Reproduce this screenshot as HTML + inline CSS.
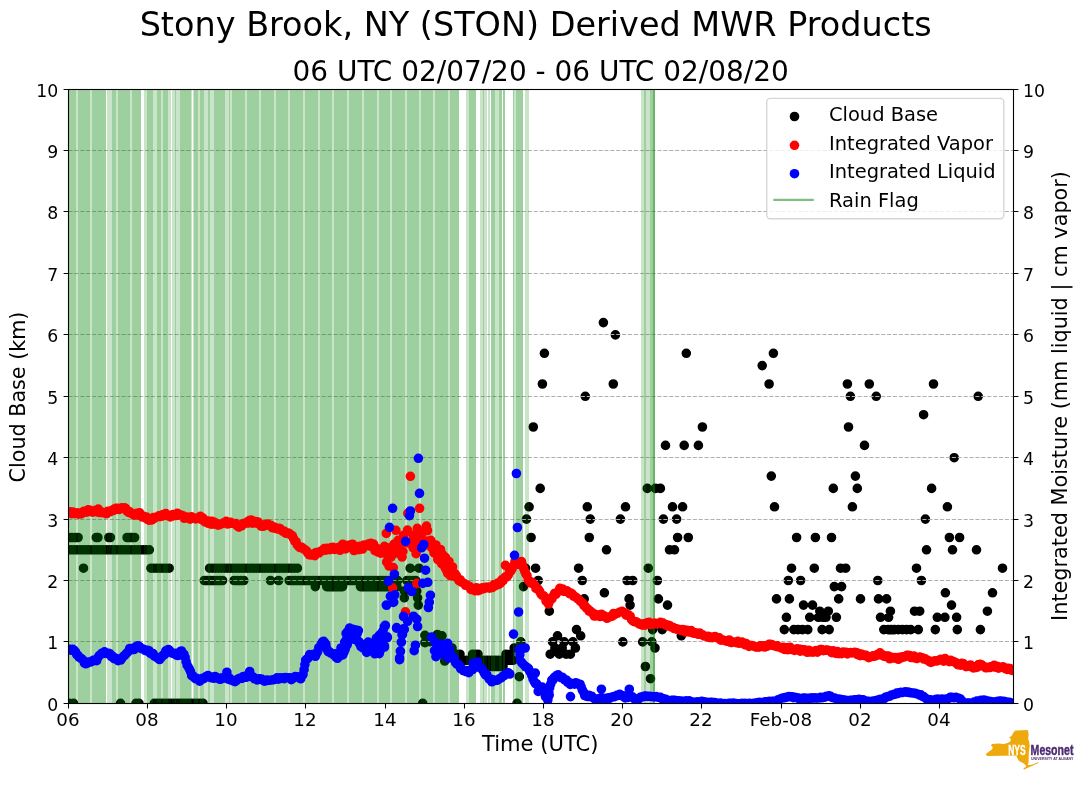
<!DOCTYPE html>
<html><head><meta charset="utf-8"><title>Stony Brook, NY (STON) Derived MWR Products</title>
<style>html,body{margin:0;padding:0;background:#fff}svg{display:block}</style></head>
<body><svg width="1089" height="804" viewBox="0 0 1089 804">
<defs><clipPath id="ax"><rect x="68.5" y="89.5" width="945.0" height="614.0"/></clipPath></defs>
<rect width="1089" height="804" fill="#fff"/>
<g clip-path="url(#ax)">
<path d="M64 537.5a4.8 4.8 0 1 0 9.6 0a4.8 4.8 0 1 0 -9.6 0M67.1 537.5a4.8 4.8 0 1 0 9.6 0a4.8 4.8 0 1 0 -9.6 0M70.2 537.5a4.8 4.8 0 1 0 9.6 0a4.8 4.8 0 1 0 -9.6 0M73.3 537.5a4.8 4.8 0 1 0 9.6 0a4.8 4.8 0 1 0 -9.6 0M91.5 537.5a4.8 4.8 0 1 0 9.6 0a4.8 4.8 0 1 0 -9.6 0M93.1 537.5a4.8 4.8 0 1 0 9.6 0a4.8 4.8 0 1 0 -9.6 0M104 537.5a4.8 4.8 0 1 0 9.6 0a4.8 4.8 0 1 0 -9.6 0M105.6 537.5a4.8 4.8 0 1 0 9.6 0a4.8 4.8 0 1 0 -9.6 0M122.3 537.5a4.8 4.8 0 1 0 9.6 0a4.8 4.8 0 1 0 -9.6 0M124.8 537.5a4.8 4.8 0 1 0 9.6 0a4.8 4.8 0 1 0 -9.6 0M127.3 537.5a4.8 4.8 0 1 0 9.6 0a4.8 4.8 0 1 0 -9.6 0M129.8 537.5a4.8 4.8 0 1 0 9.6 0a4.8 4.8 0 1 0 -9.6 0M64 549.8a4.8 4.8 0 1 0 9.6 0a4.8 4.8 0 1 0 -9.6 0M66.9 549.8a4.8 4.8 0 1 0 9.6 0a4.8 4.8 0 1 0 -9.6 0M69.8 549.8a4.8 4.8 0 1 0 9.6 0a4.8 4.8 0 1 0 -9.6 0M72.6 549.8a4.8 4.8 0 1 0 9.6 0a4.8 4.8 0 1 0 -9.6 0M75.5 549.8a4.8 4.8 0 1 0 9.6 0a4.8 4.8 0 1 0 -9.6 0M78.4 549.8a4.8 4.8 0 1 0 9.6 0a4.8 4.8 0 1 0 -9.6 0M81.2 549.8a4.8 4.8 0 1 0 9.6 0a4.8 4.8 0 1 0 -9.6 0M84.1 549.8a4.8 4.8 0 1 0 9.6 0a4.8 4.8 0 1 0 -9.6 0M87 549.8a4.8 4.8 0 1 0 9.6 0a4.8 4.8 0 1 0 -9.6 0M89.9 549.8a4.8 4.8 0 1 0 9.6 0a4.8 4.8 0 1 0 -9.6 0M92.8 549.8a4.8 4.8 0 1 0 9.6 0a4.8 4.8 0 1 0 -9.6 0M95.6 549.8a4.8 4.8 0 1 0 9.6 0a4.8 4.8 0 1 0 -9.6 0M98.5 549.8a4.8 4.8 0 1 0 9.6 0a4.8 4.8 0 1 0 -9.6 0M101.4 549.8a4.8 4.8 0 1 0 9.6 0a4.8 4.8 0 1 0 -9.6 0M104.3 549.8a4.8 4.8 0 1 0 9.6 0a4.8 4.8 0 1 0 -9.6 0M107.1 549.8a4.8 4.8 0 1 0 9.6 0a4.8 4.8 0 1 0 -9.6 0M110 549.8a4.8 4.8 0 1 0 9.6 0a4.8 4.8 0 1 0 -9.6 0M112.9 549.8a4.8 4.8 0 1 0 9.6 0a4.8 4.8 0 1 0 -9.6 0M115.8 549.8a4.8 4.8 0 1 0 9.6 0a4.8 4.8 0 1 0 -9.6 0M118.6 549.8a4.8 4.8 0 1 0 9.6 0a4.8 4.8 0 1 0 -9.6 0M121.5 549.8a4.8 4.8 0 1 0 9.6 0a4.8 4.8 0 1 0 -9.6 0M124.4 549.8a4.8 4.8 0 1 0 9.6 0a4.8 4.8 0 1 0 -9.6 0M127.3 549.8a4.8 4.8 0 1 0 9.6 0a4.8 4.8 0 1 0 -9.6 0M130.1 549.8a4.8 4.8 0 1 0 9.6 0a4.8 4.8 0 1 0 -9.6 0M133 549.8a4.8 4.8 0 1 0 9.6 0a4.8 4.8 0 1 0 -9.6 0M135.9 549.8a4.8 4.8 0 1 0 9.6 0a4.8 4.8 0 1 0 -9.6 0M138.8 549.8a4.8 4.8 0 1 0 9.6 0a4.8 4.8 0 1 0 -9.6 0M141.6 549.8a4.8 4.8 0 1 0 9.6 0a4.8 4.8 0 1 0 -9.6 0M144.5 549.8a4.8 4.8 0 1 0 9.6 0a4.8 4.8 0 1 0 -9.6 0M78.7 568.2a4.8 4.8 0 1 0 9.6 0a4.8 4.8 0 1 0 -9.6 0M146.2 568.2a4.8 4.8 0 1 0 9.6 0a4.8 4.8 0 1 0 -9.6 0M149.2 568.2a4.8 4.8 0 1 0 9.6 0a4.8 4.8 0 1 0 -9.6 0M152.3 568.2a4.8 4.8 0 1 0 9.6 0a4.8 4.8 0 1 0 -9.6 0M155.3 568.2a4.8 4.8 0 1 0 9.6 0a4.8 4.8 0 1 0 -9.6 0M158.3 568.2a4.8 4.8 0 1 0 9.6 0a4.8 4.8 0 1 0 -9.6 0M161.4 568.2a4.8 4.8 0 1 0 9.6 0a4.8 4.8 0 1 0 -9.6 0M164.4 568.2a4.8 4.8 0 1 0 9.6 0a4.8 4.8 0 1 0 -9.6 0M204.8 568.2a4.8 4.8 0 1 0 9.6 0a4.8 4.8 0 1 0 -9.6 0M207.7 568.2a4.8 4.8 0 1 0 9.6 0a4.8 4.8 0 1 0 -9.6 0M210.7 568.2a4.8 4.8 0 1 0 9.6 0a4.8 4.8 0 1 0 -9.6 0M213.6 568.2a4.8 4.8 0 1 0 9.6 0a4.8 4.8 0 1 0 -9.6 0M216.5 568.2a4.8 4.8 0 1 0 9.6 0a4.8 4.8 0 1 0 -9.6 0M219.4 568.2a4.8 4.8 0 1 0 9.6 0a4.8 4.8 0 1 0 -9.6 0M222.4 568.2a4.8 4.8 0 1 0 9.6 0a4.8 4.8 0 1 0 -9.6 0M225.3 568.2a4.8 4.8 0 1 0 9.6 0a4.8 4.8 0 1 0 -9.6 0M228.2 568.2a4.8 4.8 0 1 0 9.6 0a4.8 4.8 0 1 0 -9.6 0M231.1 568.2a4.8 4.8 0 1 0 9.6 0a4.8 4.8 0 1 0 -9.6 0M234.1 568.2a4.8 4.8 0 1 0 9.6 0a4.8 4.8 0 1 0 -9.6 0M237 568.2a4.8 4.8 0 1 0 9.6 0a4.8 4.8 0 1 0 -9.6 0M239.9 568.2a4.8 4.8 0 1 0 9.6 0a4.8 4.8 0 1 0 -9.6 0M242.8 568.2a4.8 4.8 0 1 0 9.6 0a4.8 4.8 0 1 0 -9.6 0M245.8 568.2a4.8 4.8 0 1 0 9.6 0a4.8 4.8 0 1 0 -9.6 0M248.7 568.2a4.8 4.8 0 1 0 9.6 0a4.8 4.8 0 1 0 -9.6 0M251.6 568.2a4.8 4.8 0 1 0 9.6 0a4.8 4.8 0 1 0 -9.6 0M254.6 568.2a4.8 4.8 0 1 0 9.6 0a4.8 4.8 0 1 0 -9.6 0M257.5 568.2a4.8 4.8 0 1 0 9.6 0a4.8 4.8 0 1 0 -9.6 0M260.4 568.2a4.8 4.8 0 1 0 9.6 0a4.8 4.8 0 1 0 -9.6 0M263.3 568.2a4.8 4.8 0 1 0 9.6 0a4.8 4.8 0 1 0 -9.6 0M266.3 568.2a4.8 4.8 0 1 0 9.6 0a4.8 4.8 0 1 0 -9.6 0M269.2 568.2a4.8 4.8 0 1 0 9.6 0a4.8 4.8 0 1 0 -9.6 0M272.1 568.2a4.8 4.8 0 1 0 9.6 0a4.8 4.8 0 1 0 -9.6 0M275 568.2a4.8 4.8 0 1 0 9.6 0a4.8 4.8 0 1 0 -9.6 0M278 568.2a4.8 4.8 0 1 0 9.6 0a4.8 4.8 0 1 0 -9.6 0M280.9 568.2a4.8 4.8 0 1 0 9.6 0a4.8 4.8 0 1 0 -9.6 0M283.8 568.2a4.8 4.8 0 1 0 9.6 0a4.8 4.8 0 1 0 -9.6 0M286.7 568.2a4.8 4.8 0 1 0 9.6 0a4.8 4.8 0 1 0 -9.6 0M289.7 568.2a4.8 4.8 0 1 0 9.6 0a4.8 4.8 0 1 0 -9.6 0M292.6 568.2a4.8 4.8 0 1 0 9.6 0a4.8 4.8 0 1 0 -9.6 0M199.5 580.5a4.8 4.8 0 1 0 9.6 0a4.8 4.8 0 1 0 -9.6 0M202.5 580.5a4.8 4.8 0 1 0 9.6 0a4.8 4.8 0 1 0 -9.6 0M205.6 580.5a4.8 4.8 0 1 0 9.6 0a4.8 4.8 0 1 0 -9.6 0M208.6 580.5a4.8 4.8 0 1 0 9.6 0a4.8 4.8 0 1 0 -9.6 0M211.6 580.5a4.8 4.8 0 1 0 9.6 0a4.8 4.8 0 1 0 -9.6 0M214.7 580.5a4.8 4.8 0 1 0 9.6 0a4.8 4.8 0 1 0 -9.6 0M217.7 580.5a4.8 4.8 0 1 0 9.6 0a4.8 4.8 0 1 0 -9.6 0M229.3 580.5a4.8 4.8 0 1 0 9.6 0a4.8 4.8 0 1 0 -9.6 0M232.5 580.5a4.8 4.8 0 1 0 9.6 0a4.8 4.8 0 1 0 -9.6 0M235.8 580.5a4.8 4.8 0 1 0 9.6 0a4.8 4.8 0 1 0 -9.6 0M239 580.5a4.8 4.8 0 1 0 9.6 0a4.8 4.8 0 1 0 -9.6 0M265.7 580.5a4.8 4.8 0 1 0 9.6 0a4.8 4.8 0 1 0 -9.6 0M273.8 580.5a4.8 4.8 0 1 0 9.6 0a4.8 4.8 0 1 0 -9.6 0M284.4 580.5a4.8 4.8 0 1 0 9.6 0a4.8 4.8 0 1 0 -9.6 0M287.3 580.5a4.8 4.8 0 1 0 9.6 0a4.8 4.8 0 1 0 -9.6 0M290.3 580.5a4.8 4.8 0 1 0 9.6 0a4.8 4.8 0 1 0 -9.6 0M293.2 580.5a4.8 4.8 0 1 0 9.6 0a4.8 4.8 0 1 0 -9.6 0M296.1 580.5a4.8 4.8 0 1 0 9.6 0a4.8 4.8 0 1 0 -9.6 0M299.1 580.5a4.8 4.8 0 1 0 9.6 0a4.8 4.8 0 1 0 -9.6 0M302 580.5a4.8 4.8 0 1 0 9.6 0a4.8 4.8 0 1 0 -9.6 0M304.9 580.5a4.8 4.8 0 1 0 9.6 0a4.8 4.8 0 1 0 -9.6 0M307.9 580.5a4.8 4.8 0 1 0 9.6 0a4.8 4.8 0 1 0 -9.6 0M310.8 580.5a4.8 4.8 0 1 0 9.6 0a4.8 4.8 0 1 0 -9.6 0M313.7 580.5a4.8 4.8 0 1 0 9.6 0a4.8 4.8 0 1 0 -9.6 0M316.7 580.5a4.8 4.8 0 1 0 9.6 0a4.8 4.8 0 1 0 -9.6 0M319.6 580.5a4.8 4.8 0 1 0 9.6 0a4.8 4.8 0 1 0 -9.6 0M322.5 580.5a4.8 4.8 0 1 0 9.6 0a4.8 4.8 0 1 0 -9.6 0M325.5 580.5a4.8 4.8 0 1 0 9.6 0a4.8 4.8 0 1 0 -9.6 0M328.4 580.5a4.8 4.8 0 1 0 9.6 0a4.8 4.8 0 1 0 -9.6 0M331.3 580.5a4.8 4.8 0 1 0 9.6 0a4.8 4.8 0 1 0 -9.6 0M334.3 580.5a4.8 4.8 0 1 0 9.6 0a4.8 4.8 0 1 0 -9.6 0M337.2 580.5a4.8 4.8 0 1 0 9.6 0a4.8 4.8 0 1 0 -9.6 0M340.1 580.5a4.8 4.8 0 1 0 9.6 0a4.8 4.8 0 1 0 -9.6 0M343 580.5a4.8 4.8 0 1 0 9.6 0a4.8 4.8 0 1 0 -9.6 0M346 580.5a4.8 4.8 0 1 0 9.6 0a4.8 4.8 0 1 0 -9.6 0M348.9 580.5a4.8 4.8 0 1 0 9.6 0a4.8 4.8 0 1 0 -9.6 0M351.8 580.5a4.8 4.8 0 1 0 9.6 0a4.8 4.8 0 1 0 -9.6 0M354.8 580.5a4.8 4.8 0 1 0 9.6 0a4.8 4.8 0 1 0 -9.6 0M357.7 580.5a4.8 4.8 0 1 0 9.6 0a4.8 4.8 0 1 0 -9.6 0M360.6 580.5a4.8 4.8 0 1 0 9.6 0a4.8 4.8 0 1 0 -9.6 0M363.6 580.5a4.8 4.8 0 1 0 9.6 0a4.8 4.8 0 1 0 -9.6 0M366.5 580.5a4.8 4.8 0 1 0 9.6 0a4.8 4.8 0 1 0 -9.6 0M369.4 580.5a4.8 4.8 0 1 0 9.6 0a4.8 4.8 0 1 0 -9.6 0M372.4 580.5a4.8 4.8 0 1 0 9.6 0a4.8 4.8 0 1 0 -9.6 0M375.3 580.5a4.8 4.8 0 1 0 9.6 0a4.8 4.8 0 1 0 -9.6 0M378.2 580.5a4.8 4.8 0 1 0 9.6 0a4.8 4.8 0 1 0 -9.6 0M381.2 580.5a4.8 4.8 0 1 0 9.6 0a4.8 4.8 0 1 0 -9.6 0M384.1 580.5a4.8 4.8 0 1 0 9.6 0a4.8 4.8 0 1 0 -9.6 0M387 580.5a4.8 4.8 0 1 0 9.6 0a4.8 4.8 0 1 0 -9.6 0M390 580.5a4.8 4.8 0 1 0 9.6 0a4.8 4.8 0 1 0 -9.6 0M392.9 580.5a4.8 4.8 0 1 0 9.6 0a4.8 4.8 0 1 0 -9.6 0M310.5 586.6a4.8 4.8 0 1 0 9.6 0a4.8 4.8 0 1 0 -9.6 0M321.9 586.6a4.8 4.8 0 1 0 9.6 0a4.8 4.8 0 1 0 -9.6 0M325.1 586.6a4.8 4.8 0 1 0 9.6 0a4.8 4.8 0 1 0 -9.6 0M328.3 586.6a4.8 4.8 0 1 0 9.6 0a4.8 4.8 0 1 0 -9.6 0M331.4 586.6a4.8 4.8 0 1 0 9.6 0a4.8 4.8 0 1 0 -9.6 0M334.6 586.6a4.8 4.8 0 1 0 9.6 0a4.8 4.8 0 1 0 -9.6 0M337.8 586.6a4.8 4.8 0 1 0 9.6 0a4.8 4.8 0 1 0 -9.6 0M355.7 586.6a4.8 4.8 0 1 0 9.6 0a4.8 4.8 0 1 0 -9.6 0M358.5 586.6a4.8 4.8 0 1 0 9.6 0a4.8 4.8 0 1 0 -9.6 0M361.3 586.6a4.8 4.8 0 1 0 9.6 0a4.8 4.8 0 1 0 -9.6 0M364.1 586.6a4.8 4.8 0 1 0 9.6 0a4.8 4.8 0 1 0 -9.6 0M366.9 586.6a4.8 4.8 0 1 0 9.6 0a4.8 4.8 0 1 0 -9.6 0M369.7 586.6a4.8 4.8 0 1 0 9.6 0a4.8 4.8 0 1 0 -9.6 0M372.5 586.6a4.8 4.8 0 1 0 9.6 0a4.8 4.8 0 1 0 -9.6 0M375.4 586.6a4.8 4.8 0 1 0 9.6 0a4.8 4.8 0 1 0 -9.6 0M378.2 586.6a4.8 4.8 0 1 0 9.6 0a4.8 4.8 0 1 0 -9.6 0M381 586.6a4.8 4.8 0 1 0 9.6 0a4.8 4.8 0 1 0 -9.6 0M383.8 586.6a4.8 4.8 0 1 0 9.6 0a4.8 4.8 0 1 0 -9.6 0M386.6 586.6a4.8 4.8 0 1 0 9.6 0a4.8 4.8 0 1 0 -9.6 0M389.4 586.6a4.8 4.8 0 1 0 9.6 0a4.8 4.8 0 1 0 -9.6 0M392.2 586.6a4.8 4.8 0 1 0 9.6 0a4.8 4.8 0 1 0 -9.6 0M402.1 580.5a4.8 4.8 0 1 0 9.6 0a4.8 4.8 0 1 0 -9.6 0M405 580.5a4.8 4.8 0 1 0 9.6 0a4.8 4.8 0 1 0 -9.6 0M408 580.5a4.8 4.8 0 1 0 9.6 0a4.8 4.8 0 1 0 -9.6 0M410.9 580.5a4.8 4.8 0 1 0 9.6 0a4.8 4.8 0 1 0 -9.6 0M405.4 568.2a4.8 4.8 0 1 0 9.6 0a4.8 4.8 0 1 0 -9.6 0M414.2 568.2a4.8 4.8 0 1 0 9.6 0a4.8 4.8 0 1 0 -9.6 0M64.2 703.3a4.8 4.8 0 1 0 9.6 0a4.8 4.8 0 1 0 -9.6 0M68.7 703.3a4.8 4.8 0 1 0 9.6 0a4.8 4.8 0 1 0 -9.6 0M115.7 703.3a4.8 4.8 0 1 0 9.6 0a4.8 4.8 0 1 0 -9.6 0M131.2 703.3a4.8 4.8 0 1 0 9.6 0a4.8 4.8 0 1 0 -9.6 0M134.2 703.3a4.8 4.8 0 1 0 9.6 0a4.8 4.8 0 1 0 -9.6 0M149.5 703.3a4.8 4.8 0 1 0 9.6 0a4.8 4.8 0 1 0 -9.6 0M152.4 703.3a4.8 4.8 0 1 0 9.6 0a4.8 4.8 0 1 0 -9.6 0M155.2 703.3a4.8 4.8 0 1 0 9.6 0a4.8 4.8 0 1 0 -9.6 0M158.1 703.3a4.8 4.8 0 1 0 9.6 0a4.8 4.8 0 1 0 -9.6 0M161 703.3a4.8 4.8 0 1 0 9.6 0a4.8 4.8 0 1 0 -9.6 0M163.8 703.3a4.8 4.8 0 1 0 9.6 0a4.8 4.8 0 1 0 -9.6 0M166.7 703.3a4.8 4.8 0 1 0 9.6 0a4.8 4.8 0 1 0 -9.6 0M169.6 703.3a4.8 4.8 0 1 0 9.6 0a4.8 4.8 0 1 0 -9.6 0M172.4 703.3a4.8 4.8 0 1 0 9.6 0a4.8 4.8 0 1 0 -9.6 0M175.3 703.3a4.8 4.8 0 1 0 9.6 0a4.8 4.8 0 1 0 -9.6 0M178.1 703.3a4.8 4.8 0 1 0 9.6 0a4.8 4.8 0 1 0 -9.6 0M181 703.3a4.8 4.8 0 1 0 9.6 0a4.8 4.8 0 1 0 -9.6 0M183.9 703.3a4.8 4.8 0 1 0 9.6 0a4.8 4.8 0 1 0 -9.6 0M186.7 703.3a4.8 4.8 0 1 0 9.6 0a4.8 4.8 0 1 0 -9.6 0M189.6 703.3a4.8 4.8 0 1 0 9.6 0a4.8 4.8 0 1 0 -9.6 0M192.5 703.3a4.8 4.8 0 1 0 9.6 0a4.8 4.8 0 1 0 -9.6 0M195.3 703.3a4.8 4.8 0 1 0 9.6 0a4.8 4.8 0 1 0 -9.6 0M198.2 703.3a4.8 4.8 0 1 0 9.6 0a4.8 4.8 0 1 0 -9.6 0M417.9 703.3a4.8 4.8 0 1 0 9.6 0a4.8 4.8 0 1 0 -9.6 0M512.3 703.3a4.8 4.8 0 1 0 9.6 0a4.8 4.8 0 1 0 -9.6 0M399.5 591.1a4.8 4.8 0 1 0 9.6 0a4.8 4.8 0 1 0 -9.6 0M399.5 597.8a4.8 4.8 0 1 0 9.6 0a4.8 4.8 0 1 0 -9.6 0M412 591.1a4.8 4.8 0 1 0 9.6 0a4.8 4.8 0 1 0 -9.6 0M412.8 597.8a4.8 4.8 0 1 0 9.6 0a4.8 4.8 0 1 0 -9.6 0M413.5 605.1a4.8 4.8 0 1 0 9.6 0a4.8 4.8 0 1 0 -9.6 0M420.1 635.3a4.8 4.8 0 1 0 9.6 0a4.8 4.8 0 1 0 -9.6 0M432.6 634.5a4.8 4.8 0 1 0 9.6 0a4.8 4.8 0 1 0 -9.6 0M420.1 642.6a4.8 4.8 0 1 0 9.6 0a4.8 4.8 0 1 0 -9.6 0M425.2 641.6a4.8 4.8 0 1 0 9.6 0a4.8 4.8 0 1 0 -9.6 0M434.7 639a4.8 4.8 0 1 0 9.6 0a4.8 4.8 0 1 0 -9.6 0M439.9 661a4.8 4.8 0 1 0 9.6 0a4.8 4.8 0 1 0 -9.6 0M433.2 635.8a4.8 4.8 0 1 0 9.6 0a4.8 4.8 0 1 0 -9.6 0M437.2 635.8a4.8 4.8 0 1 0 9.6 0a4.8 4.8 0 1 0 -9.6 0M439.2 648a4.8 4.8 0 1 0 9.6 0a4.8 4.8 0 1 0 -9.6 0M441.9 648a4.8 4.8 0 1 0 9.6 0a4.8 4.8 0 1 0 -9.6 0M444.5 648a4.8 4.8 0 1 0 9.6 0a4.8 4.8 0 1 0 -9.6 0M447.2 648a4.8 4.8 0 1 0 9.6 0a4.8 4.8 0 1 0 -9.6 0M449.2 654.2a4.8 4.8 0 1 0 9.6 0a4.8 4.8 0 1 0 -9.6 0M452.2 654.2a4.8 4.8 0 1 0 9.6 0a4.8 4.8 0 1 0 -9.6 0M455.2 654.2a4.8 4.8 0 1 0 9.6 0a4.8 4.8 0 1 0 -9.6 0M467.8 654.2a4.8 4.8 0 1 0 9.6 0a4.8 4.8 0 1 0 -9.6 0M470.5 654.2a4.8 4.8 0 1 0 9.6 0a4.8 4.8 0 1 0 -9.6 0M473.2 654.2a4.8 4.8 0 1 0 9.6 0a4.8 4.8 0 1 0 -9.6 0M501.2 654.2a4.8 4.8 0 1 0 9.6 0a4.8 4.8 0 1 0 -9.6 0M505.2 654.2a4.8 4.8 0 1 0 9.6 0a4.8 4.8 0 1 0 -9.6 0M453.2 660.3a4.8 4.8 0 1 0 9.6 0a4.8 4.8 0 1 0 -9.6 0M456.1 660.3a4.8 4.8 0 1 0 9.6 0a4.8 4.8 0 1 0 -9.6 0M459 660.3a4.8 4.8 0 1 0 9.6 0a4.8 4.8 0 1 0 -9.6 0M461.9 660.3a4.8 4.8 0 1 0 9.6 0a4.8 4.8 0 1 0 -9.6 0M464.8 660.3a4.8 4.8 0 1 0 9.6 0a4.8 4.8 0 1 0 -9.6 0M467.7 660.3a4.8 4.8 0 1 0 9.6 0a4.8 4.8 0 1 0 -9.6 0M470.6 660.3a4.8 4.8 0 1 0 9.6 0a4.8 4.8 0 1 0 -9.6 0M473.5 660.3a4.8 4.8 0 1 0 9.6 0a4.8 4.8 0 1 0 -9.6 0M476.4 660.3a4.8 4.8 0 1 0 9.6 0a4.8 4.8 0 1 0 -9.6 0M479.3 660.3a4.8 4.8 0 1 0 9.6 0a4.8 4.8 0 1 0 -9.6 0M482.1 660.3a4.8 4.8 0 1 0 9.6 0a4.8 4.8 0 1 0 -9.6 0M485 660.3a4.8 4.8 0 1 0 9.6 0a4.8 4.8 0 1 0 -9.6 0M487.9 660.3a4.8 4.8 0 1 0 9.6 0a4.8 4.8 0 1 0 -9.6 0M490.8 660.3a4.8 4.8 0 1 0 9.6 0a4.8 4.8 0 1 0 -9.6 0M493.7 660.3a4.8 4.8 0 1 0 9.6 0a4.8 4.8 0 1 0 -9.6 0M496.6 660.3a4.8 4.8 0 1 0 9.6 0a4.8 4.8 0 1 0 -9.6 0M499.5 660.3a4.8 4.8 0 1 0 9.6 0a4.8 4.8 0 1 0 -9.6 0M502.4 660.3a4.8 4.8 0 1 0 9.6 0a4.8 4.8 0 1 0 -9.6 0M505.3 660.3a4.8 4.8 0 1 0 9.6 0a4.8 4.8 0 1 0 -9.6 0M508.2 660.3a4.8 4.8 0 1 0 9.6 0a4.8 4.8 0 1 0 -9.6 0M481.2 666.5a4.8 4.8 0 1 0 9.6 0a4.8 4.8 0 1 0 -9.6 0M484 666.5a4.8 4.8 0 1 0 9.6 0a4.8 4.8 0 1 0 -9.6 0M486.9 666.5a4.8 4.8 0 1 0 9.6 0a4.8 4.8 0 1 0 -9.6 0M489.7 666.5a4.8 4.8 0 1 0 9.6 0a4.8 4.8 0 1 0 -9.6 0M492.5 666.5a4.8 4.8 0 1 0 9.6 0a4.8 4.8 0 1 0 -9.6 0M495.4 666.5a4.8 4.8 0 1 0 9.6 0a4.8 4.8 0 1 0 -9.6 0M498.2 666.5a4.8 4.8 0 1 0 9.6 0a4.8 4.8 0 1 0 -9.6 0M516 641.9a4.8 4.8 0 1 0 9.6 0a4.8 4.8 0 1 0 -9.6 0M509.4 648a4.8 4.8 0 1 0 9.6 0a4.8 4.8 0 1 0 -9.6 0M514.5 676.7a4.8 4.8 0 1 0 9.6 0a4.8 4.8 0 1 0 -9.6 0M518.7 586.6a4.8 4.8 0 1 0 9.6 0a4.8 4.8 0 1 0 -9.6 0M598.6 322.6a4.8 4.8 0 1 0 9.6 0a4.8 4.8 0 1 0 -9.6 0M610.6 334.9a4.8 4.8 0 1 0 9.6 0a4.8 4.8 0 1 0 -9.6 0M539.6 353.3a4.8 4.8 0 1 0 9.6 0a4.8 4.8 0 1 0 -9.6 0M681.5 353.3a4.8 4.8 0 1 0 9.6 0a4.8 4.8 0 1 0 -9.6 0M537.6 384a4.8 4.8 0 1 0 9.6 0a4.8 4.8 0 1 0 -9.6 0M608.5 384a4.8 4.8 0 1 0 9.6 0a4.8 4.8 0 1 0 -9.6 0M580.5 396.3a4.8 4.8 0 1 0 9.6 0a4.8 4.8 0 1 0 -9.6 0M528.5 427a4.8 4.8 0 1 0 9.6 0a4.8 4.8 0 1 0 -9.6 0M697.6 427a4.8 4.8 0 1 0 9.6 0a4.8 4.8 0 1 0 -9.6 0M660.7 445.4a4.8 4.8 0 1 0 9.6 0a4.8 4.8 0 1 0 -9.6 0M679.4 445.4a4.8 4.8 0 1 0 9.6 0a4.8 4.8 0 1 0 -9.6 0M693.6 445.4a4.8 4.8 0 1 0 9.6 0a4.8 4.8 0 1 0 -9.6 0M535.4 488.4a4.8 4.8 0 1 0 9.6 0a4.8 4.8 0 1 0 -9.6 0M642.5 488.4a4.8 4.8 0 1 0 9.6 0a4.8 4.8 0 1 0 -9.6 0M650.6 488.4a4.8 4.8 0 1 0 9.6 0a4.8 4.8 0 1 0 -9.6 0M655.6 488.4a4.8 4.8 0 1 0 9.6 0a4.8 4.8 0 1 0 -9.6 0M524.3 506.8a4.8 4.8 0 1 0 9.6 0a4.8 4.8 0 1 0 -9.6 0M582.5 506.8a4.8 4.8 0 1 0 9.6 0a4.8 4.8 0 1 0 -9.6 0M620.7 506.8a4.8 4.8 0 1 0 9.6 0a4.8 4.8 0 1 0 -9.6 0M667.7 506.8a4.8 4.8 0 1 0 9.6 0a4.8 4.8 0 1 0 -9.6 0M677.8 506.8a4.8 4.8 0 1 0 9.6 0a4.8 4.8 0 1 0 -9.6 0M521.7 519.1a4.8 4.8 0 1 0 9.6 0a4.8 4.8 0 1 0 -9.6 0M585.5 519.1a4.8 4.8 0 1 0 9.6 0a4.8 4.8 0 1 0 -9.6 0M615.6 519.1a4.8 4.8 0 1 0 9.6 0a4.8 4.8 0 1 0 -9.6 0M658.6 519.1a4.8 4.8 0 1 0 9.6 0a4.8 4.8 0 1 0 -9.6 0M671.8 519.1a4.8 4.8 0 1 0 9.6 0a4.8 4.8 0 1 0 -9.6 0M526.3 537.5a4.8 4.8 0 1 0 9.6 0a4.8 4.8 0 1 0 -9.6 0M584.5 537.5a4.8 4.8 0 1 0 9.6 0a4.8 4.8 0 1 0 -9.6 0M672.8 537.5a4.8 4.8 0 1 0 9.6 0a4.8 4.8 0 1 0 -9.6 0M683.5 537.5a4.8 4.8 0 1 0 9.6 0a4.8 4.8 0 1 0 -9.6 0M601.7 549.8a4.8 4.8 0 1 0 9.6 0a4.8 4.8 0 1 0 -9.6 0M664.7 549.8a4.8 4.8 0 1 0 9.6 0a4.8 4.8 0 1 0 -9.6 0M669.7 549.8a4.8 4.8 0 1 0 9.6 0a4.8 4.8 0 1 0 -9.6 0M530.8 568.2a4.8 4.8 0 1 0 9.6 0a4.8 4.8 0 1 0 -9.6 0M520.7 568.2a4.8 4.8 0 1 0 9.6 0a4.8 4.8 0 1 0 -9.6 0M573.8 568.2a4.8 4.8 0 1 0 9.6 0a4.8 4.8 0 1 0 -9.6 0M643.5 568.2a4.8 4.8 0 1 0 9.6 0a4.8 4.8 0 1 0 -9.6 0M533.4 580.5a4.8 4.8 0 1 0 9.6 0a4.8 4.8 0 1 0 -9.6 0M577.4 580.5a4.8 4.8 0 1 0 9.6 0a4.8 4.8 0 1 0 -9.6 0M622.3 580.5a4.8 4.8 0 1 0 9.6 0a4.8 4.8 0 1 0 -9.6 0M627.9 580.5a4.8 4.8 0 1 0 9.6 0a4.8 4.8 0 1 0 -9.6 0M652.6 580.5a4.8 4.8 0 1 0 9.6 0a4.8 4.8 0 1 0 -9.6 0M599.6 592.8a4.8 4.8 0 1 0 9.6 0a4.8 4.8 0 1 0 -9.6 0M579.4 598.9a4.8 4.8 0 1 0 9.6 0a4.8 4.8 0 1 0 -9.6 0M624.3 598.9a4.8 4.8 0 1 0 9.6 0a4.8 4.8 0 1 0 -9.6 0M653.6 598.9a4.8 4.8 0 1 0 9.6 0a4.8 4.8 0 1 0 -9.6 0M625.3 605.1a4.8 4.8 0 1 0 9.6 0a4.8 4.8 0 1 0 -9.6 0M662.7 605.1a4.8 4.8 0 1 0 9.6 0a4.8 4.8 0 1 0 -9.6 0M544.5 611.2a4.8 4.8 0 1 0 9.6 0a4.8 4.8 0 1 0 -9.6 0M571.7 629.6a4.8 4.8 0 1 0 9.6 0a4.8 4.8 0 1 0 -9.6 0M575.9 635.8a4.8 4.8 0 1 0 9.6 0a4.8 4.8 0 1 0 -9.6 0M552.7 635.8a4.8 4.8 0 1 0 9.6 0a4.8 4.8 0 1 0 -9.6 0M547.8 641.9a4.8 4.8 0 1 0 9.6 0a4.8 4.8 0 1 0 -9.6 0M559.4 641.9a4.8 4.8 0 1 0 9.6 0a4.8 4.8 0 1 0 -9.6 0M568.1 641.9a4.8 4.8 0 1 0 9.6 0a4.8 4.8 0 1 0 -9.6 0M550.1 648a4.8 4.8 0 1 0 9.6 0a4.8 4.8 0 1 0 -9.6 0M557.4 648a4.8 4.8 0 1 0 9.6 0a4.8 4.8 0 1 0 -9.6 0M570.6 648a4.8 4.8 0 1 0 9.6 0a4.8 4.8 0 1 0 -9.6 0M545.4 654.2a4.8 4.8 0 1 0 9.6 0a4.8 4.8 0 1 0 -9.6 0M554.5 654.2a4.8 4.8 0 1 0 9.6 0a4.8 4.8 0 1 0 -9.6 0M561.3 654.2a4.8 4.8 0 1 0 9.6 0a4.8 4.8 0 1 0 -9.6 0M565.6 654.2a4.8 4.8 0 1 0 9.6 0a4.8 4.8 0 1 0 -9.6 0M618 641.9a4.8 4.8 0 1 0 9.6 0a4.8 4.8 0 1 0 -9.6 0M637.9 641.9a4.8 4.8 0 1 0 9.6 0a4.8 4.8 0 1 0 -9.6 0M647 641.9a4.8 4.8 0 1 0 9.6 0a4.8 4.8 0 1 0 -9.6 0M650.2 648a4.8 4.8 0 1 0 9.6 0a4.8 4.8 0 1 0 -9.6 0M647.8 629.6a4.8 4.8 0 1 0 9.6 0a4.8 4.8 0 1 0 -9.6 0M657.4 629.6a4.8 4.8 0 1 0 9.6 0a4.8 4.8 0 1 0 -9.6 0M676.5 635.8a4.8 4.8 0 1 0 9.6 0a4.8 4.8 0 1 0 -9.6 0M640.6 666.5a4.8 4.8 0 1 0 9.6 0a4.8 4.8 0 1 0 -9.6 0M645.7 678.7a4.8 4.8 0 1 0 9.6 0a4.8 4.8 0 1 0 -9.6 0M768.6 353.3a4.8 4.8 0 1 0 9.6 0a4.8 4.8 0 1 0 -9.6 0M757.4 365.6a4.8 4.8 0 1 0 9.6 0a4.8 4.8 0 1 0 -9.6 0M764.3 384a4.8 4.8 0 1 0 9.6 0a4.8 4.8 0 1 0 -9.6 0M842.6 384a4.8 4.8 0 1 0 9.6 0a4.8 4.8 0 1 0 -9.6 0M864.5 384a4.8 4.8 0 1 0 9.6 0a4.8 4.8 0 1 0 -9.6 0M928.7 384a4.8 4.8 0 1 0 9.6 0a4.8 4.8 0 1 0 -9.6 0M845.6 396.3a4.8 4.8 0 1 0 9.6 0a4.8 4.8 0 1 0 -9.6 0M871.4 396.3a4.8 4.8 0 1 0 9.6 0a4.8 4.8 0 1 0 -9.6 0M973.4 396.3a4.8 4.8 0 1 0 9.6 0a4.8 4.8 0 1 0 -9.6 0M918.8 414.7a4.8 4.8 0 1 0 9.6 0a4.8 4.8 0 1 0 -9.6 0M843.7 427a4.8 4.8 0 1 0 9.6 0a4.8 4.8 0 1 0 -9.6 0M859.7 445.4a4.8 4.8 0 1 0 9.6 0a4.8 4.8 0 1 0 -9.6 0M949.4 457.7a4.8 4.8 0 1 0 9.6 0a4.8 4.8 0 1 0 -9.6 0M766.5 476.1a4.8 4.8 0 1 0 9.6 0a4.8 4.8 0 1 0 -9.6 0M850.6 476.1a4.8 4.8 0 1 0 9.6 0a4.8 4.8 0 1 0 -9.6 0M828.5 488.4a4.8 4.8 0 1 0 9.6 0a4.8 4.8 0 1 0 -9.6 0M852.5 488.4a4.8 4.8 0 1 0 9.6 0a4.8 4.8 0 1 0 -9.6 0M926.8 488.4a4.8 4.8 0 1 0 9.6 0a4.8 4.8 0 1 0 -9.6 0M769.7 506.8a4.8 4.8 0 1 0 9.6 0a4.8 4.8 0 1 0 -9.6 0M847.6 506.8a4.8 4.8 0 1 0 9.6 0a4.8 4.8 0 1 0 -9.6 0M942.6 506.8a4.8 4.8 0 1 0 9.6 0a4.8 4.8 0 1 0 -9.6 0M791.8 537.5a4.8 4.8 0 1 0 9.6 0a4.8 4.8 0 1 0 -9.6 0M810.6 537.5a4.8 4.8 0 1 0 9.6 0a4.8 4.8 0 1 0 -9.6 0M826.7 537.5a4.8 4.8 0 1 0 9.6 0a4.8 4.8 0 1 0 -9.6 0M786.7 568.2a4.8 4.8 0 1 0 9.6 0a4.8 4.8 0 1 0 -9.6 0M809.5 568.2a4.8 4.8 0 1 0 9.6 0a4.8 4.8 0 1 0 -9.6 0M835.7 568.2a4.8 4.8 0 1 0 9.6 0a4.8 4.8 0 1 0 -9.6 0M840.9 568.2a4.8 4.8 0 1 0 9.6 0a4.8 4.8 0 1 0 -9.6 0M783.5 580.5a4.8 4.8 0 1 0 9.6 0a4.8 4.8 0 1 0 -9.6 0M795.8 580.5a4.8 4.8 0 1 0 9.6 0a4.8 4.8 0 1 0 -9.6 0M873 580.5a4.8 4.8 0 1 0 9.6 0a4.8 4.8 0 1 0 -9.6 0M829.5 586.6a4.8 4.8 0 1 0 9.6 0a4.8 4.8 0 1 0 -9.6 0M836.8 586.6a4.8 4.8 0 1 0 9.6 0a4.8 4.8 0 1 0 -9.6 0M771.7 598.9a4.8 4.8 0 1 0 9.6 0a4.8 4.8 0 1 0 -9.6 0M784.6 598.9a4.8 4.8 0 1 0 9.6 0a4.8 4.8 0 1 0 -9.6 0M833.9 598.9a4.8 4.8 0 1 0 9.6 0a4.8 4.8 0 1 0 -9.6 0M855.7 598.9a4.8 4.8 0 1 0 9.6 0a4.8 4.8 0 1 0 -9.6 0M873.7 598.9a4.8 4.8 0 1 0 9.6 0a4.8 4.8 0 1 0 -9.6 0M798.7 605.1a4.8 4.8 0 1 0 9.6 0a4.8 4.8 0 1 0 -9.6 0M807.7 605.1a4.8 4.8 0 1 0 9.6 0a4.8 4.8 0 1 0 -9.6 0M815 611.2a4.8 4.8 0 1 0 9.6 0a4.8 4.8 0 1 0 -9.6 0M823.5 611.2a4.8 4.8 0 1 0 9.6 0a4.8 4.8 0 1 0 -9.6 0M781.6 617.3a4.8 4.8 0 1 0 9.6 0a4.8 4.8 0 1 0 -9.6 0M804.9 617.3a4.8 4.8 0 1 0 9.6 0a4.8 4.8 0 1 0 -9.6 0M813.6 617.3a4.8 4.8 0 1 0 9.6 0a4.8 4.8 0 1 0 -9.6 0M817.7 617.3a4.8 4.8 0 1 0 9.6 0a4.8 4.8 0 1 0 -9.6 0M821.2 617.3a4.8 4.8 0 1 0 9.6 0a4.8 4.8 0 1 0 -9.6 0M831.6 617.3a4.8 4.8 0 1 0 9.6 0a4.8 4.8 0 1 0 -9.6 0M875.7 617.3a4.8 4.8 0 1 0 9.6 0a4.8 4.8 0 1 0 -9.6 0M779.5 629.6a4.8 4.8 0 1 0 9.6 0a4.8 4.8 0 1 0 -9.6 0M789 629.6a4.8 4.8 0 1 0 9.6 0a4.8 4.8 0 1 0 -9.6 0M793.2 629.6a4.8 4.8 0 1 0 9.6 0a4.8 4.8 0 1 0 -9.6 0M797.7 629.6a4.8 4.8 0 1 0 9.6 0a4.8 4.8 0 1 0 -9.6 0M803 629.6a4.8 4.8 0 1 0 9.6 0a4.8 4.8 0 1 0 -9.6 0M817.3 629.6a4.8 4.8 0 1 0 9.6 0a4.8 4.8 0 1 0 -9.6 0M824.4 629.6a4.8 4.8 0 1 0 9.6 0a4.8 4.8 0 1 0 -9.6 0M920.6 519.1a4.8 4.8 0 1 0 9.6 0a4.8 4.8 0 1 0 -9.6 0M944.6 537.5a4.8 4.8 0 1 0 9.6 0a4.8 4.8 0 1 0 -9.6 0M954.8 537.5a4.8 4.8 0 1 0 9.6 0a4.8 4.8 0 1 0 -9.6 0M921.7 549.8a4.8 4.8 0 1 0 9.6 0a4.8 4.8 0 1 0 -9.6 0M947.7 549.8a4.8 4.8 0 1 0 9.6 0a4.8 4.8 0 1 0 -9.6 0M971.7 549.8a4.8 4.8 0 1 0 9.6 0a4.8 4.8 0 1 0 -9.6 0M911.7 568.2a4.8 4.8 0 1 0 9.6 0a4.8 4.8 0 1 0 -9.6 0M997.7 568.2a4.8 4.8 0 1 0 9.6 0a4.8 4.8 0 1 0 -9.6 0M916.6 580.5a4.8 4.8 0 1 0 9.6 0a4.8 4.8 0 1 0 -9.6 0M940.6 592.8a4.8 4.8 0 1 0 9.6 0a4.8 4.8 0 1 0 -9.6 0M987.7 592.8a4.8 4.8 0 1 0 9.6 0a4.8 4.8 0 1 0 -9.6 0M881.8 598.9a4.8 4.8 0 1 0 9.6 0a4.8 4.8 0 1 0 -9.6 0M946.7 605.1a4.8 4.8 0 1 0 9.6 0a4.8 4.8 0 1 0 -9.6 0M885.6 611.2a4.8 4.8 0 1 0 9.6 0a4.8 4.8 0 1 0 -9.6 0M909.7 611.2a4.8 4.8 0 1 0 9.6 0a4.8 4.8 0 1 0 -9.6 0M914.9 611.2a4.8 4.8 0 1 0 9.6 0a4.8 4.8 0 1 0 -9.6 0M982.6 611.2a4.8 4.8 0 1 0 9.6 0a4.8 4.8 0 1 0 -9.6 0M883.8 617.3a4.8 4.8 0 1 0 9.6 0a4.8 4.8 0 1 0 -9.6 0M932.5 617.3a4.8 4.8 0 1 0 9.6 0a4.8 4.8 0 1 0 -9.6 0M940.1 617.3a4.8 4.8 0 1 0 9.6 0a4.8 4.8 0 1 0 -9.6 0M951.8 617.3a4.8 4.8 0 1 0 9.6 0a4.8 4.8 0 1 0 -9.6 0M879 629.6a4.8 4.8 0 1 0 9.6 0a4.8 4.8 0 1 0 -9.6 0M883.4 629.6a4.8 4.8 0 1 0 9.6 0a4.8 4.8 0 1 0 -9.6 0M886.6 629.6a4.8 4.8 0 1 0 9.6 0a4.8 4.8 0 1 0 -9.6 0M889.8 629.6a4.8 4.8 0 1 0 9.6 0a4.8 4.8 0 1 0 -9.6 0M893.5 629.6a4.8 4.8 0 1 0 9.6 0a4.8 4.8 0 1 0 -9.6 0M897.7 629.6a4.8 4.8 0 1 0 9.6 0a4.8 4.8 0 1 0 -9.6 0M901.8 629.6a4.8 4.8 0 1 0 9.6 0a4.8 4.8 0 1 0 -9.6 0M905.9 629.6a4.8 4.8 0 1 0 9.6 0a4.8 4.8 0 1 0 -9.6 0M913.5 629.6a4.8 4.8 0 1 0 9.6 0a4.8 4.8 0 1 0 -9.6 0M930.5 629.6a4.8 4.8 0 1 0 9.6 0a4.8 4.8 0 1 0 -9.6 0M952.5 629.6a4.8 4.8 0 1 0 9.6 0a4.8 4.8 0 1 0 -9.6 0M975.6 629.6a4.8 4.8 0 1 0 9.6 0a4.8 4.8 0 1 0 -9.6 0" fill="#000"/>
<line x1="68.5" x2="1013.5" y1="641.5" y2="641.5" stroke="#b0b0b0" stroke-width="1.1" stroke-dasharray="4.111 1.778"/>
<line x1="68.5" x2="1013.5" y1="580.5" y2="580.5" stroke="#b0b0b0" stroke-width="1.1" stroke-dasharray="4.111 1.778"/>
<line x1="68.5" x2="1013.5" y1="519.5" y2="519.5" stroke="#b0b0b0" stroke-width="1.1" stroke-dasharray="4.111 1.778"/>
<line x1="68.5" x2="1013.5" y1="457.5" y2="457.5" stroke="#b0b0b0" stroke-width="1.1" stroke-dasharray="4.111 1.778"/>
<line x1="68.5" x2="1013.5" y1="396.5" y2="396.5" stroke="#b0b0b0" stroke-width="1.1" stroke-dasharray="4.111 1.778"/>
<line x1="68.5" x2="1013.5" y1="334.5" y2="334.5" stroke="#b0b0b0" stroke-width="1.1" stroke-dasharray="4.111 1.778"/>
<line x1="68.5" x2="1013.5" y1="273.5" y2="273.5" stroke="#b0b0b0" stroke-width="1.1" stroke-dasharray="4.111 1.778"/>
<line x1="68.5" x2="1013.5" y1="211.5" y2="211.5" stroke="#b0b0b0" stroke-width="1.1" stroke-dasharray="4.111 1.778"/>
<line x1="68.5" x2="1013.5" y1="150.5" y2="150.5" stroke="#b0b0b0" stroke-width="1.1" stroke-dasharray="4.111 1.778"/>
<path d="M76.2 89.5H77.8V703.5H76.2ZM90.1 89.5H91.9V703.5H90.1ZM107.2 89.5H112V703.5H107.2ZM116.1 89.5H117.8V703.5H116.1ZM130.2 89.5H131.9V703.5H130.2ZM144 89.5H146.9V703.5H144ZM153 89.5H157V703.5H153ZM161 89.5H163V703.5H161ZM168 89.5H170.8V703.5H168ZM172.1 89.5H174.8V703.5H172.1ZM176.2 89.5H179.9V703.5H176.2ZM191 89.5H191.6V703.5H191ZM193.2 89.5H193.9V703.5H193.2ZM198 89.5H199.8V703.5H198ZM204 89.5H207.9V703.5H204ZM210 89.5H213.9V703.5H210ZM224.8 89.5H228.9V703.5H224.8ZM230.2 89.5H231.9V703.5H230.2ZM245 89.5H247V703.5H245ZM258.9 89.5H260.9V703.5H258.9ZM273.8 89.5H275.8V703.5H273.8ZM288 89.5H290V703.5H288ZM302.9 89.5H304.9V703.5H302.9ZM317.8 89.5H319.8V703.5H317.8ZM331.9 89.5H333.9V703.5H331.9ZM346.9 89.5H348.9V703.5H346.9ZM361.9 89.5H363.9V703.5H361.9ZM376.9 89.5H378.9V703.5H376.9ZM390 89.5H392V703.5H390ZM404.9 89.5H406.9V703.5H404.9ZM419 89.5H421V703.5H419ZM432.9 89.5H434.9V703.5H432.9ZM447.9 89.5H449.9V703.5H447.9ZM466.1 89.5H469.1V703.5H466.1ZM480.1 89.5H482.9V703.5H480.1ZM484.1 89.5H487V703.5H484.1ZM488 89.5H490V703.5H488ZM495 89.5H499.1V703.5H495ZM514.2 89.5H515.8V703.5H514.2ZM525 89.5H528.9V703.5H525ZM641 89.5H644.1V703.5H641ZM646.2 89.5H650V703.5H646.2Z" fill="rgba(0,128,0,0.21)" shape-rendering="crispEdges"/>
<path d="M68 89.5H76.2V703.5H68ZM77.8 89.5H90.1V703.5H77.8ZM91.9 89.5H105.5V703.5H91.9ZM112 89.5H116.1V703.5H112ZM117.8 89.5H130.2V703.5H117.8ZM131.9 89.5H141.4V703.5H131.9ZM146.9 89.5H153V703.5H146.9ZM157 89.5H161V703.5H157ZM163 89.5H168V703.5H163ZM174.8 89.5H176.2V703.5H174.8ZM179.9 89.5H191V703.5H179.9ZM193.9 89.5H198V703.5H193.9ZM199.8 89.5H204V703.5H199.8ZM207.9 89.5H210V703.5H207.9ZM213.9 89.5H224.8V703.5H213.9ZM228.9 89.5H230.2V703.5H228.9ZM231.9 89.5H245V703.5H231.9ZM247 89.5H258.9V703.5H247ZM260.9 89.5H273.8V703.5H260.9ZM275.8 89.5H288V703.5H275.8ZM290 89.5H302.9V703.5H290ZM304.9 89.5H317.8V703.5H304.9ZM319.8 89.5H331.9V703.5H319.8ZM333.9 89.5H346.9V703.5H333.9ZM348.9 89.5H361.9V703.5H348.9ZM363.9 89.5H376.9V703.5H363.9ZM378.9 89.5H390V703.5H378.9ZM392 89.5H404.9V703.5H392ZM406.9 89.5H419V703.5H406.9ZM421 89.5H432.9V703.5H421ZM434.9 89.5H447.9V703.5H434.9ZM449.9 89.5H458.5V703.5H449.9ZM469.1 89.5H475.6V703.5H469.1ZM482.9 89.5H484.1V703.5H482.9ZM491.2 89.5H495V703.5H491.2ZM499.1 89.5H501.6V703.5H499.1ZM503.1 89.5H505.2V703.5H503.1ZM512.5 89.5H514.2V703.5H512.5ZM515.8 89.5H522.6V703.5H515.8ZM644.1 89.5H646.2V703.5H644.1ZM650 89.5H652.9V703.5H650Z" fill="rgba(0,128,0,0.38)" shape-rendering="crispEdges"/>
<path d="M652.9 89.5H655.1V703.5H652.9Z" fill="rgba(0,128,0,0.59)" shape-rendering="crispEdges"/>
<path d="M63.7 512.2a4.8 4.8 0 1 0 9.6 0a4.8 4.8 0 1 0 -9.6 0M65.1 511.9a4.8 4.8 0 1 0 9.6 0a4.8 4.8 0 1 0 -9.6 0M66.6 513.6a4.8 4.8 0 1 0 9.6 0a4.8 4.8 0 1 0 -9.6 0M68 512.1a4.8 4.8 0 1 0 9.6 0a4.8 4.8 0 1 0 -9.6 0M69.4 513.7a4.8 4.8 0 1 0 9.6 0a4.8 4.8 0 1 0 -9.6 0M70.8 513.4a4.8 4.8 0 1 0 9.6 0a4.8 4.8 0 1 0 -9.6 0M72.3 512.7a4.8 4.8 0 1 0 9.6 0a4.8 4.8 0 1 0 -9.6 0M73.7 514.2a4.8 4.8 0 1 0 9.6 0a4.8 4.8 0 1 0 -9.6 0M75.1 513a4.8 4.8 0 1 0 9.6 0a4.8 4.8 0 1 0 -9.6 0M76.5 513.9a4.8 4.8 0 1 0 9.6 0a4.8 4.8 0 1 0 -9.6 0M77.9 512a4.8 4.8 0 1 0 9.6 0a4.8 4.8 0 1 0 -9.6 0M79.2 511.3a4.8 4.8 0 1 0 9.6 0a4.8 4.8 0 1 0 -9.6 0M80.6 511.5a4.8 4.8 0 1 0 9.6 0a4.8 4.8 0 1 0 -9.6 0M82 512.1a4.8 4.8 0 1 0 9.6 0a4.8 4.8 0 1 0 -9.6 0M83.4 509.9a4.8 4.8 0 1 0 9.6 0a4.8 4.8 0 1 0 -9.6 0M84.8 510.1a4.8 4.8 0 1 0 9.6 0a4.8 4.8 0 1 0 -9.6 0M86.3 511.2a4.8 4.8 0 1 0 9.6 0a4.8 4.8 0 1 0 -9.6 0M87.7 512.1a4.8 4.8 0 1 0 9.6 0a4.8 4.8 0 1 0 -9.6 0M89.1 510.9a4.8 4.8 0 1 0 9.6 0a4.8 4.8 0 1 0 -9.6 0M90.6 510.3a4.8 4.8 0 1 0 9.6 0a4.8 4.8 0 1 0 -9.6 0M92 511.9a4.8 4.8 0 1 0 9.6 0a4.8 4.8 0 1 0 -9.6 0M93.5 509.1a4.8 4.8 0 1 0 9.6 0a4.8 4.8 0 1 0 -9.6 0M94.8 512.5a4.8 4.8 0 1 0 9.6 0a4.8 4.8 0 1 0 -9.6 0M96.1 511.7a4.8 4.8 0 1 0 9.6 0a4.8 4.8 0 1 0 -9.6 0M97.5 512.2a4.8 4.8 0 1 0 9.6 0a4.8 4.8 0 1 0 -9.6 0M98.8 512.8a4.8 4.8 0 1 0 9.6 0a4.8 4.8 0 1 0 -9.6 0M100.2 512.9a4.8 4.8 0 1 0 9.6 0a4.8 4.8 0 1 0 -9.6 0M101.6 513.8a4.8 4.8 0 1 0 9.6 0a4.8 4.8 0 1 0 -9.6 0M103 511.4a4.8 4.8 0 1 0 9.6 0a4.8 4.8 0 1 0 -9.6 0M104.3 512a4.8 4.8 0 1 0 9.6 0a4.8 4.8 0 1 0 -9.6 0M105.7 511.6a4.8 4.8 0 1 0 9.6 0a4.8 4.8 0 1 0 -9.6 0M107.1 510.3a4.8 4.8 0 1 0 9.6 0a4.8 4.8 0 1 0 -9.6 0M108.5 510.5a4.8 4.8 0 1 0 9.6 0a4.8 4.8 0 1 0 -9.6 0M109.9 508.7a4.8 4.8 0 1 0 9.6 0a4.8 4.8 0 1 0 -9.6 0M111.3 508.3a4.8 4.8 0 1 0 9.6 0a4.8 4.8 0 1 0 -9.6 0M112.7 508.4a4.8 4.8 0 1 0 9.6 0a4.8 4.8 0 1 0 -9.6 0M114.1 509.5a4.8 4.8 0 1 0 9.6 0a4.8 4.8 0 1 0 -9.6 0M115.6 508.4a4.8 4.8 0 1 0 9.6 0a4.8 4.8 0 1 0 -9.6 0M117 507.9a4.8 4.8 0 1 0 9.6 0a4.8 4.8 0 1 0 -9.6 0M118.4 508.4a4.8 4.8 0 1 0 9.6 0a4.8 4.8 0 1 0 -9.6 0M119.8 507.8a4.8 4.8 0 1 0 9.6 0a4.8 4.8 0 1 0 -9.6 0M121.1 508.6a4.8 4.8 0 1 0 9.6 0a4.8 4.8 0 1 0 -9.6 0M122.4 511.4a4.8 4.8 0 1 0 9.6 0a4.8 4.8 0 1 0 -9.6 0M123.7 512.4a4.8 4.8 0 1 0 9.6 0a4.8 4.8 0 1 0 -9.6 0M125.1 511.9a4.8 4.8 0 1 0 9.6 0a4.8 4.8 0 1 0 -9.6 0M126.4 513.4a4.8 4.8 0 1 0 9.6 0a4.8 4.8 0 1 0 -9.6 0M127.8 513.8a4.8 4.8 0 1 0 9.6 0a4.8 4.8 0 1 0 -9.6 0M129.2 515.2a4.8 4.8 0 1 0 9.6 0a4.8 4.8 0 1 0 -9.6 0M130.7 514.6a4.8 4.8 0 1 0 9.6 0a4.8 4.8 0 1 0 -9.6 0M132.1 513.2a4.8 4.8 0 1 0 9.6 0a4.8 4.8 0 1 0 -9.6 0M133.5 515.2a4.8 4.8 0 1 0 9.6 0a4.8 4.8 0 1 0 -9.6 0M134.9 512.8a4.8 4.8 0 1 0 9.6 0a4.8 4.8 0 1 0 -9.6 0M136.3 514.9a4.8 4.8 0 1 0 9.6 0a4.8 4.8 0 1 0 -9.6 0M137.6 517a4.8 4.8 0 1 0 9.6 0a4.8 4.8 0 1 0 -9.6 0M138.9 516.4a4.8 4.8 0 1 0 9.6 0a4.8 4.8 0 1 0 -9.6 0M140.3 517.9a4.8 4.8 0 1 0 9.6 0a4.8 4.8 0 1 0 -9.6 0M141.7 517.1a4.8 4.8 0 1 0 9.6 0a4.8 4.8 0 1 0 -9.6 0M143 519.5a4.8 4.8 0 1 0 9.6 0a4.8 4.8 0 1 0 -9.6 0M144.4 520.3a4.8 4.8 0 1 0 9.6 0a4.8 4.8 0 1 0 -9.6 0M145.8 519.5a4.8 4.8 0 1 0 9.6 0a4.8 4.8 0 1 0 -9.6 0M147.2 519.9a4.8 4.8 0 1 0 9.6 0a4.8 4.8 0 1 0 -9.6 0M148.6 517.6a4.8 4.8 0 1 0 9.6 0a4.8 4.8 0 1 0 -9.6 0M150 518.2a4.8 4.8 0 1 0 9.6 0a4.8 4.8 0 1 0 -9.6 0M151.3 517.3a4.8 4.8 0 1 0 9.6 0a4.8 4.8 0 1 0 -9.6 0M152.7 516.8a4.8 4.8 0 1 0 9.6 0a4.8 4.8 0 1 0 -9.6 0M154.1 515.9a4.8 4.8 0 1 0 9.6 0a4.8 4.8 0 1 0 -9.6 0M155.5 516.5a4.8 4.8 0 1 0 9.6 0a4.8 4.8 0 1 0 -9.6 0M156.9 516.3a4.8 4.8 0 1 0 9.6 0a4.8 4.8 0 1 0 -9.6 0M158.3 514.5a4.8 4.8 0 1 0 9.6 0a4.8 4.8 0 1 0 -9.6 0M159.7 515.2a4.8 4.8 0 1 0 9.6 0a4.8 4.8 0 1 0 -9.6 0M161.1 513.6a4.8 4.8 0 1 0 9.6 0a4.8 4.8 0 1 0 -9.6 0M162.6 515.7a4.8 4.8 0 1 0 9.6 0a4.8 4.8 0 1 0 -9.6 0M164 515.7a4.8 4.8 0 1 0 9.6 0a4.8 4.8 0 1 0 -9.6 0M165.4 516.9a4.8 4.8 0 1 0 9.6 0a4.8 4.8 0 1 0 -9.6 0M166.9 516.3a4.8 4.8 0 1 0 9.6 0a4.8 4.8 0 1 0 -9.6 0M168.3 514.5a4.8 4.8 0 1 0 9.6 0a4.8 4.8 0 1 0 -9.6 0M169.7 514.7a4.8 4.8 0 1 0 9.6 0a4.8 4.8 0 1 0 -9.6 0M171.2 515.5a4.8 4.8 0 1 0 9.6 0a4.8 4.8 0 1 0 -9.6 0M172.6 513.4a4.8 4.8 0 1 0 9.6 0a4.8 4.8 0 1 0 -9.6 0M174 515.2a4.8 4.8 0 1 0 9.6 0a4.8 4.8 0 1 0 -9.6 0M175.4 514.9a4.8 4.8 0 1 0 9.6 0a4.8 4.8 0 1 0 -9.6 0M176.8 515.3a4.8 4.8 0 1 0 9.6 0a4.8 4.8 0 1 0 -9.6 0M178.1 515.7a4.8 4.8 0 1 0 9.6 0a4.8 4.8 0 1 0 -9.6 0M179.5 518.3a4.8 4.8 0 1 0 9.6 0a4.8 4.8 0 1 0 -9.6 0M180.9 516.7a4.8 4.8 0 1 0 9.6 0a4.8 4.8 0 1 0 -9.6 0M182.4 517.1a4.8 4.8 0 1 0 9.6 0a4.8 4.8 0 1 0 -9.6 0M183.8 517.7a4.8 4.8 0 1 0 9.6 0a4.8 4.8 0 1 0 -9.6 0M185.3 519.2a4.8 4.8 0 1 0 9.6 0a4.8 4.8 0 1 0 -9.6 0M186.7 516.9a4.8 4.8 0 1 0 9.6 0a4.8 4.8 0 1 0 -9.6 0M188.1 518a4.8 4.8 0 1 0 9.6 0a4.8 4.8 0 1 0 -9.6 0M189.6 518.1a4.8 4.8 0 1 0 9.6 0a4.8 4.8 0 1 0 -9.6 0M191 518.9a4.8 4.8 0 1 0 9.6 0a4.8 4.8 0 1 0 -9.6 0M192.4 518.5a4.8 4.8 0 1 0 9.6 0a4.8 4.8 0 1 0 -9.6 0M193.8 518.4a4.8 4.8 0 1 0 9.6 0a4.8 4.8 0 1 0 -9.6 0M195.3 516.5a4.8 4.8 0 1 0 9.6 0a4.8 4.8 0 1 0 -9.6 0M196.7 517.1a4.8 4.8 0 1 0 9.6 0a4.8 4.8 0 1 0 -9.6 0M198 518a4.8 4.8 0 1 0 9.6 0a4.8 4.8 0 1 0 -9.6 0M199.3 520.7a4.8 4.8 0 1 0 9.6 0a4.8 4.8 0 1 0 -9.6 0M200.6 522a4.8 4.8 0 1 0 9.6 0a4.8 4.8 0 1 0 -9.6 0M201.9 520.7a4.8 4.8 0 1 0 9.6 0a4.8 4.8 0 1 0 -9.6 0M203.3 521.2a4.8 4.8 0 1 0 9.6 0a4.8 4.8 0 1 0 -9.6 0M204.7 521.8a4.8 4.8 0 1 0 9.6 0a4.8 4.8 0 1 0 -9.6 0M206.1 522.2a4.8 4.8 0 1 0 9.6 0a4.8 4.8 0 1 0 -9.6 0M207.5 523.3a4.8 4.8 0 1 0 9.6 0a4.8 4.8 0 1 0 -9.6 0M208.9 524.1a4.8 4.8 0 1 0 9.6 0a4.8 4.8 0 1 0 -9.6 0M208.6 522.8a4.8 4.8 0 1 0 9.6 0a4.8 4.8 0 1 0 -9.6 0M207.2 521.4a4.8 4.8 0 1 0 9.6 0a4.8 4.8 0 1 0 -9.6 0M205.9 522.1a4.8 4.8 0 1 0 9.6 0a4.8 4.8 0 1 0 -9.6 0M204.5 521.3a4.8 4.8 0 1 0 9.6 0a4.8 4.8 0 1 0 -9.6 0M203.1 521.3a4.8 4.8 0 1 0 9.6 0a4.8 4.8 0 1 0 -9.6 0M201.7 521.8a4.8 4.8 0 1 0 9.6 0a4.8 4.8 0 1 0 -9.6 0M200.4 520.4a4.8 4.8 0 1 0 9.6 0a4.8 4.8 0 1 0 -9.6 0M199 519.2a4.8 4.8 0 1 0 9.6 0a4.8 4.8 0 1 0 -9.6 0M197.6 518.9a4.8 4.8 0 1 0 9.6 0a4.8 4.8 0 1 0 -9.6 0M196.2 518.5a4.8 4.8 0 1 0 9.6 0a4.8 4.8 0 1 0 -9.6 0M195.5 516.3a4.8 4.8 0 1 0 9.6 0a4.8 4.8 0 1 0 -9.6 0M196.9 519.7a4.8 4.8 0 1 0 9.6 0a4.8 4.8 0 1 0 -9.6 0M198.2 520.2a4.8 4.8 0 1 0 9.6 0a4.8 4.8 0 1 0 -9.6 0M199.6 521.3a4.8 4.8 0 1 0 9.6 0a4.8 4.8 0 1 0 -9.6 0M200.9 521.9a4.8 4.8 0 1 0 9.6 0a4.8 4.8 0 1 0 -9.6 0M202.2 522a4.8 4.8 0 1 0 9.6 0a4.8 4.8 0 1 0 -9.6 0M203.5 523.3a4.8 4.8 0 1 0 9.6 0a4.8 4.8 0 1 0 -9.6 0M204.9 522.8a4.8 4.8 0 1 0 9.6 0a4.8 4.8 0 1 0 -9.6 0M206.3 524.2a4.8 4.8 0 1 0 9.6 0a4.8 4.8 0 1 0 -9.6 0M207.7 522.3a4.8 4.8 0 1 0 9.6 0a4.8 4.8 0 1 0 -9.6 0M209.2 522.1a4.8 4.8 0 1 0 9.6 0a4.8 4.8 0 1 0 -9.6 0M210.6 522.9a4.8 4.8 0 1 0 9.6 0a4.8 4.8 0 1 0 -9.6 0M211.9 523.7a4.8 4.8 0 1 0 9.6 0a4.8 4.8 0 1 0 -9.6 0M213.2 525.1a4.8 4.8 0 1 0 9.6 0a4.8 4.8 0 1 0 -9.6 0M214.6 524.8a4.8 4.8 0 1 0 9.6 0a4.8 4.8 0 1 0 -9.6 0M216 524a4.8 4.8 0 1 0 9.6 0a4.8 4.8 0 1 0 -9.6 0M217.3 523.7a4.8 4.8 0 1 0 9.6 0a4.8 4.8 0 1 0 -9.6 0M218.7 522.9a4.8 4.8 0 1 0 9.6 0a4.8 4.8 0 1 0 -9.6 0M220.1 523a4.8 4.8 0 1 0 9.6 0a4.8 4.8 0 1 0 -9.6 0M221.4 521.3a4.8 4.8 0 1 0 9.6 0a4.8 4.8 0 1 0 -9.6 0M222.8 524a4.8 4.8 0 1 0 9.6 0a4.8 4.8 0 1 0 -9.6 0M224.3 523.5a4.8 4.8 0 1 0 9.6 0a4.8 4.8 0 1 0 -9.6 0M225.7 522.4a4.8 4.8 0 1 0 9.6 0a4.8 4.8 0 1 0 -9.6 0M227.1 523a4.8 4.8 0 1 0 9.6 0a4.8 4.8 0 1 0 -9.6 0M228.5 523.5a4.8 4.8 0 1 0 9.6 0a4.8 4.8 0 1 0 -9.6 0M229.9 523.9a4.8 4.8 0 1 0 9.6 0a4.8 4.8 0 1 0 -9.6 0M231.3 523.6a4.8 4.8 0 1 0 9.6 0a4.8 4.8 0 1 0 -9.6 0M232.7 526.2a4.8 4.8 0 1 0 9.6 0a4.8 4.8 0 1 0 -9.6 0M234.1 527.1a4.8 4.8 0 1 0 9.6 0a4.8 4.8 0 1 0 -9.6 0M235.5 525.9a4.8 4.8 0 1 0 9.6 0a4.8 4.8 0 1 0 -9.6 0M236.9 525.9a4.8 4.8 0 1 0 9.6 0a4.8 4.8 0 1 0 -9.6 0M238.2 523.9a4.8 4.8 0 1 0 9.6 0a4.8 4.8 0 1 0 -9.6 0M239.6 523.2a4.8 4.8 0 1 0 9.6 0a4.8 4.8 0 1 0 -9.6 0M241 523.1a4.8 4.8 0 1 0 9.6 0a4.8 4.8 0 1 0 -9.6 0M242.3 522.1a4.8 4.8 0 1 0 9.6 0a4.8 4.8 0 1 0 -9.6 0M243.7 523a4.8 4.8 0 1 0 9.6 0a4.8 4.8 0 1 0 -9.6 0M245 520.2a4.8 4.8 0 1 0 9.6 0a4.8 4.8 0 1 0 -9.6 0M246.4 520a4.8 4.8 0 1 0 9.6 0a4.8 4.8 0 1 0 -9.6 0M247.8 523.2a4.8 4.8 0 1 0 9.6 0a4.8 4.8 0 1 0 -9.6 0M249.2 522.2a4.8 4.8 0 1 0 9.6 0a4.8 4.8 0 1 0 -9.6 0M250.6 521.5a4.8 4.8 0 1 0 9.6 0a4.8 4.8 0 1 0 -9.6 0M252 523.1a4.8 4.8 0 1 0 9.6 0a4.8 4.8 0 1 0 -9.6 0M253.4 522.1a4.8 4.8 0 1 0 9.6 0a4.8 4.8 0 1 0 -9.6 0M254.8 524.2a4.8 4.8 0 1 0 9.6 0a4.8 4.8 0 1 0 -9.6 0M256.2 526.1a4.8 4.8 0 1 0 9.6 0a4.8 4.8 0 1 0 -9.6 0M257.6 526.3a4.8 4.8 0 1 0 9.6 0a4.8 4.8 0 1 0 -9.6 0M259 526.1a4.8 4.8 0 1 0 9.6 0a4.8 4.8 0 1 0 -9.6 0M260.4 524.6a4.8 4.8 0 1 0 9.6 0a4.8 4.8 0 1 0 -9.6 0M261.8 524.8a4.8 4.8 0 1 0 9.6 0a4.8 4.8 0 1 0 -9.6 0M263.3 524.1a4.8 4.8 0 1 0 9.6 0a4.8 4.8 0 1 0 -9.6 0M264.7 525.7a4.8 4.8 0 1 0 9.6 0a4.8 4.8 0 1 0 -9.6 0M266.1 525.4a4.8 4.8 0 1 0 9.6 0a4.8 4.8 0 1 0 -9.6 0M267.3 527.7a4.8 4.8 0 1 0 9.6 0a4.8 4.8 0 1 0 -9.6 0M268.6 527.9a4.8 4.8 0 1 0 9.6 0a4.8 4.8 0 1 0 -9.6 0M270 527.3a4.8 4.8 0 1 0 9.6 0a4.8 4.8 0 1 0 -9.6 0M271.4 528.7a4.8 4.8 0 1 0 9.6 0a4.8 4.8 0 1 0 -9.6 0M272.8 528.9a4.8 4.8 0 1 0 9.6 0a4.8 4.8 0 1 0 -9.6 0M274.2 528.2a4.8 4.8 0 1 0 9.6 0a4.8 4.8 0 1 0 -9.6 0M275.6 528.9a4.8 4.8 0 1 0 9.6 0a4.8 4.8 0 1 0 -9.6 0M276.8 530.3a4.8 4.8 0 1 0 9.6 0a4.8 4.8 0 1 0 -9.6 0M278.1 531.3a4.8 4.8 0 1 0 9.6 0a4.8 4.8 0 1 0 -9.6 0M279.4 531.1a4.8 4.8 0 1 0 9.6 0a4.8 4.8 0 1 0 -9.6 0M280.7 533.1a4.8 4.8 0 1 0 9.6 0a4.8 4.8 0 1 0 -9.6 0M282.1 533.3a4.8 4.8 0 1 0 9.6 0a4.8 4.8 0 1 0 -9.6 0M283.5 533a4.8 4.8 0 1 0 9.6 0a4.8 4.8 0 1 0 -9.6 0M284.8 533.7a4.8 4.8 0 1 0 9.6 0a4.8 4.8 0 1 0 -9.6 0M286.2 535.1a4.8 4.8 0 1 0 9.6 0a4.8 4.8 0 1 0 -9.6 0M287.6 535.8a4.8 4.8 0 1 0 9.6 0a4.8 4.8 0 1 0 -9.6 0M288.8 538.7a4.8 4.8 0 1 0 9.6 0a4.8 4.8 0 1 0 -9.6 0M290.1 541.4a4.8 4.8 0 1 0 9.6 0a4.8 4.8 0 1 0 -9.6 0M291.3 541.7a4.8 4.8 0 1 0 9.6 0a4.8 4.8 0 1 0 -9.6 0M292.5 544.9a4.8 4.8 0 1 0 9.6 0a4.8 4.8 0 1 0 -9.6 0M293.8 546.3a4.8 4.8 0 1 0 9.6 0a4.8 4.8 0 1 0 -9.6 0M295.1 547.5a4.8 4.8 0 1 0 9.6 0a4.8 4.8 0 1 0 -9.6 0M296.4 547a4.8 4.8 0 1 0 9.6 0a4.8 4.8 0 1 0 -9.6 0M297.7 547.9a4.8 4.8 0 1 0 9.6 0a4.8 4.8 0 1 0 -9.6 0M299 549a4.8 4.8 0 1 0 9.6 0a4.8 4.8 0 1 0 -9.6 0M300.4 549.9a4.8 4.8 0 1 0 9.6 0a4.8 4.8 0 1 0 -9.6 0M301.7 550.9a4.8 4.8 0 1 0 9.6 0a4.8 4.8 0 1 0 -9.6 0M303 553.2a4.8 4.8 0 1 0 9.6 0a4.8 4.8 0 1 0 -9.6 0M304.4 554.8a4.8 4.8 0 1 0 9.6 0a4.8 4.8 0 1 0 -9.6 0M305.8 555a4.8 4.8 0 1 0 9.6 0a4.8 4.8 0 1 0 -9.6 0M307.2 554.2a4.8 4.8 0 1 0 9.6 0a4.8 4.8 0 1 0 -9.6 0M308.6 555.1a4.8 4.8 0 1 0 9.6 0a4.8 4.8 0 1 0 -9.6 0M310 555.7a4.8 4.8 0 1 0 9.6 0a4.8 4.8 0 1 0 -9.6 0M311.3 552.5a4.8 4.8 0 1 0 9.6 0a4.8 4.8 0 1 0 -9.6 0M312.7 553.3a4.8 4.8 0 1 0 9.6 0a4.8 4.8 0 1 0 -9.6 0M314 553a4.8 4.8 0 1 0 9.6 0a4.8 4.8 0 1 0 -9.6 0M315.3 551.6a4.8 4.8 0 1 0 9.6 0a4.8 4.8 0 1 0 -9.6 0M316.7 551a4.8 4.8 0 1 0 9.6 0a4.8 4.8 0 1 0 -9.6 0M318.1 549.9a4.8 4.8 0 1 0 9.6 0a4.8 4.8 0 1 0 -9.6 0M319.5 548.6a4.8 4.8 0 1 0 9.6 0a4.8 4.8 0 1 0 -9.6 0M320.9 550.1a4.8 4.8 0 1 0 9.6 0a4.8 4.8 0 1 0 -9.6 0M322.3 548.4a4.8 4.8 0 1 0 9.6 0a4.8 4.8 0 1 0 -9.6 0M323.7 549.4a4.8 4.8 0 1 0 9.6 0a4.8 4.8 0 1 0 -9.6 0M325.1 549.6a4.8 4.8 0 1 0 9.6 0a4.8 4.8 0 1 0 -9.6 0M326.6 547.5a4.8 4.8 0 1 0 9.6 0a4.8 4.8 0 1 0 -9.6 0M328 547.4a4.8 4.8 0 1 0 9.6 0a4.8 4.8 0 1 0 -9.6 0M329.4 549.4a4.8 4.8 0 1 0 9.6 0a4.8 4.8 0 1 0 -9.6 0M330.8 549.1a4.8 4.8 0 1 0 9.6 0a4.8 4.8 0 1 0 -9.6 0M332.2 547.8a4.8 4.8 0 1 0 9.6 0a4.8 4.8 0 1 0 -9.6 0M333.6 547.8a4.8 4.8 0 1 0 9.6 0a4.8 4.8 0 1 0 -9.6 0M334.9 547.1a4.8 4.8 0 1 0 9.6 0a4.8 4.8 0 1 0 -9.6 0M335.2 550.3a4.8 4.8 0 1 0 9.6 0a4.8 4.8 0 1 0 -9.6 0M336.6 549.2a4.8 4.8 0 1 0 9.6 0a4.8 4.8 0 1 0 -9.6 0M338 544.2a4.8 4.8 0 1 0 9.6 0a4.8 4.8 0 1 0 -9.6 0M339.4 548.4a4.8 4.8 0 1 0 9.6 0a4.8 4.8 0 1 0 -9.6 0M340.8 548.9a4.8 4.8 0 1 0 9.6 0a4.8 4.8 0 1 0 -9.6 0M342.2 547a4.8 4.8 0 1 0 9.6 0a4.8 4.8 0 1 0 -9.6 0M343.5 545.4a4.8 4.8 0 1 0 9.6 0a4.8 4.8 0 1 0 -9.6 0M344.9 547.2a4.8 4.8 0 1 0 9.6 0a4.8 4.8 0 1 0 -9.6 0M346.3 544.9a4.8 4.8 0 1 0 9.6 0a4.8 4.8 0 1 0 -9.6 0M347.7 544.2a4.8 4.8 0 1 0 9.6 0a4.8 4.8 0 1 0 -9.6 0M349.2 550.5a4.8 4.8 0 1 0 9.6 0a4.8 4.8 0 1 0 -9.6 0M350.6 548.1a4.8 4.8 0 1 0 9.6 0a4.8 4.8 0 1 0 -9.6 0M352 547.1a4.8 4.8 0 1 0 9.6 0a4.8 4.8 0 1 0 -9.6 0M353.4 549.6a4.8 4.8 0 1 0 9.6 0a4.8 4.8 0 1 0 -9.6 0M354.9 546.2a4.8 4.8 0 1 0 9.6 0a4.8 4.8 0 1 0 -9.6 0M356.3 549.2a4.8 4.8 0 1 0 9.6 0a4.8 4.8 0 1 0 -9.6 0M357.7 549a4.8 4.8 0 1 0 9.6 0a4.8 4.8 0 1 0 -9.6 0M359.2 545a4.8 4.8 0 1 0 9.6 0a4.8 4.8 0 1 0 -9.6 0M360.6 545.2a4.8 4.8 0 1 0 9.6 0a4.8 4.8 0 1 0 -9.6 0M362 545a4.8 4.8 0 1 0 9.6 0a4.8 4.8 0 1 0 -9.6 0M363.4 544.1a4.8 4.8 0 1 0 9.6 0a4.8 4.8 0 1 0 -9.6 0M364.8 546a4.8 4.8 0 1 0 9.6 0a4.8 4.8 0 1 0 -9.6 0M366.2 543.2a4.8 4.8 0 1 0 9.6 0a4.8 4.8 0 1 0 -9.6 0M367.5 544.8a4.8 4.8 0 1 0 9.6 0a4.8 4.8 0 1 0 -9.6 0M368.8 544.1a4.8 4.8 0 1 0 9.6 0a4.8 4.8 0 1 0 -9.6 0M370.1 550.6a4.8 4.8 0 1 0 9.6 0a4.8 4.8 0 1 0 -9.6 0M371.4 548a4.8 4.8 0 1 0 9.6 0a4.8 4.8 0 1 0 -9.6 0M372.8 549.4a4.8 4.8 0 1 0 9.6 0a4.8 4.8 0 1 0 -9.6 0M374.2 550.6a4.8 4.8 0 1 0 9.6 0a4.8 4.8 0 1 0 -9.6 0M375.6 553.2a4.8 4.8 0 1 0 9.6 0a4.8 4.8 0 1 0 -9.6 0M377 550.2a4.8 4.8 0 1 0 9.6 0a4.8 4.8 0 1 0 -9.6 0M423.2 545.2a4.8 4.8 0 1 0 9.6 0a4.8 4.8 0 1 0 -9.6 0M424.5 544.6a4.8 4.8 0 1 0 9.6 0a4.8 4.8 0 1 0 -9.6 0M425.7 546.3a4.8 4.8 0 1 0 9.6 0a4.8 4.8 0 1 0 -9.6 0M427 547.8a4.8 4.8 0 1 0 9.6 0a4.8 4.8 0 1 0 -9.6 0M428.1 547.8a4.8 4.8 0 1 0 9.6 0a4.8 4.8 0 1 0 -9.6 0M429.2 552.9a4.8 4.8 0 1 0 9.6 0a4.8 4.8 0 1 0 -9.6 0M430.4 553.6a4.8 4.8 0 1 0 9.6 0a4.8 4.8 0 1 0 -9.6 0M431.7 554.1a4.8 4.8 0 1 0 9.6 0a4.8 4.8 0 1 0 -9.6 0M433 559.6a4.8 4.8 0 1 0 9.6 0a4.8 4.8 0 1 0 -9.6 0M434.3 557.8a4.8 4.8 0 1 0 9.6 0a4.8 4.8 0 1 0 -9.6 0M435.6 560.8a4.8 4.8 0 1 0 9.6 0a4.8 4.8 0 1 0 -9.6 0M436.8 563.5a4.8 4.8 0 1 0 9.6 0a4.8 4.8 0 1 0 -9.6 0M438.1 564.5a4.8 4.8 0 1 0 9.6 0a4.8 4.8 0 1 0 -9.6 0M439.3 565.2a4.8 4.8 0 1 0 9.6 0a4.8 4.8 0 1 0 -9.6 0M440.5 568.1a4.8 4.8 0 1 0 9.6 0a4.8 4.8 0 1 0 -9.6 0M441.7 570.3a4.8 4.8 0 1 0 9.6 0a4.8 4.8 0 1 0 -9.6 0M442.9 573.3a4.8 4.8 0 1 0 9.6 0a4.8 4.8 0 1 0 -9.6 0M444.2 571.5a4.8 4.8 0 1 0 9.6 0a4.8 4.8 0 1 0 -9.6 0M445.4 575.7a4.8 4.8 0 1 0 9.6 0a4.8 4.8 0 1 0 -9.6 0M446.7 575.8a4.8 4.8 0 1 0 9.6 0a4.8 4.8 0 1 0 -9.6 0M447.9 575.6a4.8 4.8 0 1 0 9.6 0a4.8 4.8 0 1 0 -9.6 0M449.1 576.2a4.8 4.8 0 1 0 9.6 0a4.8 4.8 0 1 0 -9.6 0M450.3 573.9a4.8 4.8 0 1 0 9.6 0a4.8 4.8 0 1 0 -9.6 0M451.6 575.7a4.8 4.8 0 1 0 9.6 0a4.8 4.8 0 1 0 -9.6 0M452.8 578.3a4.8 4.8 0 1 0 9.6 0a4.8 4.8 0 1 0 -9.6 0M454.1 580.6a4.8 4.8 0 1 0 9.6 0a4.8 4.8 0 1 0 -9.6 0M455.4 579.7a4.8 4.8 0 1 0 9.6 0a4.8 4.8 0 1 0 -9.6 0M456.6 582.1a4.8 4.8 0 1 0 9.6 0a4.8 4.8 0 1 0 -9.6 0M458 582.7a4.8 4.8 0 1 0 9.6 0a4.8 4.8 0 1 0 -9.6 0M459.3 583.5a4.8 4.8 0 1 0 9.6 0a4.8 4.8 0 1 0 -9.6 0M460.7 585.3a4.8 4.8 0 1 0 9.6 0a4.8 4.8 0 1 0 -9.6 0M462 584.8a4.8 4.8 0 1 0 9.6 0a4.8 4.8 0 1 0 -9.6 0M463.4 586a4.8 4.8 0 1 0 9.6 0a4.8 4.8 0 1 0 -9.6 0M464.7 586.5a4.8 4.8 0 1 0 9.6 0a4.8 4.8 0 1 0 -9.6 0M466.1 589.4a4.8 4.8 0 1 0 9.6 0a4.8 4.8 0 1 0 -9.6 0M467.5 588.6a4.8 4.8 0 1 0 9.6 0a4.8 4.8 0 1 0 -9.6 0M468.9 590a4.8 4.8 0 1 0 9.6 0a4.8 4.8 0 1 0 -9.6 0M470.3 590.8a4.8 4.8 0 1 0 9.6 0a4.8 4.8 0 1 0 -9.6 0M471.7 587.7a4.8 4.8 0 1 0 9.6 0a4.8 4.8 0 1 0 -9.6 0M473.1 589.7a4.8 4.8 0 1 0 9.6 0a4.8 4.8 0 1 0 -9.6 0M473.4 590.7a4.8 4.8 0 1 0 9.6 0a4.8 4.8 0 1 0 -9.6 0M474.8 590.2a4.8 4.8 0 1 0 9.6 0a4.8 4.8 0 1 0 -9.6 0M476.3 588.2a4.8 4.8 0 1 0 9.6 0a4.8 4.8 0 1 0 -9.6 0M477.7 587.9a4.8 4.8 0 1 0 9.6 0a4.8 4.8 0 1 0 -9.6 0M479.1 588.6a4.8 4.8 0 1 0 9.6 0a4.8 4.8 0 1 0 -9.6 0M480.5 587.4a4.8 4.8 0 1 0 9.6 0a4.8 4.8 0 1 0 -9.6 0M482 587.6a4.8 4.8 0 1 0 9.6 0a4.8 4.8 0 1 0 -9.6 0M483.4 587a4.8 4.8 0 1 0 9.6 0a4.8 4.8 0 1 0 -9.6 0M484.8 588.1a4.8 4.8 0 1 0 9.6 0a4.8 4.8 0 1 0 -9.6 0M486.1 587.8a4.8 4.8 0 1 0 9.6 0a4.8 4.8 0 1 0 -9.6 0M487.5 587.5a4.8 4.8 0 1 0 9.6 0a4.8 4.8 0 1 0 -9.6 0M488.9 584.9a4.8 4.8 0 1 0 9.6 0a4.8 4.8 0 1 0 -9.6 0M490.3 585.8a4.8 4.8 0 1 0 9.6 0a4.8 4.8 0 1 0 -9.6 0M491.7 585.1a4.8 4.8 0 1 0 9.6 0a4.8 4.8 0 1 0 -9.6 0M493 583.1a4.8 4.8 0 1 0 9.6 0a4.8 4.8 0 1 0 -9.6 0M494.4 584.2a4.8 4.8 0 1 0 9.6 0a4.8 4.8 0 1 0 -9.6 0M495.7 583.2a4.8 4.8 0 1 0 9.6 0a4.8 4.8 0 1 0 -9.6 0M497 579.9a4.8 4.8 0 1 0 9.6 0a4.8 4.8 0 1 0 -9.6 0M498.3 580.5a4.8 4.8 0 1 0 9.6 0a4.8 4.8 0 1 0 -9.6 0M499.6 577.8a4.8 4.8 0 1 0 9.6 0a4.8 4.8 0 1 0 -9.6 0M500.9 576.7a4.8 4.8 0 1 0 9.6 0a4.8 4.8 0 1 0 -9.6 0M502.2 576.8a4.8 4.8 0 1 0 9.6 0a4.8 4.8 0 1 0 -9.6 0M503.5 575a4.8 4.8 0 1 0 9.6 0a4.8 4.8 0 1 0 -9.6 0M504.7 572a4.8 4.8 0 1 0 9.6 0a4.8 4.8 0 1 0 -9.6 0M506 571.2a4.8 4.8 0 1 0 9.6 0a4.8 4.8 0 1 0 -9.6 0M507.2 569a4.8 4.8 0 1 0 9.6 0a4.8 4.8 0 1 0 -9.6 0M508.4 566.2a4.8 4.8 0 1 0 9.6 0a4.8 4.8 0 1 0 -9.6 0M509.6 564.6a4.8 4.8 0 1 0 9.6 0a4.8 4.8 0 1 0 -9.6 0M511 564a4.8 4.8 0 1 0 9.6 0a4.8 4.8 0 1 0 -9.6 0M512.3 564.2a4.8 4.8 0 1 0 9.6 0a4.8 4.8 0 1 0 -9.6 0M513.7 562.2a4.8 4.8 0 1 0 9.6 0a4.8 4.8 0 1 0 -9.6 0M515 564.5a4.8 4.8 0 1 0 9.6 0a4.8 4.8 0 1 0 -9.6 0M516.4 565.1a4.8 4.8 0 1 0 9.6 0a4.8 4.8 0 1 0 -9.6 0M517.7 565.2a4.8 4.8 0 1 0 9.6 0a4.8 4.8 0 1 0 -9.6 0M518.8 568.3a4.8 4.8 0 1 0 9.6 0a4.8 4.8 0 1 0 -9.6 0M520 571.4a4.8 4.8 0 1 0 9.6 0a4.8 4.8 0 1 0 -9.6 0M521.1 573.9a4.8 4.8 0 1 0 9.6 0a4.8 4.8 0 1 0 -9.6 0M522.2 575.6a4.8 4.8 0 1 0 9.6 0a4.8 4.8 0 1 0 -9.6 0M523.4 580a4.8 4.8 0 1 0 9.6 0a4.8 4.8 0 1 0 -9.6 0M524.7 581a4.8 4.8 0 1 0 9.6 0a4.8 4.8 0 1 0 -9.6 0M526 583a4.8 4.8 0 1 0 9.6 0a4.8 4.8 0 1 0 -9.6 0M527.2 582.2a4.8 4.8 0 1 0 9.6 0a4.8 4.8 0 1 0 -9.6 0M528.5 584.2a4.8 4.8 0 1 0 9.6 0a4.8 4.8 0 1 0 -9.6 0M529.8 585.1a4.8 4.8 0 1 0 9.6 0a4.8 4.8 0 1 0 -9.6 0M531.1 588.4a4.8 4.8 0 1 0 9.6 0a4.8 4.8 0 1 0 -9.6 0M532.4 588.4a4.8 4.8 0 1 0 9.6 0a4.8 4.8 0 1 0 -9.6 0M533.6 589.4a4.8 4.8 0 1 0 9.6 0a4.8 4.8 0 1 0 -9.6 0M534.9 591.5a4.8 4.8 0 1 0 9.6 0a4.8 4.8 0 1 0 -9.6 0M536.2 594.1a4.8 4.8 0 1 0 9.6 0a4.8 4.8 0 1 0 -9.6 0M537.5 595.3a4.8 4.8 0 1 0 9.6 0a4.8 4.8 0 1 0 -9.6 0M538.7 595.7a4.8 4.8 0 1 0 9.6 0a4.8 4.8 0 1 0 -9.6 0M540 597.2a4.8 4.8 0 1 0 9.6 0a4.8 4.8 0 1 0 -9.6 0M541.2 601a4.8 4.8 0 1 0 9.6 0a4.8 4.8 0 1 0 -9.6 0M542.4 601.9a4.8 4.8 0 1 0 9.6 0a4.8 4.8 0 1 0 -9.6 0M543.7 604a4.8 4.8 0 1 0 9.6 0a4.8 4.8 0 1 0 -9.6 0M544.9 601a4.8 4.8 0 1 0 9.6 0a4.8 4.8 0 1 0 -9.6 0M546.1 598.9a4.8 4.8 0 1 0 9.6 0a4.8 4.8 0 1 0 -9.6 0M547.3 598.6a4.8 4.8 0 1 0 9.6 0a4.8 4.8 0 1 0 -9.6 0M548.5 595.9a4.8 4.8 0 1 0 9.6 0a4.8 4.8 0 1 0 -9.6 0M549.8 593.4a4.8 4.8 0 1 0 9.6 0a4.8 4.8 0 1 0 -9.6 0M551.1 594.3a4.8 4.8 0 1 0 9.6 0a4.8 4.8 0 1 0 -9.6 0M552.4 592.3a4.8 4.8 0 1 0 9.6 0a4.8 4.8 0 1 0 -9.6 0M553.7 591.4a4.8 4.8 0 1 0 9.6 0a4.8 4.8 0 1 0 -9.6 0M555 588.3a4.8 4.8 0 1 0 9.6 0a4.8 4.8 0 1 0 -9.6 0M556.4 590.7a4.8 4.8 0 1 0 9.6 0a4.8 4.8 0 1 0 -9.6 0M557.8 589a4.8 4.8 0 1 0 9.6 0a4.8 4.8 0 1 0 -9.6 0M559.2 591.4a4.8 4.8 0 1 0 9.6 0a4.8 4.8 0 1 0 -9.6 0M560.6 590.7a4.8 4.8 0 1 0 9.6 0a4.8 4.8 0 1 0 -9.6 0M562 590.7a4.8 4.8 0 1 0 9.6 0a4.8 4.8 0 1 0 -9.6 0M563.4 591.7a4.8 4.8 0 1 0 9.6 0a4.8 4.8 0 1 0 -9.6 0M564.7 593.6a4.8 4.8 0 1 0 9.6 0a4.8 4.8 0 1 0 -9.6 0M566 593.1a4.8 4.8 0 1 0 9.6 0a4.8 4.8 0 1 0 -9.6 0M567.3 593.9a4.8 4.8 0 1 0 9.6 0a4.8 4.8 0 1 0 -9.6 0M568.7 596.1a4.8 4.8 0 1 0 9.6 0a4.8 4.8 0 1 0 -9.6 0M570 596.6a4.8 4.8 0 1 0 9.6 0a4.8 4.8 0 1 0 -9.6 0M571.3 597.4a4.8 4.8 0 1 0 9.6 0a4.8 4.8 0 1 0 -9.6 0M572.6 598.6a4.8 4.8 0 1 0 9.6 0a4.8 4.8 0 1 0 -9.6 0M573.9 599.3a4.8 4.8 0 1 0 9.6 0a4.8 4.8 0 1 0 -9.6 0M575.2 600.8a4.8 4.8 0 1 0 9.6 0a4.8 4.8 0 1 0 -9.6 0M576.6 602.1a4.8 4.8 0 1 0 9.6 0a4.8 4.8 0 1 0 -9.6 0M577.9 603.2a4.8 4.8 0 1 0 9.6 0a4.8 4.8 0 1 0 -9.6 0M579.2 605.7a4.8 4.8 0 1 0 9.6 0a4.8 4.8 0 1 0 -9.6 0M580.4 606.1a4.8 4.8 0 1 0 9.6 0a4.8 4.8 0 1 0 -9.6 0M581.7 608.2a4.8 4.8 0 1 0 9.6 0a4.8 4.8 0 1 0 -9.6 0M583 609a4.8 4.8 0 1 0 9.6 0a4.8 4.8 0 1 0 -9.6 0M584.2 611a4.8 4.8 0 1 0 9.6 0a4.8 4.8 0 1 0 -9.6 0M585.5 611.1a4.8 4.8 0 1 0 9.6 0a4.8 4.8 0 1 0 -9.6 0M586.9 612.7a4.8 4.8 0 1 0 9.6 0a4.8 4.8 0 1 0 -9.6 0M588.2 613.1a4.8 4.8 0 1 0 9.6 0a4.8 4.8 0 1 0 -9.6 0M589.5 616a4.8 4.8 0 1 0 9.6 0a4.8 4.8 0 1 0 -9.6 0M590.9 615.9a4.8 4.8 0 1 0 9.6 0a4.8 4.8 0 1 0 -9.6 0M592.3 614.8a4.8 4.8 0 1 0 9.6 0a4.8 4.8 0 1 0 -9.6 0M593.8 615.4a4.8 4.8 0 1 0 9.6 0a4.8 4.8 0 1 0 -9.6 0M595.2 616.5a4.8 4.8 0 1 0 9.6 0a4.8 4.8 0 1 0 -9.6 0M596.6 614.2a4.8 4.8 0 1 0 9.6 0a4.8 4.8 0 1 0 -9.6 0M598.1 616.2a4.8 4.8 0 1 0 9.6 0a4.8 4.8 0 1 0 -9.6 0M599.4 615.9a4.8 4.8 0 1 0 9.6 0a4.8 4.8 0 1 0 -9.6 0M600.8 616.7a4.8 4.8 0 1 0 9.6 0a4.8 4.8 0 1 0 -9.6 0M602.2 618.3a4.8 4.8 0 1 0 9.6 0a4.8 4.8 0 1 0 -9.6 0M603.5 617.6a4.8 4.8 0 1 0 9.6 0a4.8 4.8 0 1 0 -9.6 0M604.8 616.9a4.8 4.8 0 1 0 9.6 0a4.8 4.8 0 1 0 -9.6 0M606.2 616.4a4.8 4.8 0 1 0 9.6 0a4.8 4.8 0 1 0 -9.6 0M607.5 616.2a4.8 4.8 0 1 0 9.6 0a4.8 4.8 0 1 0 -9.6 0M608.8 613.5a4.8 4.8 0 1 0 9.6 0a4.8 4.8 0 1 0 -9.6 0M610.2 614.3a4.8 4.8 0 1 0 9.6 0a4.8 4.8 0 1 0 -9.6 0M611.6 613.7a4.8 4.8 0 1 0 9.6 0a4.8 4.8 0 1 0 -9.6 0M613.1 613.2a4.8 4.8 0 1 0 9.6 0a4.8 4.8 0 1 0 -9.6 0M614.5 612.3a4.8 4.8 0 1 0 9.6 0a4.8 4.8 0 1 0 -9.6 0M615.9 611.9a4.8 4.8 0 1 0 9.6 0a4.8 4.8 0 1 0 -9.6 0M617.3 611.4a4.8 4.8 0 1 0 9.6 0a4.8 4.8 0 1 0 -9.6 0M618.7 612.2a4.8 4.8 0 1 0 9.6 0a4.8 4.8 0 1 0 -9.6 0M620 612.8a4.8 4.8 0 1 0 9.6 0a4.8 4.8 0 1 0 -9.6 0M621.4 615.2a4.8 4.8 0 1 0 9.6 0a4.8 4.8 0 1 0 -9.6 0M622.8 614.6a4.8 4.8 0 1 0 9.6 0a4.8 4.8 0 1 0 -9.6 0M624.1 615.1a4.8 4.8 0 1 0 9.6 0a4.8 4.8 0 1 0 -9.6 0M625.4 616.2a4.8 4.8 0 1 0 9.6 0a4.8 4.8 0 1 0 -9.6 0M626.7 619.5a4.8 4.8 0 1 0 9.6 0a4.8 4.8 0 1 0 -9.6 0M628 620.9a4.8 4.8 0 1 0 9.6 0a4.8 4.8 0 1 0 -9.6 0M629.3 621.6a4.8 4.8 0 1 0 9.6 0a4.8 4.8 0 1 0 -9.6 0M630.6 621.6a4.8 4.8 0 1 0 9.6 0a4.8 4.8 0 1 0 -9.6 0M632 622.1a4.8 4.8 0 1 0 9.6 0a4.8 4.8 0 1 0 -9.6 0M633.4 623a4.8 4.8 0 1 0 9.6 0a4.8 4.8 0 1 0 -9.6 0M634.7 624.1a4.8 4.8 0 1 0 9.6 0a4.8 4.8 0 1 0 -9.6 0M636.1 624a4.8 4.8 0 1 0 9.6 0a4.8 4.8 0 1 0 -9.6 0M637.5 625.1a4.8 4.8 0 1 0 9.6 0a4.8 4.8 0 1 0 -9.6 0M638.8 623.9a4.8 4.8 0 1 0 9.6 0a4.8 4.8 0 1 0 -9.6 0M640.2 625.1a4.8 4.8 0 1 0 9.6 0a4.8 4.8 0 1 0 -9.6 0M641.6 624.4a4.8 4.8 0 1 0 9.6 0a4.8 4.8 0 1 0 -9.6 0M642.9 622.6a4.8 4.8 0 1 0 9.6 0a4.8 4.8 0 1 0 -9.6 0M644.3 622.3a4.8 4.8 0 1 0 9.6 0a4.8 4.8 0 1 0 -9.6 0M645.7 624.7a4.8 4.8 0 1 0 9.6 0a4.8 4.8 0 1 0 -9.6 0M647.1 623.5a4.8 4.8 0 1 0 9.6 0a4.8 4.8 0 1 0 -9.6 0M648.5 624.1a4.8 4.8 0 1 0 9.6 0a4.8 4.8 0 1 0 -9.6 0M649.9 623.1a4.8 4.8 0 1 0 9.6 0a4.8 4.8 0 1 0 -9.6 0M651.3 623.8a4.8 4.8 0 1 0 9.6 0a4.8 4.8 0 1 0 -9.6 0M652.7 623.7a4.8 4.8 0 1 0 9.6 0a4.8 4.8 0 1 0 -9.6 0M654.1 623.5a4.8 4.8 0 1 0 9.6 0a4.8 4.8 0 1 0 -9.6 0M655.5 622.4a4.8 4.8 0 1 0 9.6 0a4.8 4.8 0 1 0 -9.6 0M656.9 623.8a4.8 4.8 0 1 0 9.6 0a4.8 4.8 0 1 0 -9.6 0M658.3 623.1a4.8 4.8 0 1 0 9.6 0a4.8 4.8 0 1 0 -9.6 0M659.7 624.4a4.8 4.8 0 1 0 9.6 0a4.8 4.8 0 1 0 -9.6 0M661 624.6a4.8 4.8 0 1 0 9.6 0a4.8 4.8 0 1 0 -9.6 0M662.4 625.9a4.8 4.8 0 1 0 9.6 0a4.8 4.8 0 1 0 -9.6 0M663.8 625.4a4.8 4.8 0 1 0 9.6 0a4.8 4.8 0 1 0 -9.6 0M665.2 625.8a4.8 4.8 0 1 0 9.6 0a4.8 4.8 0 1 0 -9.6 0M666.6 627a4.8 4.8 0 1 0 9.6 0a4.8 4.8 0 1 0 -9.6 0M668 627.2a4.8 4.8 0 1 0 9.6 0a4.8 4.8 0 1 0 -9.6 0M669.4 628.5a4.8 4.8 0 1 0 9.6 0a4.8 4.8 0 1 0 -9.6 0M670.8 628.6a4.8 4.8 0 1 0 9.6 0a4.8 4.8 0 1 0 -9.6 0M672.3 629.3a4.8 4.8 0 1 0 9.6 0a4.8 4.8 0 1 0 -9.6 0M673.7 629.3a4.8 4.8 0 1 0 9.6 0a4.8 4.8 0 1 0 -9.6 0M675.1 629.6a4.8 4.8 0 1 0 9.6 0a4.8 4.8 0 1 0 -9.6 0M676.5 630.5a4.8 4.8 0 1 0 9.6 0a4.8 4.8 0 1 0 -9.6 0M677.9 629.6a4.8 4.8 0 1 0 9.6 0a4.8 4.8 0 1 0 -9.6 0M679.3 629.9a4.8 4.8 0 1 0 9.6 0a4.8 4.8 0 1 0 -9.6 0M680.7 632a4.8 4.8 0 1 0 9.6 0a4.8 4.8 0 1 0 -9.6 0M682.1 630.2a4.8 4.8 0 1 0 9.6 0a4.8 4.8 0 1 0 -9.6 0M683.6 631.9a4.8 4.8 0 1 0 9.6 0a4.8 4.8 0 1 0 -9.6 0M685 631.9a4.8 4.8 0 1 0 9.6 0a4.8 4.8 0 1 0 -9.6 0M686.4 630.6a4.8 4.8 0 1 0 9.6 0a4.8 4.8 0 1 0 -9.6 0M687.8 632.9a4.8 4.8 0 1 0 9.6 0a4.8 4.8 0 1 0 -9.6 0M689.2 633.3a4.8 4.8 0 1 0 9.6 0a4.8 4.8 0 1 0 -9.6 0M690.7 632.9a4.8 4.8 0 1 0 9.6 0a4.8 4.8 0 1 0 -9.6 0M692.1 633.6a4.8 4.8 0 1 0 9.6 0a4.8 4.8 0 1 0 -9.6 0M693.4 634.3a4.8 4.8 0 1 0 9.6 0a4.8 4.8 0 1 0 -9.6 0M694.8 633a4.8 4.8 0 1 0 9.6 0a4.8 4.8 0 1 0 -9.6 0M696.2 634.4a4.8 4.8 0 1 0 9.6 0a4.8 4.8 0 1 0 -9.6 0M697.6 634.7a4.8 4.8 0 1 0 9.6 0a4.8 4.8 0 1 0 -9.6 0M699.1 635.9a4.8 4.8 0 1 0 9.6 0a4.8 4.8 0 1 0 -9.6 0M700.5 636.2a4.8 4.8 0 1 0 9.6 0a4.8 4.8 0 1 0 -9.6 0M701.9 636.6a4.8 4.8 0 1 0 9.6 0a4.8 4.8 0 1 0 -9.6 0M703.3 636.3a4.8 4.8 0 1 0 9.6 0a4.8 4.8 0 1 0 -9.6 0M704.7 637.5a4.8 4.8 0 1 0 9.6 0a4.8 4.8 0 1 0 -9.6 0M706.1 637.3a4.8 4.8 0 1 0 9.6 0a4.8 4.8 0 1 0 -9.6 0M707.5 637.7a4.8 4.8 0 1 0 9.6 0a4.8 4.8 0 1 0 -9.6 0M708.9 636.8a4.8 4.8 0 1 0 9.6 0a4.8 4.8 0 1 0 -9.6 0M710.3 636.6a4.8 4.8 0 1 0 9.6 0a4.8 4.8 0 1 0 -9.6 0M711.7 637.2a4.8 4.8 0 1 0 9.6 0a4.8 4.8 0 1 0 -9.6 0M713.1 638.2a4.8 4.8 0 1 0 9.6 0a4.8 4.8 0 1 0 -9.6 0M714.5 637.9a4.8 4.8 0 1 0 9.6 0a4.8 4.8 0 1 0 -9.6 0M716 640.1a4.8 4.8 0 1 0 9.6 0a4.8 4.8 0 1 0 -9.6 0M717.4 639.7a4.8 4.8 0 1 0 9.6 0a4.8 4.8 0 1 0 -9.6 0M718.8 640.3a4.8 4.8 0 1 0 9.6 0a4.8 4.8 0 1 0 -9.6 0M720.2 640.6a4.8 4.8 0 1 0 9.6 0a4.8 4.8 0 1 0 -9.6 0M721.6 641.1a4.8 4.8 0 1 0 9.6 0a4.8 4.8 0 1 0 -9.6 0M723 640.9a4.8 4.8 0 1 0 9.6 0a4.8 4.8 0 1 0 -9.6 0M724.4 640a4.8 4.8 0 1 0 9.6 0a4.8 4.8 0 1 0 -9.6 0M725.8 642.4a4.8 4.8 0 1 0 9.6 0a4.8 4.8 0 1 0 -9.6 0M727.3 642.4a4.8 4.8 0 1 0 9.6 0a4.8 4.8 0 1 0 -9.6 0M728.7 642a4.8 4.8 0 1 0 9.6 0a4.8 4.8 0 1 0 -9.6 0M730.1 642.2a4.8 4.8 0 1 0 9.6 0a4.8 4.8 0 1 0 -9.6 0M731.5 642.7a4.8 4.8 0 1 0 9.6 0a4.8 4.8 0 1 0 -9.6 0M733 641.4a4.8 4.8 0 1 0 9.6 0a4.8 4.8 0 1 0 -9.6 0M734.4 643.3a4.8 4.8 0 1 0 9.6 0a4.8 4.8 0 1 0 -9.6 0M735.8 642.2a4.8 4.8 0 1 0 9.6 0a4.8 4.8 0 1 0 -9.6 0M737.2 642.1a4.8 4.8 0 1 0 9.6 0a4.8 4.8 0 1 0 -9.6 0M738.6 643a4.8 4.8 0 1 0 9.6 0a4.8 4.8 0 1 0 -9.6 0M740 644.6a4.8 4.8 0 1 0 9.6 0a4.8 4.8 0 1 0 -9.6 0M741.4 643.6a4.8 4.8 0 1 0 9.6 0a4.8 4.8 0 1 0 -9.6 0M742.8 645.4a4.8 4.8 0 1 0 9.6 0a4.8 4.8 0 1 0 -9.6 0M744.2 646.4a4.8 4.8 0 1 0 9.6 0a4.8 4.8 0 1 0 -9.6 0M745.6 645.6a4.8 4.8 0 1 0 9.6 0a4.8 4.8 0 1 0 -9.6 0M747.1 645.5a4.8 4.8 0 1 0 9.6 0a4.8 4.8 0 1 0 -9.6 0M748.5 646a4.8 4.8 0 1 0 9.6 0a4.8 4.8 0 1 0 -9.6 0M749.9 646.7a4.8 4.8 0 1 0 9.6 0a4.8 4.8 0 1 0 -9.6 0M751.3 647.1a4.8 4.8 0 1 0 9.6 0a4.8 4.8 0 1 0 -9.6 0M752.8 646.9a4.8 4.8 0 1 0 9.6 0a4.8 4.8 0 1 0 -9.6 0M754.2 647.2a4.8 4.8 0 1 0 9.6 0a4.8 4.8 0 1 0 -9.6 0M755.6 645.9a4.8 4.8 0 1 0 9.6 0a4.8 4.8 0 1 0 -9.6 0M757 645.9a4.8 4.8 0 1 0 9.6 0a4.8 4.8 0 1 0 -9.6 0M758.5 645.9a4.8 4.8 0 1 0 9.6 0a4.8 4.8 0 1 0 -9.6 0M759.9 647a4.8 4.8 0 1 0 9.6 0a4.8 4.8 0 1 0 -9.6 0M761.3 645.6a4.8 4.8 0 1 0 9.6 0a4.8 4.8 0 1 0 -9.6 0M762.7 646.1a4.8 4.8 0 1 0 9.6 0a4.8 4.8 0 1 0 -9.6 0M764.2 644.4a4.8 4.8 0 1 0 9.6 0a4.8 4.8 0 1 0 -9.6 0M765.6 644.3a4.8 4.8 0 1 0 9.6 0a4.8 4.8 0 1 0 -9.6 0M767 644.6a4.8 4.8 0 1 0 9.6 0a4.8 4.8 0 1 0 -9.6 0M768.4 645.5a4.8 4.8 0 1 0 9.6 0a4.8 4.8 0 1 0 -9.6 0M769.8 645.9a4.8 4.8 0 1 0 9.6 0a4.8 4.8 0 1 0 -9.6 0M771.2 646.4a4.8 4.8 0 1 0 9.6 0a4.8 4.8 0 1 0 -9.6 0M772.6 645.9a4.8 4.8 0 1 0 9.6 0a4.8 4.8 0 1 0 -9.6 0M774 647a4.8 4.8 0 1 0 9.6 0a4.8 4.8 0 1 0 -9.6 0M775.4 647.4a4.8 4.8 0 1 0 9.6 0a4.8 4.8 0 1 0 -9.6 0M776.7 648a4.8 4.8 0 1 0 9.6 0a4.8 4.8 0 1 0 -9.6 0M778.2 647.4a4.8 4.8 0 1 0 9.6 0a4.8 4.8 0 1 0 -9.6 0M779.6 649.4a4.8 4.8 0 1 0 9.6 0a4.8 4.8 0 1 0 -9.6 0M781.1 647.6a4.8 4.8 0 1 0 9.6 0a4.8 4.8 0 1 0 -9.6 0M782.5 649.7a4.8 4.8 0 1 0 9.6 0a4.8 4.8 0 1 0 -9.6 0M784 649.5a4.8 4.8 0 1 0 9.6 0a4.8 4.8 0 1 0 -9.6 0M785.4 647.3a4.8 4.8 0 1 0 9.6 0a4.8 4.8 0 1 0 -9.6 0M786.8 648.6a4.8 4.8 0 1 0 9.6 0a4.8 4.8 0 1 0 -9.6 0M788.2 649.8a4.8 4.8 0 1 0 9.6 0a4.8 4.8 0 1 0 -9.6 0M789.7 650.4a4.8 4.8 0 1 0 9.6 0a4.8 4.8 0 1 0 -9.6 0M791.1 649.2a4.8 4.8 0 1 0 9.6 0a4.8 4.8 0 1 0 -9.6 0M792.5 648.9a4.8 4.8 0 1 0 9.6 0a4.8 4.8 0 1 0 -9.6 0M793.9 649a4.8 4.8 0 1 0 9.6 0a4.8 4.8 0 1 0 -9.6 0M795.4 651.1a4.8 4.8 0 1 0 9.6 0a4.8 4.8 0 1 0 -9.6 0M796.8 649.5a4.8 4.8 0 1 0 9.6 0a4.8 4.8 0 1 0 -9.6 0M798.2 650.7a4.8 4.8 0 1 0 9.6 0a4.8 4.8 0 1 0 -9.6 0M799.6 649.8a4.8 4.8 0 1 0 9.6 0a4.8 4.8 0 1 0 -9.6 0M801 651a4.8 4.8 0 1 0 9.6 0a4.8 4.8 0 1 0 -9.6 0M802.5 652.3a4.8 4.8 0 1 0 9.6 0a4.8 4.8 0 1 0 -9.6 0M803.9 650.2a4.8 4.8 0 1 0 9.6 0a4.8 4.8 0 1 0 -9.6 0M805.4 652a4.8 4.8 0 1 0 9.6 0a4.8 4.8 0 1 0 -9.6 0M806.8 651.2a4.8 4.8 0 1 0 9.6 0a4.8 4.8 0 1 0 -9.6 0M808.3 652.2a4.8 4.8 0 1 0 9.6 0a4.8 4.8 0 1 0 -9.6 0M809.7 651.7a4.8 4.8 0 1 0 9.6 0a4.8 4.8 0 1 0 -9.6 0M811.2 650.5a4.8 4.8 0 1 0 9.6 0a4.8 4.8 0 1 0 -9.6 0M812.6 652.1a4.8 4.8 0 1 0 9.6 0a4.8 4.8 0 1 0 -9.6 0M814 650.9a4.8 4.8 0 1 0 9.6 0a4.8 4.8 0 1 0 -9.6 0M815.5 649.6a4.8 4.8 0 1 0 9.6 0a4.8 4.8 0 1 0 -9.6 0M816.9 649.5a4.8 4.8 0 1 0 9.6 0a4.8 4.8 0 1 0 -9.6 0M818.4 650.6a4.8 4.8 0 1 0 9.6 0a4.8 4.8 0 1 0 -9.6 0M819.8 650.4a4.8 4.8 0 1 0 9.6 0a4.8 4.8 0 1 0 -9.6 0M821.2 650.1a4.8 4.8 0 1 0 9.6 0a4.8 4.8 0 1 0 -9.6 0M822.6 650a4.8 4.8 0 1 0 9.6 0a4.8 4.8 0 1 0 -9.6 0M824.1 650.7a4.8 4.8 0 1 0 9.6 0a4.8 4.8 0 1 0 -9.6 0M825.5 650.9a4.8 4.8 0 1 0 9.6 0a4.8 4.8 0 1 0 -9.6 0M826.9 652.6a4.8 4.8 0 1 0 9.6 0a4.8 4.8 0 1 0 -9.6 0M828.3 650.7a4.8 4.8 0 1 0 9.6 0a4.8 4.8 0 1 0 -9.6 0M829.7 652.9a4.8 4.8 0 1 0 9.6 0a4.8 4.8 0 1 0 -9.6 0M831.1 653.4a4.8 4.8 0 1 0 9.6 0a4.8 4.8 0 1 0 -9.6 0M832.6 651.6a4.8 4.8 0 1 0 9.6 0a4.8 4.8 0 1 0 -9.6 0M834 653.7a4.8 4.8 0 1 0 9.6 0a4.8 4.8 0 1 0 -9.6 0M835.5 653.1a4.8 4.8 0 1 0 9.6 0a4.8 4.8 0 1 0 -9.6 0M836.9 653.6a4.8 4.8 0 1 0 9.6 0a4.8 4.8 0 1 0 -9.6 0M838.4 652a4.8 4.8 0 1 0 9.6 0a4.8 4.8 0 1 0 -9.6 0M839.8 652.2a4.8 4.8 0 1 0 9.6 0a4.8 4.8 0 1 0 -9.6 0M841.3 652.3a4.8 4.8 0 1 0 9.6 0a4.8 4.8 0 1 0 -9.6 0M842.7 653.9a4.8 4.8 0 1 0 9.6 0a4.8 4.8 0 1 0 -9.6 0M844.2 653a4.8 4.8 0 1 0 9.6 0a4.8 4.8 0 1 0 -9.6 0M845.6 652.6a4.8 4.8 0 1 0 9.6 0a4.8 4.8 0 1 0 -9.6 0M847 652.9a4.8 4.8 0 1 0 9.6 0a4.8 4.8 0 1 0 -9.6 0M848.4 652.7a4.8 4.8 0 1 0 9.6 0a4.8 4.8 0 1 0 -9.6 0M849.9 652.3a4.8 4.8 0 1 0 9.6 0a4.8 4.8 0 1 0 -9.6 0M851.3 652.6a4.8 4.8 0 1 0 9.6 0a4.8 4.8 0 1 0 -9.6 0M852.7 654.7a4.8 4.8 0 1 0 9.6 0a4.8 4.8 0 1 0 -9.6 0M854.1 653.5a4.8 4.8 0 1 0 9.6 0a4.8 4.8 0 1 0 -9.6 0M855.5 655.6a4.8 4.8 0 1 0 9.6 0a4.8 4.8 0 1 0 -9.6 0M857 654.2a4.8 4.8 0 1 0 9.6 0a4.8 4.8 0 1 0 -9.6 0M858.4 654.7a4.8 4.8 0 1 0 9.6 0a4.8 4.8 0 1 0 -9.6 0M859.8 655.7a4.8 4.8 0 1 0 9.6 0a4.8 4.8 0 1 0 -9.6 0M861.2 655.3a4.8 4.8 0 1 0 9.6 0a4.8 4.8 0 1 0 -9.6 0M862.6 656.2a4.8 4.8 0 1 0 9.6 0a4.8 4.8 0 1 0 -9.6 0M864 657.7a4.8 4.8 0 1 0 9.6 0a4.8 4.8 0 1 0 -9.6 0M865.3 657a4.8 4.8 0 1 0 9.6 0a4.8 4.8 0 1 0 -9.6 0M866.8 656.5a4.8 4.8 0 1 0 9.6 0a4.8 4.8 0 1 0 -9.6 0M868.2 655.7a4.8 4.8 0 1 0 9.6 0a4.8 4.8 0 1 0 -9.6 0M869.6 656.1a4.8 4.8 0 1 0 9.6 0a4.8 4.8 0 1 0 -9.6 0M871 655.9a4.8 4.8 0 1 0 9.6 0a4.8 4.8 0 1 0 -9.6 0M872.4 654.6a4.8 4.8 0 1 0 9.6 0a4.8 4.8 0 1 0 -9.6 0M873.8 654.7a4.8 4.8 0 1 0 9.6 0a4.8 4.8 0 1 0 -9.6 0M875.2 652.9a4.8 4.8 0 1 0 9.6 0a4.8 4.8 0 1 0 -9.6 0M876.6 655.2a4.8 4.8 0 1 0 9.6 0a4.8 4.8 0 1 0 -9.6 0M878 655a4.8 4.8 0 1 0 9.6 0a4.8 4.8 0 1 0 -9.6 0M879.4 656.3a4.8 4.8 0 1 0 9.6 0a4.8 4.8 0 1 0 -9.6 0M880.8 656.5a4.8 4.8 0 1 0 9.6 0a4.8 4.8 0 1 0 -9.6 0M882.2 656.1a4.8 4.8 0 1 0 9.6 0a4.8 4.8 0 1 0 -9.6 0M883.6 656a4.8 4.8 0 1 0 9.6 0a4.8 4.8 0 1 0 -9.6 0M884.9 658.8a4.8 4.8 0 1 0 9.6 0a4.8 4.8 0 1 0 -9.6 0M886.3 657.1a4.8 4.8 0 1 0 9.6 0a4.8 4.8 0 1 0 -9.6 0M887.8 658a4.8 4.8 0 1 0 9.6 0a4.8 4.8 0 1 0 -9.6 0M889.2 657.7a4.8 4.8 0 1 0 9.6 0a4.8 4.8 0 1 0 -9.6 0M890.7 657.6a4.8 4.8 0 1 0 9.6 0a4.8 4.8 0 1 0 -9.6 0M892.1 658.7a4.8 4.8 0 1 0 9.6 0a4.8 4.8 0 1 0 -9.6 0M893.6 659.3a4.8 4.8 0 1 0 9.6 0a4.8 4.8 0 1 0 -9.6 0M895 657.3a4.8 4.8 0 1 0 9.6 0a4.8 4.8 0 1 0 -9.6 0M896.4 657.9a4.8 4.8 0 1 0 9.6 0a4.8 4.8 0 1 0 -9.6 0M897.8 656.7a4.8 4.8 0 1 0 9.6 0a4.8 4.8 0 1 0 -9.6 0M899.2 657a4.8 4.8 0 1 0 9.6 0a4.8 4.8 0 1 0 -9.6 0M900.7 656.2a4.8 4.8 0 1 0 9.6 0a4.8 4.8 0 1 0 -9.6 0M902.1 655.3a4.8 4.8 0 1 0 9.6 0a4.8 4.8 0 1 0 -9.6 0M903.5 655.3a4.8 4.8 0 1 0 9.6 0a4.8 4.8 0 1 0 -9.6 0M904.9 655.6a4.8 4.8 0 1 0 9.6 0a4.8 4.8 0 1 0 -9.6 0M906.3 657.5a4.8 4.8 0 1 0 9.6 0a4.8 4.8 0 1 0 -9.6 0M907.8 656.7a4.8 4.8 0 1 0 9.6 0a4.8 4.8 0 1 0 -9.6 0M909.2 656.1a4.8 4.8 0 1 0 9.6 0a4.8 4.8 0 1 0 -9.6 0M910.6 658.1a4.8 4.8 0 1 0 9.6 0a4.8 4.8 0 1 0 -9.6 0M912.1 658.5a4.8 4.8 0 1 0 9.6 0a4.8 4.8 0 1 0 -9.6 0M913.5 657.3a4.8 4.8 0 1 0 9.6 0a4.8 4.8 0 1 0 -9.6 0M914.9 657a4.8 4.8 0 1 0 9.6 0a4.8 4.8 0 1 0 -9.6 0M916.3 657.6a4.8 4.8 0 1 0 9.6 0a4.8 4.8 0 1 0 -9.6 0M917.6 657.9a4.8 4.8 0 1 0 9.6 0a4.8 4.8 0 1 0 -9.6 0M919 659a4.8 4.8 0 1 0 9.6 0a4.8 4.8 0 1 0 -9.6 0M920.4 658.9a4.8 4.8 0 1 0 9.6 0a4.8 4.8 0 1 0 -9.6 0M921.8 659.8a4.8 4.8 0 1 0 9.6 0a4.8 4.8 0 1 0 -9.6 0M923.2 660.4a4.8 4.8 0 1 0 9.6 0a4.8 4.8 0 1 0 -9.6 0M924.6 661.7a4.8 4.8 0 1 0 9.6 0a4.8 4.8 0 1 0 -9.6 0M926 662.4a4.8 4.8 0 1 0 9.6 0a4.8 4.8 0 1 0 -9.6 0M927.5 661.9a4.8 4.8 0 1 0 9.6 0a4.8 4.8 0 1 0 -9.6 0M928.9 661a4.8 4.8 0 1 0 9.6 0a4.8 4.8 0 1 0 -9.6 0M930.3 660.8a4.8 4.8 0 1 0 9.6 0a4.8 4.8 0 1 0 -9.6 0M931.8 661a4.8 4.8 0 1 0 9.6 0a4.8 4.8 0 1 0 -9.6 0M933.2 660.5a4.8 4.8 0 1 0 9.6 0a4.8 4.8 0 1 0 -9.6 0M934.6 660.1a4.8 4.8 0 1 0 9.6 0a4.8 4.8 0 1 0 -9.6 0M936 659.2a4.8 4.8 0 1 0 9.6 0a4.8 4.8 0 1 0 -9.6 0M937.5 659.5a4.8 4.8 0 1 0 9.6 0a4.8 4.8 0 1 0 -9.6 0M938.9 661.1a4.8 4.8 0 1 0 9.6 0a4.8 4.8 0 1 0 -9.6 0M940.3 658.6a4.8 4.8 0 1 0 9.6 0a4.8 4.8 0 1 0 -9.6 0M941.7 659.7a4.8 4.8 0 1 0 9.6 0a4.8 4.8 0 1 0 -9.6 0M943.1 660.5a4.8 4.8 0 1 0 9.6 0a4.8 4.8 0 1 0 -9.6 0M944.5 661.6a4.8 4.8 0 1 0 9.6 0a4.8 4.8 0 1 0 -9.6 0M945.9 660.4a4.8 4.8 0 1 0 9.6 0a4.8 4.8 0 1 0 -9.6 0M947.3 661a4.8 4.8 0 1 0 9.6 0a4.8 4.8 0 1 0 -9.6 0M948.7 661.5a4.8 4.8 0 1 0 9.6 0a4.8 4.8 0 1 0 -9.6 0M950.1 662.4a4.8 4.8 0 1 0 9.6 0a4.8 4.8 0 1 0 -9.6 0M951.4 662.9a4.8 4.8 0 1 0 9.6 0a4.8 4.8 0 1 0 -9.6 0M952.9 664.6a4.8 4.8 0 1 0 9.6 0a4.8 4.8 0 1 0 -9.6 0M954.3 664.7a4.8 4.8 0 1 0 9.6 0a4.8 4.8 0 1 0 -9.6 0M955.7 665.1a4.8 4.8 0 1 0 9.6 0a4.8 4.8 0 1 0 -9.6 0M957.1 663.2a4.8 4.8 0 1 0 9.6 0a4.8 4.8 0 1 0 -9.6 0M958.5 663.6a4.8 4.8 0 1 0 9.6 0a4.8 4.8 0 1 0 -9.6 0M959.9 665.7a4.8 4.8 0 1 0 9.6 0a4.8 4.8 0 1 0 -9.6 0M961.3 666.6a4.8 4.8 0 1 0 9.6 0a4.8 4.8 0 1 0 -9.6 0M962.7 665.7a4.8 4.8 0 1 0 9.6 0a4.8 4.8 0 1 0 -9.6 0M964.1 666.3a4.8 4.8 0 1 0 9.6 0a4.8 4.8 0 1 0 -9.6 0M965.6 665a4.8 4.8 0 1 0 9.6 0a4.8 4.8 0 1 0 -9.6 0M967 666.2a4.8 4.8 0 1 0 9.6 0a4.8 4.8 0 1 0 -9.6 0M968.4 667.9a4.8 4.8 0 1 0 9.6 0a4.8 4.8 0 1 0 -9.6 0M969.8 667.8a4.8 4.8 0 1 0 9.6 0a4.8 4.8 0 1 0 -9.6 0M971.2 667.5a4.8 4.8 0 1 0 9.6 0a4.8 4.8 0 1 0 -9.6 0M972.6 667.1a4.8 4.8 0 1 0 9.6 0a4.8 4.8 0 1 0 -9.6 0M973.9 664.5a4.8 4.8 0 1 0 9.6 0a4.8 4.8 0 1 0 -9.6 0M975.3 664.2a4.8 4.8 0 1 0 9.6 0a4.8 4.8 0 1 0 -9.6 0M976.7 664.7a4.8 4.8 0 1 0 9.6 0a4.8 4.8 0 1 0 -9.6 0M978.2 666a4.8 4.8 0 1 0 9.6 0a4.8 4.8 0 1 0 -9.6 0M979.6 666.8a4.8 4.8 0 1 0 9.6 0a4.8 4.8 0 1 0 -9.6 0M981 667.8a4.8 4.8 0 1 0 9.6 0a4.8 4.8 0 1 0 -9.6 0M982.4 667.6a4.8 4.8 0 1 0 9.6 0a4.8 4.8 0 1 0 -9.6 0M983.8 667.3a4.8 4.8 0 1 0 9.6 0a4.8 4.8 0 1 0 -9.6 0M985.2 667.5a4.8 4.8 0 1 0 9.6 0a4.8 4.8 0 1 0 -9.6 0M986.7 666.5a4.8 4.8 0 1 0 9.6 0a4.8 4.8 0 1 0 -9.6 0M988.1 666.6a4.8 4.8 0 1 0 9.6 0a4.8 4.8 0 1 0 -9.6 0M989.5 665.2a4.8 4.8 0 1 0 9.6 0a4.8 4.8 0 1 0 -9.6 0M991 667.3a4.8 4.8 0 1 0 9.6 0a4.8 4.8 0 1 0 -9.6 0M992.4 666.2a4.8 4.8 0 1 0 9.6 0a4.8 4.8 0 1 0 -9.6 0M993.8 668.2a4.8 4.8 0 1 0 9.6 0a4.8 4.8 0 1 0 -9.6 0M995.2 667.7a4.8 4.8 0 1 0 9.6 0a4.8 4.8 0 1 0 -9.6 0M996.6 667a4.8 4.8 0 1 0 9.6 0a4.8 4.8 0 1 0 -9.6 0M998.1 666.9a4.8 4.8 0 1 0 9.6 0a4.8 4.8 0 1 0 -9.6 0M999.5 667.5a4.8 4.8 0 1 0 9.6 0a4.8 4.8 0 1 0 -9.6 0M1000.9 668.9a4.8 4.8 0 1 0 9.6 0a4.8 4.8 0 1 0 -9.6 0M1002.3 669.4a4.8 4.8 0 1 0 9.6 0a4.8 4.8 0 1 0 -9.6 0M1003.7 668.2a4.8 4.8 0 1 0 9.6 0a4.8 4.8 0 1 0 -9.6 0M1005.1 668.5a4.8 4.8 0 1 0 9.6 0a4.8 4.8 0 1 0 -9.6 0M1006.5 670a4.8 4.8 0 1 0 9.6 0a4.8 4.8 0 1 0 -9.6 0M1007.9 670.5a4.8 4.8 0 1 0 9.6 0a4.8 4.8 0 1 0 -9.6 0M405.6 476.3a4.8 4.8 0 1 0 9.6 0a4.8 4.8 0 1 0 -9.6 0M414.8 508.3a4.8 4.8 0 1 0 9.6 0a4.8 4.8 0 1 0 -9.6 0M403 513.4a4.8 4.8 0 1 0 9.6 0a4.8 4.8 0 1 0 -9.6 0M381.5 533.4a4.8 4.8 0 1 0 9.6 0a4.8 4.8 0 1 0 -9.6 0M391.1 530.3a4.8 4.8 0 1 0 9.6 0a4.8 4.8 0 1 0 -9.6 0M402.7 530.1a4.8 4.8 0 1 0 9.6 0a4.8 4.8 0 1 0 -9.6 0M412.5 528.3a4.8 4.8 0 1 0 9.6 0a4.8 4.8 0 1 0 -9.6 0M421.7 526.1a4.8 4.8 0 1 0 9.6 0a4.8 4.8 0 1 0 -9.6 0M422.7 530.5a4.8 4.8 0 1 0 9.6 0a4.8 4.8 0 1 0 -9.6 0M417.9 532.3a4.8 4.8 0 1 0 9.6 0a4.8 4.8 0 1 0 -9.6 0M398.8 535.3a4.8 4.8 0 1 0 9.6 0a4.8 4.8 0 1 0 -9.6 0M408.3 535.3a4.8 4.8 0 1 0 9.6 0a4.8 4.8 0 1 0 -9.6 0M415.7 536.7a4.8 4.8 0 1 0 9.6 0a4.8 4.8 0 1 0 -9.6 0M426 540.4a4.8 4.8 0 1 0 9.6 0a4.8 4.8 0 1 0 -9.6 0M393.3 540.4a4.8 4.8 0 1 0 9.6 0a4.8 4.8 0 1 0 -9.6 0M389.2 544.1a4.8 4.8 0 1 0 9.6 0a4.8 4.8 0 1 0 -9.6 0M379.7 546.3a4.8 4.8 0 1 0 9.6 0a4.8 4.8 0 1 0 -9.6 0M371.6 548.5a4.8 4.8 0 1 0 9.6 0a4.8 4.8 0 1 0 -9.6 0M376 550a4.8 4.8 0 1 0 9.6 0a4.8 4.8 0 1 0 -9.6 0M384.8 547.8a4.8 4.8 0 1 0 9.6 0a4.8 4.8 0 1 0 -9.6 0M398.1 551.4a4.8 4.8 0 1 0 9.6 0a4.8 4.8 0 1 0 -9.6 0M411.3 552.9a4.8 4.8 0 1 0 9.6 0a4.8 4.8 0 1 0 -9.6 0M408.3 547.8a4.8 4.8 0 1 0 9.6 0a4.8 4.8 0 1 0 -9.6 0M428.2 547.8a4.8 4.8 0 1 0 9.6 0a4.8 4.8 0 1 0 -9.6 0M403.2 543a4.8 4.8 0 1 0 9.6 0a4.8 4.8 0 1 0 -9.6 0M395.2 547a4.8 4.8 0 1 0 9.6 0a4.8 4.8 0 1 0 -9.6 0M387.2 551a4.8 4.8 0 1 0 9.6 0a4.8 4.8 0 1 0 -9.6 0M379.2 553a4.8 4.8 0 1 0 9.6 0a4.8 4.8 0 1 0 -9.6 0M373.2 552a4.8 4.8 0 1 0 9.6 0a4.8 4.8 0 1 0 -9.6 0M391.2 553a4.8 4.8 0 1 0 9.6 0a4.8 4.8 0 1 0 -9.6 0M397.3 557a4.8 4.8 0 1 0 9.6 0a4.8 4.8 0 1 0 -9.6 0M386.2 557a4.8 4.8 0 1 0 9.6 0a4.8 4.8 0 1 0 -9.6 0M381.9 562a4.8 4.8 0 1 0 9.6 0a4.8 4.8 0 1 0 -9.6 0M384.2 566a4.8 4.8 0 1 0 9.6 0a4.8 4.8 0 1 0 -9.6 0M388.5 567.6a4.8 4.8 0 1 0 9.6 0a4.8 4.8 0 1 0 -9.6 0M411.3 553.7a4.8 4.8 0 1 0 9.6 0a4.8 4.8 0 1 0 -9.6 0M416.2 545a4.8 4.8 0 1 0 9.6 0a4.8 4.8 0 1 0 -9.6 0M421.2 541a4.8 4.8 0 1 0 9.6 0a4.8 4.8 0 1 0 -9.6 0M412 583.4a4.8 4.8 0 1 0 9.6 0a4.8 4.8 0 1 0 -9.6 0M387.8 587.8a4.8 4.8 0 1 0 9.6 0a4.8 4.8 0 1 0 -9.6 0M400.6 611.8a4.8 4.8 0 1 0 9.6 0a4.8 4.8 0 1 0 -9.6 0M500.6 565.3a4.8 4.8 0 1 0 9.6 0a4.8 4.8 0 1 0 -9.6 0M510.1 561.6a4.8 4.8 0 1 0 9.6 0a4.8 4.8 0 1 0 -9.6 0M516.7 561.6a4.8 4.8 0 1 0 9.6 0a4.8 4.8 0 1 0 -9.6 0M410.2 541.1a4.8 4.8 0 1 0 9.6 0a4.8 4.8 0 1 0 -9.6 0M433.3 551.4a4.8 4.8 0 1 0 9.6 0a4.8 4.8 0 1 0 -9.6 0M437.7 554.4a4.8 4.8 0 1 0 9.6 0a4.8 4.8 0 1 0 -9.6 0M440.7 557.3a4.8 4.8 0 1 0 9.6 0a4.8 4.8 0 1 0 -9.6 0M431.2 545a4.8 4.8 0 1 0 9.6 0a4.8 4.8 0 1 0 -9.6 0M435.7 549.5a4.8 4.8 0 1 0 9.6 0a4.8 4.8 0 1 0 -9.6 0M444.2 561.5a4.8 4.8 0 1 0 9.6 0a4.8 4.8 0 1 0 -9.6 0M447.7 567a4.8 4.8 0 1 0 9.6 0a4.8 4.8 0 1 0 -9.6 0" fill="#f00"/>
<path d="M63.7 649.2a4.8 4.8 0 1 0 9.6 0a4.8 4.8 0 1 0 -9.6 0M65.1 649.2a4.8 4.8 0 1 0 9.6 0a4.8 4.8 0 1 0 -9.6 0M66.5 650.3a4.8 4.8 0 1 0 9.6 0a4.8 4.8 0 1 0 -9.6 0M68 649.4a4.8 4.8 0 1 0 9.6 0a4.8 4.8 0 1 0 -9.6 0M69.4 650.3a4.8 4.8 0 1 0 9.6 0a4.8 4.8 0 1 0 -9.6 0M70.7 651.8a4.8 4.8 0 1 0 9.6 0a4.8 4.8 0 1 0 -9.6 0M71.9 654.5a4.8 4.8 0 1 0 9.6 0a4.8 4.8 0 1 0 -9.6 0M73.2 655.3a4.8 4.8 0 1 0 9.6 0a4.8 4.8 0 1 0 -9.6 0M74.5 657.4a4.8 4.8 0 1 0 9.6 0a4.8 4.8 0 1 0 -9.6 0M75.7 658.1a4.8 4.8 0 1 0 9.6 0a4.8 4.8 0 1 0 -9.6 0M77 658.9a4.8 4.8 0 1 0 9.6 0a4.8 4.8 0 1 0 -9.6 0M78.3 660.2a4.8 4.8 0 1 0 9.6 0a4.8 4.8 0 1 0 -9.6 0M79.6 663.1a4.8 4.8 0 1 0 9.6 0a4.8 4.8 0 1 0 -9.6 0M80.9 663.8a4.8 4.8 0 1 0 9.6 0a4.8 4.8 0 1 0 -9.6 0M82.2 663.4a4.8 4.8 0 1 0 9.6 0a4.8 4.8 0 1 0 -9.6 0M83.6 662a4.8 4.8 0 1 0 9.6 0a4.8 4.8 0 1 0 -9.6 0M84.9 662.2a4.8 4.8 0 1 0 9.6 0a4.8 4.8 0 1 0 -9.6 0M86.3 661.9a4.8 4.8 0 1 0 9.6 0a4.8 4.8 0 1 0 -9.6 0M87.7 660.8a4.8 4.8 0 1 0 9.6 0a4.8 4.8 0 1 0 -9.6 0M89.1 660a4.8 4.8 0 1 0 9.6 0a4.8 4.8 0 1 0 -9.6 0M90.5 660.5a4.8 4.8 0 1 0 9.6 0a4.8 4.8 0 1 0 -9.6 0M91.9 660.7a4.8 4.8 0 1 0 9.6 0a4.8 4.8 0 1 0 -9.6 0M93.1 657.6a4.8 4.8 0 1 0 9.6 0a4.8 4.8 0 1 0 -9.6 0M94.4 655.6a4.8 4.8 0 1 0 9.6 0a4.8 4.8 0 1 0 -9.6 0M95.7 654.7a4.8 4.8 0 1 0 9.6 0a4.8 4.8 0 1 0 -9.6 0M96.9 653.3a4.8 4.8 0 1 0 9.6 0a4.8 4.8 0 1 0 -9.6 0M98.2 652.8a4.8 4.8 0 1 0 9.6 0a4.8 4.8 0 1 0 -9.6 0M99.7 651.9a4.8 4.8 0 1 0 9.6 0a4.8 4.8 0 1 0 -9.6 0M101.1 653.4a4.8 4.8 0 1 0 9.6 0a4.8 4.8 0 1 0 -9.6 0M102.5 653.5a4.8 4.8 0 1 0 9.6 0a4.8 4.8 0 1 0 -9.6 0M103.9 653.3a4.8 4.8 0 1 0 9.6 0a4.8 4.8 0 1 0 -9.6 0M105.2 653.8a4.8 4.8 0 1 0 9.6 0a4.8 4.8 0 1 0 -9.6 0M106.6 656.6a4.8 4.8 0 1 0 9.6 0a4.8 4.8 0 1 0 -9.6 0M107.9 656.3a4.8 4.8 0 1 0 9.6 0a4.8 4.8 0 1 0 -9.6 0M109.2 658.6a4.8 4.8 0 1 0 9.6 0a4.8 4.8 0 1 0 -9.6 0M110.5 658.1a4.8 4.8 0 1 0 9.6 0a4.8 4.8 0 1 0 -9.6 0M111.9 658.8a4.8 4.8 0 1 0 9.6 0a4.8 4.8 0 1 0 -9.6 0M113.3 660.7a4.8 4.8 0 1 0 9.6 0a4.8 4.8 0 1 0 -9.6 0M114.6 659.5a4.8 4.8 0 1 0 9.6 0a4.8 4.8 0 1 0 -9.6 0M115.9 660a4.8 4.8 0 1 0 9.6 0a4.8 4.8 0 1 0 -9.6 0M117.3 658a4.8 4.8 0 1 0 9.6 0a4.8 4.8 0 1 0 -9.6 0M118.6 656.3a4.8 4.8 0 1 0 9.6 0a4.8 4.8 0 1 0 -9.6 0M119.9 655.3a4.8 4.8 0 1 0 9.6 0a4.8 4.8 0 1 0 -9.6 0M121.2 653.9a4.8 4.8 0 1 0 9.6 0a4.8 4.8 0 1 0 -9.6 0M122.4 652.6a4.8 4.8 0 1 0 9.6 0a4.8 4.8 0 1 0 -9.6 0M123.6 651.4a4.8 4.8 0 1 0 9.6 0a4.8 4.8 0 1 0 -9.6 0M124.9 648.5a4.8 4.8 0 1 0 9.6 0a4.8 4.8 0 1 0 -9.6 0M126.4 648.8a4.8 4.8 0 1 0 9.6 0a4.8 4.8 0 1 0 -9.6 0M127.8 648.2a4.8 4.8 0 1 0 9.6 0a4.8 4.8 0 1 0 -9.6 0M129.2 649.5a4.8 4.8 0 1 0 9.6 0a4.8 4.8 0 1 0 -9.6 0M130.6 647.1a4.8 4.8 0 1 0 9.6 0a4.8 4.8 0 1 0 -9.6 0M131.9 646.3a4.8 4.8 0 1 0 9.6 0a4.8 4.8 0 1 0 -9.6 0M133.3 645.7a4.8 4.8 0 1 0 9.6 0a4.8 4.8 0 1 0 -9.6 0M134.7 646.6a4.8 4.8 0 1 0 9.6 0a4.8 4.8 0 1 0 -9.6 0M136.1 648.3a4.8 4.8 0 1 0 9.6 0a4.8 4.8 0 1 0 -9.6 0M137.5 648.9a4.8 4.8 0 1 0 9.6 0a4.8 4.8 0 1 0 -9.6 0M138.8 649.2a4.8 4.8 0 1 0 9.6 0a4.8 4.8 0 1 0 -9.6 0M140.2 650.4a4.8 4.8 0 1 0 9.6 0a4.8 4.8 0 1 0 -9.6 0M141.6 650.9a4.8 4.8 0 1 0 9.6 0a4.8 4.8 0 1 0 -9.6 0M142.9 650.3a4.8 4.8 0 1 0 9.6 0a4.8 4.8 0 1 0 -9.6 0M144.3 650.7a4.8 4.8 0 1 0 9.6 0a4.8 4.8 0 1 0 -9.6 0M145.6 653.3a4.8 4.8 0 1 0 9.6 0a4.8 4.8 0 1 0 -9.6 0M146.9 654a4.8 4.8 0 1 0 9.6 0a4.8 4.8 0 1 0 -9.6 0M148.3 653.6a4.8 4.8 0 1 0 9.6 0a4.8 4.8 0 1 0 -9.6 0M149.6 656.1a4.8 4.8 0 1 0 9.6 0a4.8 4.8 0 1 0 -9.6 0M150.9 656.7a4.8 4.8 0 1 0 9.6 0a4.8 4.8 0 1 0 -9.6 0M152.2 657.7a4.8 4.8 0 1 0 9.6 0a4.8 4.8 0 1 0 -9.6 0M153.5 658.7a4.8 4.8 0 1 0 9.6 0a4.8 4.8 0 1 0 -9.6 0M154.8 659.5a4.8 4.8 0 1 0 9.6 0a4.8 4.8 0 1 0 -9.6 0M156.1 657.9a4.8 4.8 0 1 0 9.6 0a4.8 4.8 0 1 0 -9.6 0M157.3 656.7a4.8 4.8 0 1 0 9.6 0a4.8 4.8 0 1 0 -9.6 0M158.5 655a4.8 4.8 0 1 0 9.6 0a4.8 4.8 0 1 0 -9.6 0M159.8 654.5a4.8 4.8 0 1 0 9.6 0a4.8 4.8 0 1 0 -9.6 0M161 650.8a4.8 4.8 0 1 0 9.6 0a4.8 4.8 0 1 0 -9.6 0M162.2 650.8a4.8 4.8 0 1 0 9.6 0a4.8 4.8 0 1 0 -9.6 0M163.6 649.5a4.8 4.8 0 1 0 9.6 0a4.8 4.8 0 1 0 -9.6 0M164.9 650.6a4.8 4.8 0 1 0 9.6 0a4.8 4.8 0 1 0 -9.6 0M166.3 652.5a4.8 4.8 0 1 0 9.6 0a4.8 4.8 0 1 0 -9.6 0M167.6 653.3a4.8 4.8 0 1 0 9.6 0a4.8 4.8 0 1 0 -9.6 0M168.9 653.4a4.8 4.8 0 1 0 9.6 0a4.8 4.8 0 1 0 -9.6 0M170.3 653.4a4.8 4.8 0 1 0 9.6 0a4.8 4.8 0 1 0 -9.6 0M171.6 655.2a4.8 4.8 0 1 0 9.6 0a4.8 4.8 0 1 0 -9.6 0M173 655.5a4.8 4.8 0 1 0 9.6 0a4.8 4.8 0 1 0 -9.6 0M174.2 654.9a4.8 4.8 0 1 0 9.6 0a4.8 4.8 0 1 0 -9.6 0M175.4 651.6a4.8 4.8 0 1 0 9.6 0a4.8 4.8 0 1 0 -9.6 0M176.7 651a4.8 4.8 0 1 0 9.6 0a4.8 4.8 0 1 0 -9.6 0M177.9 654.1a4.8 4.8 0 1 0 9.6 0a4.8 4.8 0 1 0 -9.6 0M179.1 654.2a4.8 4.8 0 1 0 9.6 0a4.8 4.8 0 1 0 -9.6 0M180.3 657.3a4.8 4.8 0 1 0 9.6 0a4.8 4.8 0 1 0 -9.6 0M181.3 661.7a4.8 4.8 0 1 0 9.6 0a4.8 4.8 0 1 0 -9.6 0M182.3 665.2a4.8 4.8 0 1 0 9.6 0a4.8 4.8 0 1 0 -9.6 0M183.4 666.8a4.8 4.8 0 1 0 9.6 0a4.8 4.8 0 1 0 -9.6 0M184.6 669.1a4.8 4.8 0 1 0 9.6 0a4.8 4.8 0 1 0 -9.6 0M185.7 671.5a4.8 4.8 0 1 0 9.6 0a4.8 4.8 0 1 0 -9.6 0M186.9 675.7a4.8 4.8 0 1 0 9.6 0a4.8 4.8 0 1 0 -9.6 0M188.2 675.8a4.8 4.8 0 1 0 9.6 0a4.8 4.8 0 1 0 -9.6 0M189.5 677.7a4.8 4.8 0 1 0 9.6 0a4.8 4.8 0 1 0 -9.6 0M190.9 678.8a4.8 4.8 0 1 0 9.6 0a4.8 4.8 0 1 0 -9.6 0M192.2 678.4a4.8 4.8 0 1 0 9.6 0a4.8 4.8 0 1 0 -9.6 0M193.6 679.1a4.8 4.8 0 1 0 9.6 0a4.8 4.8 0 1 0 -9.6 0M194.9 681.2a4.8 4.8 0 1 0 9.6 0a4.8 4.8 0 1 0 -9.6 0M196.3 679.8a4.8 4.8 0 1 0 9.6 0a4.8 4.8 0 1 0 -9.6 0M197.7 678.3a4.8 4.8 0 1 0 9.6 0a4.8 4.8 0 1 0 -9.6 0M199 678.6a4.8 4.8 0 1 0 9.6 0a4.8 4.8 0 1 0 -9.6 0M200.4 677.1a4.8 4.8 0 1 0 9.6 0a4.8 4.8 0 1 0 -9.6 0M201.8 676.3a4.8 4.8 0 1 0 9.6 0a4.8 4.8 0 1 0 -9.6 0M203.2 675.5a4.8 4.8 0 1 0 9.6 0a4.8 4.8 0 1 0 -9.6 0M204.7 677.2a4.8 4.8 0 1 0 9.6 0a4.8 4.8 0 1 0 -9.6 0M206.1 677.7a4.8 4.8 0 1 0 9.6 0a4.8 4.8 0 1 0 -9.6 0M207.5 677.4a4.8 4.8 0 1 0 9.6 0a4.8 4.8 0 1 0 -9.6 0M208.9 678.3a4.8 4.8 0 1 0 9.6 0a4.8 4.8 0 1 0 -9.6 0M210.3 676.6a4.8 4.8 0 1 0 9.6 0a4.8 4.8 0 1 0 -9.6 0M211.7 677.3a4.8 4.8 0 1 0 9.6 0a4.8 4.8 0 1 0 -9.6 0M213.2 678a4.8 4.8 0 1 0 9.6 0a4.8 4.8 0 1 0 -9.6 0M214.6 679.1a4.8 4.8 0 1 0 9.6 0a4.8 4.8 0 1 0 -9.6 0M216.1 679.1a4.8 4.8 0 1 0 9.6 0a4.8 4.8 0 1 0 -9.6 0M217.5 677.8a4.8 4.8 0 1 0 9.6 0a4.8 4.8 0 1 0 -9.6 0M219 677.5a4.8 4.8 0 1 0 9.6 0a4.8 4.8 0 1 0 -9.6 0M220.4 677.9a4.8 4.8 0 1 0 9.6 0a4.8 4.8 0 1 0 -9.6 0M221.9 678.1a4.8 4.8 0 1 0 9.6 0a4.8 4.8 0 1 0 -9.6 0M223.3 679.2a4.8 4.8 0 1 0 9.6 0a4.8 4.8 0 1 0 -9.6 0M224.7 678.1a4.8 4.8 0 1 0 9.6 0a4.8 4.8 0 1 0 -9.6 0M226.1 680a4.8 4.8 0 1 0 9.6 0a4.8 4.8 0 1 0 -9.6 0M227.4 680.4a4.8 4.8 0 1 0 9.6 0a4.8 4.8 0 1 0 -9.6 0M228.8 681.2a4.8 4.8 0 1 0 9.6 0a4.8 4.8 0 1 0 -9.6 0M230.2 681.6a4.8 4.8 0 1 0 9.6 0a4.8 4.8 0 1 0 -9.6 0M231.6 680.5a4.8 4.8 0 1 0 9.6 0a4.8 4.8 0 1 0 -9.6 0M233 679.2a4.8 4.8 0 1 0 9.6 0a4.8 4.8 0 1 0 -9.6 0M234.3 678.5a4.8 4.8 0 1 0 9.6 0a4.8 4.8 0 1 0 -9.6 0M235.7 678a4.8 4.8 0 1 0 9.6 0a4.8 4.8 0 1 0 -9.6 0M237.1 678.4a4.8 4.8 0 1 0 9.6 0a4.8 4.8 0 1 0 -9.6 0M238.5 676.5a4.8 4.8 0 1 0 9.6 0a4.8 4.8 0 1 0 -9.6 0M239.9 676.4a4.8 4.8 0 1 0 9.6 0a4.8 4.8 0 1 0 -9.6 0M241.3 677.3a4.8 4.8 0 1 0 9.6 0a4.8 4.8 0 1 0 -9.6 0M242.7 675.9a4.8 4.8 0 1 0 9.6 0a4.8 4.8 0 1 0 -9.6 0M244.1 675.1a4.8 4.8 0 1 0 9.6 0a4.8 4.8 0 1 0 -9.6 0M245.5 675.1a4.8 4.8 0 1 0 9.6 0a4.8 4.8 0 1 0 -9.6 0M246.9 676.8a4.8 4.8 0 1 0 9.6 0a4.8 4.8 0 1 0 -9.6 0M248.3 676.9a4.8 4.8 0 1 0 9.6 0a4.8 4.8 0 1 0 -9.6 0M249.7 678.8a4.8 4.8 0 1 0 9.6 0a4.8 4.8 0 1 0 -9.6 0M251.1 679.2a4.8 4.8 0 1 0 9.6 0a4.8 4.8 0 1 0 -9.6 0M252.4 679.9a4.8 4.8 0 1 0 9.6 0a4.8 4.8 0 1 0 -9.6 0M253.8 678.7a4.8 4.8 0 1 0 9.6 0a4.8 4.8 0 1 0 -9.6 0M255.3 678.7a4.8 4.8 0 1 0 9.6 0a4.8 4.8 0 1 0 -9.6 0M256.7 679a4.8 4.8 0 1 0 9.6 0a4.8 4.8 0 1 0 -9.6 0M258.1 680.3a4.8 4.8 0 1 0 9.6 0a4.8 4.8 0 1 0 -9.6 0M259.5 681.1a4.8 4.8 0 1 0 9.6 0a4.8 4.8 0 1 0 -9.6 0M260.9 680.9a4.8 4.8 0 1 0 9.6 0a4.8 4.8 0 1 0 -9.6 0M262.3 680.1a4.8 4.8 0 1 0 9.6 0a4.8 4.8 0 1 0 -9.6 0M263.7 680.2a4.8 4.8 0 1 0 9.6 0a4.8 4.8 0 1 0 -9.6 0M265.1 680.3a4.8 4.8 0 1 0 9.6 0a4.8 4.8 0 1 0 -9.6 0M266.5 680a4.8 4.8 0 1 0 9.6 0a4.8 4.8 0 1 0 -9.6 0M267.9 679.8a4.8 4.8 0 1 0 9.6 0a4.8 4.8 0 1 0 -9.6 0M269.3 679.7a4.8 4.8 0 1 0 9.6 0a4.8 4.8 0 1 0 -9.6 0M270.8 679.1a4.8 4.8 0 1 0 9.6 0a4.8 4.8 0 1 0 -9.6 0M272.2 677.8a4.8 4.8 0 1 0 9.6 0a4.8 4.8 0 1 0 -9.6 0M273.6 679.2a4.8 4.8 0 1 0 9.6 0a4.8 4.8 0 1 0 -9.6 0M275.1 677.9a4.8 4.8 0 1 0 9.6 0a4.8 4.8 0 1 0 -9.6 0M276.5 678.4a4.8 4.8 0 1 0 9.6 0a4.8 4.8 0 1 0 -9.6 0M277.9 677.9a4.8 4.8 0 1 0 9.6 0a4.8 4.8 0 1 0 -9.6 0M279.4 678.7a4.8 4.8 0 1 0 9.6 0a4.8 4.8 0 1 0 -9.6 0M280.8 677.6a4.8 4.8 0 1 0 9.6 0a4.8 4.8 0 1 0 -9.6 0M282.2 677.8a4.8 4.8 0 1 0 9.6 0a4.8 4.8 0 1 0 -9.6 0M283.7 677.9a4.8 4.8 0 1 0 9.6 0a4.8 4.8 0 1 0 -9.6 0M285.1 677.9a4.8 4.8 0 1 0 9.6 0a4.8 4.8 0 1 0 -9.6 0M286.5 679.6a4.8 4.8 0 1 0 9.6 0a4.8 4.8 0 1 0 -9.6 0M287.9 678.7a4.8 4.8 0 1 0 9.6 0a4.8 4.8 0 1 0 -9.6 0M289.3 677.2a4.8 4.8 0 1 0 9.6 0a4.8 4.8 0 1 0 -9.6 0M290.6 676.5a4.8 4.8 0 1 0 9.6 0a4.8 4.8 0 1 0 -9.6 0M292 677a4.8 4.8 0 1 0 9.6 0a4.8 4.8 0 1 0 -9.6 0M293.3 677a4.8 4.8 0 1 0 9.6 0a4.8 4.8 0 1 0 -9.6 0M294.6 677.5a4.8 4.8 0 1 0 9.6 0a4.8 4.8 0 1 0 -9.6 0M295.9 678.8a4.8 4.8 0 1 0 9.6 0a4.8 4.8 0 1 0 -9.6 0M297.1 676.1a4.8 4.8 0 1 0 9.6 0a4.8 4.8 0 1 0 -9.6 0M298.2 674.5a4.8 4.8 0 1 0 9.6 0a4.8 4.8 0 1 0 -9.6 0M299.3 669.7a4.8 4.8 0 1 0 9.6 0a4.8 4.8 0 1 0 -9.6 0M300.1 664.6a4.8 4.8 0 1 0 9.6 0a4.8 4.8 0 1 0 -9.6 0M300.9 660.2a4.8 4.8 0 1 0 9.6 0a4.8 4.8 0 1 0 -9.6 0M302.2 659a4.8 4.8 0 1 0 9.6 0a4.8 4.8 0 1 0 -9.6 0M303.5 657.8a4.8 4.8 0 1 0 9.6 0a4.8 4.8 0 1 0 -9.6 0M304.8 654.6a4.8 4.8 0 1 0 9.6 0a4.8 4.8 0 1 0 -9.6 0M306.2 654.8a4.8 4.8 0 1 0 9.6 0a4.8 4.8 0 1 0 -9.6 0M307.7 654.5a4.8 4.8 0 1 0 9.6 0a4.8 4.8 0 1 0 -9.6 0M309.1 654.6a4.8 4.8 0 1 0 9.6 0a4.8 4.8 0 1 0 -9.6 0M310.6 656.3a4.8 4.8 0 1 0 9.6 0a4.8 4.8 0 1 0 -9.6 0M311.8 653.5a4.8 4.8 0 1 0 9.6 0a4.8 4.8 0 1 0 -9.6 0M312.9 651.5a4.8 4.8 0 1 0 9.6 0a4.8 4.8 0 1 0 -9.6 0M314 647.6a4.8 4.8 0 1 0 9.6 0a4.8 4.8 0 1 0 -9.6 0M315.2 646.9a4.8 4.8 0 1 0 9.6 0a4.8 4.8 0 1 0 -9.6 0M316.5 644.2a4.8 4.8 0 1 0 9.6 0a4.8 4.8 0 1 0 -9.6 0M317.7 641.9a4.8 4.8 0 1 0 9.6 0a4.8 4.8 0 1 0 -9.6 0M318.9 641.3a4.8 4.8 0 1 0 9.6 0a4.8 4.8 0 1 0 -9.6 0M320.1 642.8a4.8 4.8 0 1 0 9.6 0a4.8 4.8 0 1 0 -9.6 0M321.1 644.4a4.8 4.8 0 1 0 9.6 0a4.8 4.8 0 1 0 -9.6 0M322.1 649a4.8 4.8 0 1 0 9.6 0a4.8 4.8 0 1 0 -9.6 0M323.3 651.6a4.8 4.8 0 1 0 9.6 0a4.8 4.8 0 1 0 -9.6 0M324.6 651.7a4.8 4.8 0 1 0 9.6 0a4.8 4.8 0 1 0 -9.6 0M325.9 653a4.8 4.8 0 1 0 9.6 0a4.8 4.8 0 1 0 -9.6 0M327.3 653.5a4.8 4.8 0 1 0 9.6 0a4.8 4.8 0 1 0 -9.6 0M328.6 654.6a4.8 4.8 0 1 0 9.6 0a4.8 4.8 0 1 0 -9.6 0M329.9 655.6a4.8 4.8 0 1 0 9.6 0a4.8 4.8 0 1 0 -9.6 0M331.3 657.3a4.8 4.8 0 1 0 9.6 0a4.8 4.8 0 1 0 -9.6 0M332.6 658.3a4.8 4.8 0 1 0 9.6 0a4.8 4.8 0 1 0 -9.6 0M334 656.9a4.8 4.8 0 1 0 9.6 0a4.8 4.8 0 1 0 -9.6 0M335.3 655.5a4.8 4.8 0 1 0 9.6 0a4.8 4.8 0 1 0 -9.6 0M336.6 655.2a4.8 4.8 0 1 0 9.6 0a4.8 4.8 0 1 0 -9.6 0M338 654.9a4.8 4.8 0 1 0 9.6 0a4.8 4.8 0 1 0 -9.6 0M339.2 652.3a4.8 4.8 0 1 0 9.6 0a4.8 4.8 0 1 0 -9.6 0M340.3 649.5a4.8 4.8 0 1 0 9.6 0a4.8 4.8 0 1 0 -9.6 0M341.4 646.2a4.8 4.8 0 1 0 9.6 0a4.8 4.8 0 1 0 -9.6 0M342.5 644.5a4.8 4.8 0 1 0 9.6 0a4.8 4.8 0 1 0 -9.6 0M341.8 639.1a4.8 4.8 0 1 0 9.6 0a4.8 4.8 0 1 0 -9.6 0M341.3 633.5a4.8 4.8 0 1 0 9.6 0a4.8 4.8 0 1 0 -9.6 0M342.5 631.9a4.8 4.8 0 1 0 9.6 0a4.8 4.8 0 1 0 -9.6 0M343.8 630.8a4.8 4.8 0 1 0 9.6 0a4.8 4.8 0 1 0 -9.6 0M345.1 629.7a4.8 4.8 0 1 0 9.6 0a4.8 4.8 0 1 0 -9.6 0M346.5 630.2a4.8 4.8 0 1 0 9.6 0a4.8 4.8 0 1 0 -9.6 0M347.9 629.2a4.8 4.8 0 1 0 9.6 0a4.8 4.8 0 1 0 -9.6 0M349.3 629.6a4.8 4.8 0 1 0 9.6 0a4.8 4.8 0 1 0 -9.6 0M350.7 631a4.8 4.8 0 1 0 9.6 0a4.8 4.8 0 1 0 -9.6 0M352.2 630.6a4.8 4.8 0 1 0 9.6 0a4.8 4.8 0 1 0 -9.6 0M353.6 630.6a4.8 4.8 0 1 0 9.6 0a4.8 4.8 0 1 0 -9.6 0M352.5 633.2a4.8 4.8 0 1 0 9.6 0a4.8 4.8 0 1 0 -9.6 0M351.3 637.2a4.8 4.8 0 1 0 9.6 0a4.8 4.8 0 1 0 -9.6 0M351.2 638a4.8 4.8 0 1 0 9.6 0a4.8 4.8 0 1 0 -9.6 0M352.4 640.4a4.8 4.8 0 1 0 9.6 0a4.8 4.8 0 1 0 -9.6 0M353.6 641.8a4.8 4.8 0 1 0 9.6 0a4.8 4.8 0 1 0 -9.6 0M354.9 643.8a4.8 4.8 0 1 0 9.6 0a4.8 4.8 0 1 0 -9.6 0M356.1 646.6a4.8 4.8 0 1 0 9.6 0a4.8 4.8 0 1 0 -9.6 0M357.4 647.3a4.8 4.8 0 1 0 9.6 0a4.8 4.8 0 1 0 -9.6 0M358.8 645.4a4.8 4.8 0 1 0 9.6 0a4.8 4.8 0 1 0 -9.6 0M360.2 644.6a4.8 4.8 0 1 0 9.6 0a4.8 4.8 0 1 0 -9.6 0M361.6 645.3a4.8 4.8 0 1 0 9.6 0a4.8 4.8 0 1 0 -9.6 0M363 643.6a4.8 4.8 0 1 0 9.6 0a4.8 4.8 0 1 0 -9.6 0M364.4 642.7a4.8 4.8 0 1 0 9.6 0a4.8 4.8 0 1 0 -9.6 0M365.8 644.6a4.8 4.8 0 1 0 9.6 0a4.8 4.8 0 1 0 -9.6 0M367.2 644.1a4.8 4.8 0 1 0 9.6 0a4.8 4.8 0 1 0 -9.6 0M368.6 645.5a4.8 4.8 0 1 0 9.6 0a4.8 4.8 0 1 0 -9.6 0M369.9 643.9a4.8 4.8 0 1 0 9.6 0a4.8 4.8 0 1 0 -9.6 0M371.1 643a4.8 4.8 0 1 0 9.6 0a4.8 4.8 0 1 0 -9.6 0M372.3 640.1a4.8 4.8 0 1 0 9.6 0a4.8 4.8 0 1 0 -9.6 0M373.5 637.5a4.8 4.8 0 1 0 9.6 0a4.8 4.8 0 1 0 -9.6 0M374.7 635.2a4.8 4.8 0 1 0 9.6 0a4.8 4.8 0 1 0 -9.6 0M375.9 634.5a4.8 4.8 0 1 0 9.6 0a4.8 4.8 0 1 0 -9.6 0M377.1 632.6a4.8 4.8 0 1 0 9.6 0a4.8 4.8 0 1 0 -9.6 0M378.3 630.8a4.8 4.8 0 1 0 9.6 0a4.8 4.8 0 1 0 -9.6 0M379.5 626.7a4.8 4.8 0 1 0 9.6 0a4.8 4.8 0 1 0 -9.6 0M380.6 625.5a4.8 4.8 0 1 0 9.6 0a4.8 4.8 0 1 0 -9.6 0M435.2 645.5a4.8 4.8 0 1 0 9.6 0a4.8 4.8 0 1 0 -9.6 0M436.6 646.4a4.8 4.8 0 1 0 9.6 0a4.8 4.8 0 1 0 -9.6 0M438 646.2a4.8 4.8 0 1 0 9.6 0a4.8 4.8 0 1 0 -9.6 0M439.4 647a4.8 4.8 0 1 0 9.6 0a4.8 4.8 0 1 0 -9.6 0M440.7 648.1a4.8 4.8 0 1 0 9.6 0a4.8 4.8 0 1 0 -9.6 0M442.1 649.5a4.8 4.8 0 1 0 9.6 0a4.8 4.8 0 1 0 -9.6 0M443.4 649.3a4.8 4.8 0 1 0 9.6 0a4.8 4.8 0 1 0 -9.6 0M444.6 652a4.8 4.8 0 1 0 9.6 0a4.8 4.8 0 1 0 -9.6 0M445.8 654.7a4.8 4.8 0 1 0 9.6 0a4.8 4.8 0 1 0 -9.6 0M447 657a4.8 4.8 0 1 0 9.6 0a4.8 4.8 0 1 0 -9.6 0M448.3 657.2a4.8 4.8 0 1 0 9.6 0a4.8 4.8 0 1 0 -9.6 0M449.5 659a4.8 4.8 0 1 0 9.6 0a4.8 4.8 0 1 0 -9.6 0M450.7 662.5a4.8 4.8 0 1 0 9.6 0a4.8 4.8 0 1 0 -9.6 0M452 664.1a4.8 4.8 0 1 0 9.6 0a4.8 4.8 0 1 0 -9.6 0M453.3 664.5a4.8 4.8 0 1 0 9.6 0a4.8 4.8 0 1 0 -9.6 0M454.5 665.1a4.8 4.8 0 1 0 9.6 0a4.8 4.8 0 1 0 -9.6 0M455.8 668.5a4.8 4.8 0 1 0 9.6 0a4.8 4.8 0 1 0 -9.6 0M457.1 668.9a4.8 4.8 0 1 0 9.6 0a4.8 4.8 0 1 0 -9.6 0M458.4 670.7a4.8 4.8 0 1 0 9.6 0a4.8 4.8 0 1 0 -9.6 0M459.8 670.6a4.8 4.8 0 1 0 9.6 0a4.8 4.8 0 1 0 -9.6 0M461.2 671.6a4.8 4.8 0 1 0 9.6 0a4.8 4.8 0 1 0 -9.6 0M462.6 670.7a4.8 4.8 0 1 0 9.6 0a4.8 4.8 0 1 0 -9.6 0M464 672.7a4.8 4.8 0 1 0 9.6 0a4.8 4.8 0 1 0 -9.6 0M465.3 670.9a4.8 4.8 0 1 0 9.6 0a4.8 4.8 0 1 0 -9.6 0M466.6 669.9a4.8 4.8 0 1 0 9.6 0a4.8 4.8 0 1 0 -9.6 0M467.8 669.5a4.8 4.8 0 1 0 9.6 0a4.8 4.8 0 1 0 -9.6 0M469.1 668a4.8 4.8 0 1 0 9.6 0a4.8 4.8 0 1 0 -9.6 0M470.4 665.2a4.8 4.8 0 1 0 9.6 0a4.8 4.8 0 1 0 -9.6 0M471.7 663.9a4.8 4.8 0 1 0 9.6 0a4.8 4.8 0 1 0 -9.6 0M473 665.1a4.8 4.8 0 1 0 9.6 0a4.8 4.8 0 1 0 -9.6 0M474.2 666.8a4.8 4.8 0 1 0 9.6 0a4.8 4.8 0 1 0 -9.6 0M475.5 667.9a4.8 4.8 0 1 0 9.6 0a4.8 4.8 0 1 0 -9.6 0M476.8 668.7a4.8 4.8 0 1 0 9.6 0a4.8 4.8 0 1 0 -9.6 0M478.1 670.4a4.8 4.8 0 1 0 9.6 0a4.8 4.8 0 1 0 -9.6 0M479.4 672.9a4.8 4.8 0 1 0 9.6 0a4.8 4.8 0 1 0 -9.6 0M480.6 674.8a4.8 4.8 0 1 0 9.6 0a4.8 4.8 0 1 0 -9.6 0M481.9 674.4a4.8 4.8 0 1 0 9.6 0a4.8 4.8 0 1 0 -9.6 0M483.2 677.1a4.8 4.8 0 1 0 9.6 0a4.8 4.8 0 1 0 -9.6 0M484.4 679a4.8 4.8 0 1 0 9.6 0a4.8 4.8 0 1 0 -9.6 0M485.7 679a4.8 4.8 0 1 0 9.6 0a4.8 4.8 0 1 0 -9.6 0M487 681.8a4.8 4.8 0 1 0 9.6 0a4.8 4.8 0 1 0 -9.6 0M488.4 679.9a4.8 4.8 0 1 0 9.6 0a4.8 4.8 0 1 0 -9.6 0M489.8 680.7a4.8 4.8 0 1 0 9.6 0a4.8 4.8 0 1 0 -9.6 0M491.3 680.3a4.8 4.8 0 1 0 9.6 0a4.8 4.8 0 1 0 -9.6 0M492.7 680.2a4.8 4.8 0 1 0 9.6 0a4.8 4.8 0 1 0 -9.6 0M494.1 679.1a4.8 4.8 0 1 0 9.6 0a4.8 4.8 0 1 0 -9.6 0M495.4 678.3a4.8 4.8 0 1 0 9.6 0a4.8 4.8 0 1 0 -9.6 0M496.7 677.6a4.8 4.8 0 1 0 9.6 0a4.8 4.8 0 1 0 -9.6 0M498.1 676.2a4.8 4.8 0 1 0 9.6 0a4.8 4.8 0 1 0 -9.6 0M499.4 675.7a4.8 4.8 0 1 0 9.6 0a4.8 4.8 0 1 0 -9.6 0M500.7 674.1a4.8 4.8 0 1 0 9.6 0a4.8 4.8 0 1 0 -9.6 0M502.1 673.6a4.8 4.8 0 1 0 9.6 0a4.8 4.8 0 1 0 -9.6 0M503.5 672.7a4.8 4.8 0 1 0 9.6 0a4.8 4.8 0 1 0 -9.6 0M505 674a4.8 4.8 0 1 0 9.6 0a4.8 4.8 0 1 0 -9.6 0M514.3 649.6a4.8 4.8 0 1 0 9.6 0a4.8 4.8 0 1 0 -9.6 0M515.1 654.8a4.8 4.8 0 1 0 9.6 0a4.8 4.8 0 1 0 -9.6 0M515.9 661.1a4.8 4.8 0 1 0 9.6 0a4.8 4.8 0 1 0 -9.6 0M517.1 662.9a4.8 4.8 0 1 0 9.6 0a4.8 4.8 0 1 0 -9.6 0M518.3 664.1a4.8 4.8 0 1 0 9.6 0a4.8 4.8 0 1 0 -9.6 0M519.6 665.3a4.8 4.8 0 1 0 9.6 0a4.8 4.8 0 1 0 -9.6 0M520.9 666.9a4.8 4.8 0 1 0 9.6 0a4.8 4.8 0 1 0 -9.6 0M522.2 667.4a4.8 4.8 0 1 0 9.6 0a4.8 4.8 0 1 0 -9.6 0M523.6 668.5a4.8 4.8 0 1 0 9.6 0a4.8 4.8 0 1 0 -9.6 0M524.8 671a4.8 4.8 0 1 0 9.6 0a4.8 4.8 0 1 0 -9.6 0M525.9 672.8a4.8 4.8 0 1 0 9.6 0a4.8 4.8 0 1 0 -9.6 0M527.1 675.7a4.8 4.8 0 1 0 9.6 0a4.8 4.8 0 1 0 -9.6 0M528.2 678.9a4.8 4.8 0 1 0 9.6 0a4.8 4.8 0 1 0 -9.6 0M529.3 681.3a4.8 4.8 0 1 0 9.6 0a4.8 4.8 0 1 0 -9.6 0M530.6 683.5a4.8 4.8 0 1 0 9.6 0a4.8 4.8 0 1 0 -9.6 0M531.9 683.9a4.8 4.8 0 1 0 9.6 0a4.8 4.8 0 1 0 -9.6 0M533.2 686.1a4.8 4.8 0 1 0 9.6 0a4.8 4.8 0 1 0 -9.6 0M534.5 687a4.8 4.8 0 1 0 9.6 0a4.8 4.8 0 1 0 -9.6 0M535.9 687.2a4.8 4.8 0 1 0 9.6 0a4.8 4.8 0 1 0 -9.6 0M537.3 687a4.8 4.8 0 1 0 9.6 0a4.8 4.8 0 1 0 -9.6 0M538.5 689.8a4.8 4.8 0 1 0 9.6 0a4.8 4.8 0 1 0 -9.6 0M539.6 692.6a4.8 4.8 0 1 0 9.6 0a4.8 4.8 0 1 0 -9.6 0M540.6 696.6a4.8 4.8 0 1 0 9.6 0a4.8 4.8 0 1 0 -9.6 0M542 696.4a4.8 4.8 0 1 0 9.6 0a4.8 4.8 0 1 0 -9.6 0M543.2 698.2a4.8 4.8 0 1 0 9.6 0a4.8 4.8 0 1 0 -9.6 0M544 692.5a4.8 4.8 0 1 0 9.6 0a4.8 4.8 0 1 0 -9.6 0M544.9 687.7a4.8 4.8 0 1 0 9.6 0a4.8 4.8 0 1 0 -9.6 0M545.9 684.2a4.8 4.8 0 1 0 9.6 0a4.8 4.8 0 1 0 -9.6 0M547 680.1a4.8 4.8 0 1 0 9.6 0a4.8 4.8 0 1 0 -9.6 0M548.3 679.8a4.8 4.8 0 1 0 9.6 0a4.8 4.8 0 1 0 -9.6 0M549.5 677.4a4.8 4.8 0 1 0 9.6 0a4.8 4.8 0 1 0 -9.6 0M550.8 676.5a4.8 4.8 0 1 0 9.6 0a4.8 4.8 0 1 0 -9.6 0M552 675.3a4.8 4.8 0 1 0 9.6 0a4.8 4.8 0 1 0 -9.6 0M553.4 674.9a4.8 4.8 0 1 0 9.6 0a4.8 4.8 0 1 0 -9.6 0M554.8 676.7a4.8 4.8 0 1 0 9.6 0a4.8 4.8 0 1 0 -9.6 0M556.1 677.7a4.8 4.8 0 1 0 9.6 0a4.8 4.8 0 1 0 -9.6 0M557.5 677.2a4.8 4.8 0 1 0 9.6 0a4.8 4.8 0 1 0 -9.6 0M558.8 678.5a4.8 4.8 0 1 0 9.6 0a4.8 4.8 0 1 0 -9.6 0M560.1 680a4.8 4.8 0 1 0 9.6 0a4.8 4.8 0 1 0 -9.6 0M561.5 680a4.8 4.8 0 1 0 9.6 0a4.8 4.8 0 1 0 -9.6 0M562.8 682.3a4.8 4.8 0 1 0 9.6 0a4.8 4.8 0 1 0 -9.6 0M564.1 682.4a4.8 4.8 0 1 0 9.6 0a4.8 4.8 0 1 0 -9.6 0M565.4 684.4a4.8 4.8 0 1 0 9.6 0a4.8 4.8 0 1 0 -9.6 0M566.8 683.4a4.8 4.8 0 1 0 9.6 0a4.8 4.8 0 1 0 -9.6 0M568.3 683.7a4.8 4.8 0 1 0 9.6 0a4.8 4.8 0 1 0 -9.6 0M569.7 684.2a4.8 4.8 0 1 0 9.6 0a4.8 4.8 0 1 0 -9.6 0M571.1 682.9a4.8 4.8 0 1 0 9.6 0a4.8 4.8 0 1 0 -9.6 0M572.5 683.4a4.8 4.8 0 1 0 9.6 0a4.8 4.8 0 1 0 -9.6 0M573.9 684.1a4.8 4.8 0 1 0 9.6 0a4.8 4.8 0 1 0 -9.6 0M575.3 684.2a4.8 4.8 0 1 0 9.6 0a4.8 4.8 0 1 0 -9.6 0M576.4 686.9a4.8 4.8 0 1 0 9.6 0a4.8 4.8 0 1 0 -9.6 0M577.5 690a4.8 4.8 0 1 0 9.6 0a4.8 4.8 0 1 0 -9.6 0M578.7 692.1a4.8 4.8 0 1 0 9.6 0a4.8 4.8 0 1 0 -9.6 0M579.9 695.5a4.8 4.8 0 1 0 9.6 0a4.8 4.8 0 1 0 -9.6 0M581.2 696.1a4.8 4.8 0 1 0 9.6 0a4.8 4.8 0 1 0 -9.6 0M582.6 696.5a4.8 4.8 0 1 0 9.6 0a4.8 4.8 0 1 0 -9.6 0M584.1 695.4a4.8 4.8 0 1 0 9.6 0a4.8 4.8 0 1 0 -9.6 0M585.5 696.5a4.8 4.8 0 1 0 9.6 0a4.8 4.8 0 1 0 -9.6 0M586.9 696.2a4.8 4.8 0 1 0 9.6 0a4.8 4.8 0 1 0 -9.6 0M588.2 697.7a4.8 4.8 0 1 0 9.6 0a4.8 4.8 0 1 0 -9.6 0M589.6 698.7a4.8 4.8 0 1 0 9.6 0a4.8 4.8 0 1 0 -9.6 0M590.9 699.1a4.8 4.8 0 1 0 9.6 0a4.8 4.8 0 1 0 -9.6 0M592.3 699.7a4.8 4.8 0 1 0 9.6 0a4.8 4.8 0 1 0 -9.6 0M593.7 698.7a4.8 4.8 0 1 0 9.6 0a4.8 4.8 0 1 0 -9.6 0M595.1 698.2a4.8 4.8 0 1 0 9.6 0a4.8 4.8 0 1 0 -9.6 0M595.2 698.3a4.8 4.8 0 1 0 9.6 0a4.8 4.8 0 1 0 -9.6 0M596.6 697.8a4.8 4.8 0 1 0 9.6 0a4.8 4.8 0 1 0 -9.6 0M598.1 698.6a4.8 4.8 0 1 0 9.6 0a4.8 4.8 0 1 0 -9.6 0M599.5 698.5a4.8 4.8 0 1 0 9.6 0a4.8 4.8 0 1 0 -9.6 0M600.9 698.4a4.8 4.8 0 1 0 9.6 0a4.8 4.8 0 1 0 -9.6 0M602.4 698.5a4.8 4.8 0 1 0 9.6 0a4.8 4.8 0 1 0 -9.6 0M603.8 697.8a4.8 4.8 0 1 0 9.6 0a4.8 4.8 0 1 0 -9.6 0M605.2 698.1a4.8 4.8 0 1 0 9.6 0a4.8 4.8 0 1 0 -9.6 0M606.6 697.4a4.8 4.8 0 1 0 9.6 0a4.8 4.8 0 1 0 -9.6 0M608 696.9a4.8 4.8 0 1 0 9.6 0a4.8 4.8 0 1 0 -9.6 0M609.4 696.8a4.8 4.8 0 1 0 9.6 0a4.8 4.8 0 1 0 -9.6 0M610.8 696.1a4.8 4.8 0 1 0 9.6 0a4.8 4.8 0 1 0 -9.6 0M612.2 695.4a4.8 4.8 0 1 0 9.6 0a4.8 4.8 0 1 0 -9.6 0M613.6 695.4a4.8 4.8 0 1 0 9.6 0a4.8 4.8 0 1 0 -9.6 0M615 694.4a4.8 4.8 0 1 0 9.6 0a4.8 4.8 0 1 0 -9.6 0M616.4 695.2a4.8 4.8 0 1 0 9.6 0a4.8 4.8 0 1 0 -9.6 0M617.7 695.6a4.8 4.8 0 1 0 9.6 0a4.8 4.8 0 1 0 -9.6 0M619 696.8a4.8 4.8 0 1 0 9.6 0a4.8 4.8 0 1 0 -9.6 0M620.4 697.9a4.8 4.8 0 1 0 9.6 0a4.8 4.8 0 1 0 -9.6 0M621.8 697.5a4.8 4.8 0 1 0 9.6 0a4.8 4.8 0 1 0 -9.6 0M623.3 697.4a4.8 4.8 0 1 0 9.6 0a4.8 4.8 0 1 0 -9.6 0M624.7 697a4.8 4.8 0 1 0 9.6 0a4.8 4.8 0 1 0 -9.6 0M626.1 696.7a4.8 4.8 0 1 0 9.6 0a4.8 4.8 0 1 0 -9.6 0M627.6 696.9a4.8 4.8 0 1 0 9.6 0a4.8 4.8 0 1 0 -9.6 0M628.9 698a4.8 4.8 0 1 0 9.6 0a4.8 4.8 0 1 0 -9.6 0M630.2 699.4a4.8 4.8 0 1 0 9.6 0a4.8 4.8 0 1 0 -9.6 0M631.6 699.8a4.8 4.8 0 1 0 9.6 0a4.8 4.8 0 1 0 -9.6 0M632.9 699.1a4.8 4.8 0 1 0 9.6 0a4.8 4.8 0 1 0 -9.6 0M634.3 698.7a4.8 4.8 0 1 0 9.6 0a4.8 4.8 0 1 0 -9.6 0M635.6 697.3a4.8 4.8 0 1 0 9.6 0a4.8 4.8 0 1 0 -9.6 0M637 696.7a4.8 4.8 0 1 0 9.6 0a4.8 4.8 0 1 0 -9.6 0M638.4 696.6a4.8 4.8 0 1 0 9.6 0a4.8 4.8 0 1 0 -9.6 0M639.9 696.1a4.8 4.8 0 1 0 9.6 0a4.8 4.8 0 1 0 -9.6 0M641.3 696.1a4.8 4.8 0 1 0 9.6 0a4.8 4.8 0 1 0 -9.6 0M642.8 696.4a4.8 4.8 0 1 0 9.6 0a4.8 4.8 0 1 0 -9.6 0M644.2 696.2a4.8 4.8 0 1 0 9.6 0a4.8 4.8 0 1 0 -9.6 0M645.6 696.5a4.8 4.8 0 1 0 9.6 0a4.8 4.8 0 1 0 -9.6 0M647.1 696.5a4.8 4.8 0 1 0 9.6 0a4.8 4.8 0 1 0 -9.6 0M648.5 696.8a4.8 4.8 0 1 0 9.6 0a4.8 4.8 0 1 0 -9.6 0M650 696.9a4.8 4.8 0 1 0 9.6 0a4.8 4.8 0 1 0 -9.6 0M651.4 696.6a4.8 4.8 0 1 0 9.6 0a4.8 4.8 0 1 0 -9.6 0M652.8 697.1a4.8 4.8 0 1 0 9.6 0a4.8 4.8 0 1 0 -9.6 0M654.3 697.2a4.8 4.8 0 1 0 9.6 0a4.8 4.8 0 1 0 -9.6 0M655.7 697.4a4.8 4.8 0 1 0 9.6 0a4.8 4.8 0 1 0 -9.6 0M657 698.6a4.8 4.8 0 1 0 9.6 0a4.8 4.8 0 1 0 -9.6 0M658.4 698.5a4.8 4.8 0 1 0 9.6 0a4.8 4.8 0 1 0 -9.6 0M659.8 699a4.8 4.8 0 1 0 9.6 0a4.8 4.8 0 1 0 -9.6 0M661.2 699.4a4.8 4.8 0 1 0 9.6 0a4.8 4.8 0 1 0 -9.6 0M662.6 700.2a4.8 4.8 0 1 0 9.6 0a4.8 4.8 0 1 0 -9.6 0M664.1 700.5a4.8 4.8 0 1 0 9.6 0a4.8 4.8 0 1 0 -9.6 0M665.5 700.5a4.8 4.8 0 1 0 9.6 0a4.8 4.8 0 1 0 -9.6 0M666.9 700.3a4.8 4.8 0 1 0 9.6 0a4.8 4.8 0 1 0 -9.6 0M668.4 700.3a4.8 4.8 0 1 0 9.6 0a4.8 4.8 0 1 0 -9.6 0M669.8 700.2a4.8 4.8 0 1 0 9.6 0a4.8 4.8 0 1 0 -9.6 0M671.2 700.8a4.8 4.8 0 1 0 9.6 0a4.8 4.8 0 1 0 -9.6 0M672.7 700.8a4.8 4.8 0 1 0 9.6 0a4.8 4.8 0 1 0 -9.6 0M674.1 700.7a4.8 4.8 0 1 0 9.6 0a4.8 4.8 0 1 0 -9.6 0M675.6 701.1a4.8 4.8 0 1 0 9.6 0a4.8 4.8 0 1 0 -9.6 0M677 701a4.8 4.8 0 1 0 9.6 0a4.8 4.8 0 1 0 -9.6 0M678.5 701.3a4.8 4.8 0 1 0 9.6 0a4.8 4.8 0 1 0 -9.6 0M679.9 701.2a4.8 4.8 0 1 0 9.6 0a4.8 4.8 0 1 0 -9.6 0M681.4 700.8a4.8 4.8 0 1 0 9.6 0a4.8 4.8 0 1 0 -9.6 0M682.8 701.3a4.8 4.8 0 1 0 9.6 0a4.8 4.8 0 1 0 -9.6 0M684.3 700.7a4.8 4.8 0 1 0 9.6 0a4.8 4.8 0 1 0 -9.6 0M685.7 701.5a4.8 4.8 0 1 0 9.6 0a4.8 4.8 0 1 0 -9.6 0M687.1 701.7a4.8 4.8 0 1 0 9.6 0a4.8 4.8 0 1 0 -9.6 0M688.5 702a4.8 4.8 0 1 0 9.6 0a4.8 4.8 0 1 0 -9.6 0M689.9 702.3a4.8 4.8 0 1 0 9.6 0a4.8 4.8 0 1 0 -9.6 0M691.3 702.7a4.8 4.8 0 1 0 9.6 0a4.8 4.8 0 1 0 -9.6 0M692.7 701.8a4.8 4.8 0 1 0 9.6 0a4.8 4.8 0 1 0 -9.6 0M694.1 702a4.8 4.8 0 1 0 9.6 0a4.8 4.8 0 1 0 -9.6 0M695.5 702a4.8 4.8 0 1 0 9.6 0a4.8 4.8 0 1 0 -9.6 0M696.9 701.3a4.8 4.8 0 1 0 9.6 0a4.8 4.8 0 1 0 -9.6 0M698.4 701.5a4.8 4.8 0 1 0 9.6 0a4.8 4.8 0 1 0 -9.6 0M699.8 701.9a4.8 4.8 0 1 0 9.6 0a4.8 4.8 0 1 0 -9.6 0M701.2 702a4.8 4.8 0 1 0 9.6 0a4.8 4.8 0 1 0 -9.6 0M702.7 702.3a4.8 4.8 0 1 0 9.6 0a4.8 4.8 0 1 0 -9.6 0M704.1 702.5a4.8 4.8 0 1 0 9.6 0a4.8 4.8 0 1 0 -9.6 0M705.5 702.2a4.8 4.8 0 1 0 9.6 0a4.8 4.8 0 1 0 -9.6 0M707 702.4a4.8 4.8 0 1 0 9.6 0a4.8 4.8 0 1 0 -9.6 0M708.4 702.5a4.8 4.8 0 1 0 9.6 0a4.8 4.8 0 1 0 -9.6 0M709.8 702.5a4.8 4.8 0 1 0 9.6 0a4.8 4.8 0 1 0 -9.6 0M711.3 703.3a4.8 4.8 0 1 0 9.6 0a4.8 4.8 0 1 0 -9.6 0M712.7 703.4a4.8 4.8 0 1 0 9.6 0a4.8 4.8 0 1 0 -9.6 0M714.1 703.4a4.8 4.8 0 1 0 9.6 0a4.8 4.8 0 1 0 -9.6 0M715.6 703a4.8 4.8 0 1 0 9.6 0a4.8 4.8 0 1 0 -9.6 0M717 703.8a4.8 4.8 0 1 0 9.6 0a4.8 4.8 0 1 0 -9.6 0M718.5 703.7a4.8 4.8 0 1 0 9.6 0a4.8 4.8 0 1 0 -9.6 0M719.9 703.5a4.8 4.8 0 1 0 9.6 0a4.8 4.8 0 1 0 -9.6 0M721.4 703.7a4.8 4.8 0 1 0 9.6 0a4.8 4.8 0 1 0 -9.6 0M722.8 703.5a4.8 4.8 0 1 0 9.6 0a4.8 4.8 0 1 0 -9.6 0M724.3 703.3a4.8 4.8 0 1 0 9.6 0a4.8 4.8 0 1 0 -9.6 0M725.7 703.2a4.8 4.8 0 1 0 9.6 0a4.8 4.8 0 1 0 -9.6 0M727.2 703.3a4.8 4.8 0 1 0 9.6 0a4.8 4.8 0 1 0 -9.6 0M728.6 703.1a4.8 4.8 0 1 0 9.6 0a4.8 4.8 0 1 0 -9.6 0M730.1 703.4a4.8 4.8 0 1 0 9.6 0a4.8 4.8 0 1 0 -9.6 0M731.5 703.7a4.8 4.8 0 1 0 9.6 0a4.8 4.8 0 1 0 -9.6 0M733 703.7a4.8 4.8 0 1 0 9.6 0a4.8 4.8 0 1 0 -9.6 0M734.4 703.8a4.8 4.8 0 1 0 9.6 0a4.8 4.8 0 1 0 -9.6 0M735.9 703.7a4.8 4.8 0 1 0 9.6 0a4.8 4.8 0 1 0 -9.6 0M737.3 703.3a4.8 4.8 0 1 0 9.6 0a4.8 4.8 0 1 0 -9.6 0M738.8 703.5a4.8 4.8 0 1 0 9.6 0a4.8 4.8 0 1 0 -9.6 0M740.2 703.4a4.8 4.8 0 1 0 9.6 0a4.8 4.8 0 1 0 -9.6 0M741.7 703.7a4.8 4.8 0 1 0 9.6 0a4.8 4.8 0 1 0 -9.6 0M743.1 703.5a4.8 4.8 0 1 0 9.6 0a4.8 4.8 0 1 0 -9.6 0M744.6 703.3a4.8 4.8 0 1 0 9.6 0a4.8 4.8 0 1 0 -9.6 0M746 703.6a4.8 4.8 0 1 0 9.6 0a4.8 4.8 0 1 0 -9.6 0M747.5 703.9a4.8 4.8 0 1 0 9.6 0a4.8 4.8 0 1 0 -9.6 0M748.9 703.2a4.8 4.8 0 1 0 9.6 0a4.8 4.8 0 1 0 -9.6 0M750.3 703.6a4.8 4.8 0 1 0 9.6 0a4.8 4.8 0 1 0 -9.6 0M751.8 702.7a4.8 4.8 0 1 0 9.6 0a4.8 4.8 0 1 0 -9.6 0M753.2 702.6a4.8 4.8 0 1 0 9.6 0a4.8 4.8 0 1 0 -9.6 0M754.6 702.4a4.8 4.8 0 1 0 9.6 0a4.8 4.8 0 1 0 -9.6 0M756 702.6a4.8 4.8 0 1 0 9.6 0a4.8 4.8 0 1 0 -9.6 0M757.5 702.6a4.8 4.8 0 1 0 9.6 0a4.8 4.8 0 1 0 -9.6 0M758.9 702.3a4.8 4.8 0 1 0 9.6 0a4.8 4.8 0 1 0 -9.6 0M760.3 701.8a4.8 4.8 0 1 0 9.6 0a4.8 4.8 0 1 0 -9.6 0M761.8 702.1a4.8 4.8 0 1 0 9.6 0a4.8 4.8 0 1 0 -9.6 0M763.2 701.6a4.8 4.8 0 1 0 9.6 0a4.8 4.8 0 1 0 -9.6 0M764.6 701.4a4.8 4.8 0 1 0 9.6 0a4.8 4.8 0 1 0 -9.6 0M766.1 701.8a4.8 4.8 0 1 0 9.6 0a4.8 4.8 0 1 0 -9.6 0M767.5 701.4a4.8 4.8 0 1 0 9.6 0a4.8 4.8 0 1 0 -9.6 0M768.9 701.3a4.8 4.8 0 1 0 9.6 0a4.8 4.8 0 1 0 -9.6 0M770.4 701.2a4.8 4.8 0 1 0 9.6 0a4.8 4.8 0 1 0 -9.6 0M771.8 701a4.8 4.8 0 1 0 9.6 0a4.8 4.8 0 1 0 -9.6 0M773.1 699.9a4.8 4.8 0 1 0 9.6 0a4.8 4.8 0 1 0 -9.6 0M774.5 699.5a4.8 4.8 0 1 0 9.6 0a4.8 4.8 0 1 0 -9.6 0M775.9 698.7a4.8 4.8 0 1 0 9.6 0a4.8 4.8 0 1 0 -9.6 0M777.2 698.2a4.8 4.8 0 1 0 9.6 0a4.8 4.8 0 1 0 -9.6 0M778.7 697.7a4.8 4.8 0 1 0 9.6 0a4.8 4.8 0 1 0 -9.6 0M780.1 697.6a4.8 4.8 0 1 0 9.6 0a4.8 4.8 0 1 0 -9.6 0M781.5 697.3a4.8 4.8 0 1 0 9.6 0a4.8 4.8 0 1 0 -9.6 0M782.9 696.8a4.8 4.8 0 1 0 9.6 0a4.8 4.8 0 1 0 -9.6 0M784.3 696.5a4.8 4.8 0 1 0 9.6 0a4.8 4.8 0 1 0 -9.6 0M785.8 696.8a4.8 4.8 0 1 0 9.6 0a4.8 4.8 0 1 0 -9.6 0M787.2 696.7a4.8 4.8 0 1 0 9.6 0a4.8 4.8 0 1 0 -9.6 0M788.6 697.6a4.8 4.8 0 1 0 9.6 0a4.8 4.8 0 1 0 -9.6 0M790 697.3a4.8 4.8 0 1 0 9.6 0a4.8 4.8 0 1 0 -9.6 0M791.4 697.5a4.8 4.8 0 1 0 9.6 0a4.8 4.8 0 1 0 -9.6 0M792.8 697.8a4.8 4.8 0 1 0 9.6 0a4.8 4.8 0 1 0 -9.6 0M794.3 698.8a4.8 4.8 0 1 0 9.6 0a4.8 4.8 0 1 0 -9.6 0M795.7 698.5a4.8 4.8 0 1 0 9.6 0a4.8 4.8 0 1 0 -9.6 0M797.1 698.2a4.8 4.8 0 1 0 9.6 0a4.8 4.8 0 1 0 -9.6 0M798.6 698.1a4.8 4.8 0 1 0 9.6 0a4.8 4.8 0 1 0 -9.6 0M800 698a4.8 4.8 0 1 0 9.6 0a4.8 4.8 0 1 0 -9.6 0M801.5 698.5a4.8 4.8 0 1 0 9.6 0a4.8 4.8 0 1 0 -9.6 0M802.9 698.4a4.8 4.8 0 1 0 9.6 0a4.8 4.8 0 1 0 -9.6 0M804.3 698.4a4.8 4.8 0 1 0 9.6 0a4.8 4.8 0 1 0 -9.6 0M805.8 698.4a4.8 4.8 0 1 0 9.6 0a4.8 4.8 0 1 0 -9.6 0M807.2 697.7a4.8 4.8 0 1 0 9.6 0a4.8 4.8 0 1 0 -9.6 0M808.7 698.1a4.8 4.8 0 1 0 9.6 0a4.8 4.8 0 1 0 -9.6 0M810.1 697.8a4.8 4.8 0 1 0 9.6 0a4.8 4.8 0 1 0 -9.6 0M811.5 698.1a4.8 4.8 0 1 0 9.6 0a4.8 4.8 0 1 0 -9.6 0M813 698a4.8 4.8 0 1 0 9.6 0a4.8 4.8 0 1 0 -9.6 0M814.4 698a4.8 4.8 0 1 0 9.6 0a4.8 4.8 0 1 0 -9.6 0M815.9 697.2a4.8 4.8 0 1 0 9.6 0a4.8 4.8 0 1 0 -9.6 0M817.3 697.6a4.8 4.8 0 1 0 9.6 0a4.8 4.8 0 1 0 -9.6 0M818.7 697.4a4.8 4.8 0 1 0 9.6 0a4.8 4.8 0 1 0 -9.6 0M820.1 697.2a4.8 4.8 0 1 0 9.6 0a4.8 4.8 0 1 0 -9.6 0M821.6 696.3a4.8 4.8 0 1 0 9.6 0a4.8 4.8 0 1 0 -9.6 0M823 696.2a4.8 4.8 0 1 0 9.6 0a4.8 4.8 0 1 0 -9.6 0M824.4 695.9a4.8 4.8 0 1 0 9.6 0a4.8 4.8 0 1 0 -9.6 0M825.8 696.3a4.8 4.8 0 1 0 9.6 0a4.8 4.8 0 1 0 -9.6 0M827.2 697.4a4.8 4.8 0 1 0 9.6 0a4.8 4.8 0 1 0 -9.6 0M828.6 697.8a4.8 4.8 0 1 0 9.6 0a4.8 4.8 0 1 0 -9.6 0M830 698.1a4.8 4.8 0 1 0 9.6 0a4.8 4.8 0 1 0 -9.6 0M831.4 698.7a4.8 4.8 0 1 0 9.6 0a4.8 4.8 0 1 0 -9.6 0M832.8 699a4.8 4.8 0 1 0 9.6 0a4.8 4.8 0 1 0 -9.6 0M834.2 699.1a4.8 4.8 0 1 0 9.6 0a4.8 4.8 0 1 0 -9.6 0M835.6 699.2a4.8 4.8 0 1 0 9.6 0a4.8 4.8 0 1 0 -9.6 0M837 699.5a4.8 4.8 0 1 0 9.6 0a4.8 4.8 0 1 0 -9.6 0M838.4 700.2a4.8 4.8 0 1 0 9.6 0a4.8 4.8 0 1 0 -9.6 0M839.9 700a4.8 4.8 0 1 0 9.6 0a4.8 4.8 0 1 0 -9.6 0M841.3 700.3a4.8 4.8 0 1 0 9.6 0a4.8 4.8 0 1 0 -9.6 0M842.7 700.7a4.8 4.8 0 1 0 9.6 0a4.8 4.8 0 1 0 -9.6 0M844.1 700.5a4.8 4.8 0 1 0 9.6 0a4.8 4.8 0 1 0 -9.6 0M845.6 700.4a4.8 4.8 0 1 0 9.6 0a4.8 4.8 0 1 0 -9.6 0M847 700.3a4.8 4.8 0 1 0 9.6 0a4.8 4.8 0 1 0 -9.6 0M848.4 700.4a4.8 4.8 0 1 0 9.6 0a4.8 4.8 0 1 0 -9.6 0M849.8 699.9a4.8 4.8 0 1 0 9.6 0a4.8 4.8 0 1 0 -9.6 0M851.3 699.7a4.8 4.8 0 1 0 9.6 0a4.8 4.8 0 1 0 -9.6 0M852.7 700a4.8 4.8 0 1 0 9.6 0a4.8 4.8 0 1 0 -9.6 0M854.1 699.4a4.8 4.8 0 1 0 9.6 0a4.8 4.8 0 1 0 -9.6 0M855.5 699.5a4.8 4.8 0 1 0 9.6 0a4.8 4.8 0 1 0 -9.6 0M856.9 699.7a4.8 4.8 0 1 0 9.6 0a4.8 4.8 0 1 0 -9.6 0M858.3 699.7a4.8 4.8 0 1 0 9.6 0a4.8 4.8 0 1 0 -9.6 0M859.7 700.5a4.8 4.8 0 1 0 9.6 0a4.8 4.8 0 1 0 -9.6 0M861.1 701a4.8 4.8 0 1 0 9.6 0a4.8 4.8 0 1 0 -9.6 0M862.5 701.5a4.8 4.8 0 1 0 9.6 0a4.8 4.8 0 1 0 -9.6 0M864 701.2a4.8 4.8 0 1 0 9.6 0a4.8 4.8 0 1 0 -9.6 0M865.4 701.5a4.8 4.8 0 1 0 9.6 0a4.8 4.8 0 1 0 -9.6 0M866.9 701.3a4.8 4.8 0 1 0 9.6 0a4.8 4.8 0 1 0 -9.6 0M868.3 701.1a4.8 4.8 0 1 0 9.6 0a4.8 4.8 0 1 0 -9.6 0M869.8 701.6a4.8 4.8 0 1 0 9.6 0a4.8 4.8 0 1 0 -9.6 0M871.2 700.6a4.8 4.8 0 1 0 9.6 0a4.8 4.8 0 1 0 -9.6 0M872.6 700.8a4.8 4.8 0 1 0 9.6 0a4.8 4.8 0 1 0 -9.6 0M874 699.9a4.8 4.8 0 1 0 9.6 0a4.8 4.8 0 1 0 -9.6 0M875.4 699.4a4.8 4.8 0 1 0 9.6 0a4.8 4.8 0 1 0 -9.6 0M876.8 699a4.8 4.8 0 1 0 9.6 0a4.8 4.8 0 1 0 -9.6 0M878.2 698.9a4.8 4.8 0 1 0 9.6 0a4.8 4.8 0 1 0 -9.6 0M879.5 698.5a4.8 4.8 0 1 0 9.6 0a4.8 4.8 0 1 0 -9.6 0M880.9 697.1a4.8 4.8 0 1 0 9.6 0a4.8 4.8 0 1 0 -9.6 0M882.3 696.9a4.8 4.8 0 1 0 9.6 0a4.8 4.8 0 1 0 -9.6 0M883.7 696.4a4.8 4.8 0 1 0 9.6 0a4.8 4.8 0 1 0 -9.6 0M885.1 696.1a4.8 4.8 0 1 0 9.6 0a4.8 4.8 0 1 0 -9.6 0M886.5 695.1a4.8 4.8 0 1 0 9.6 0a4.8 4.8 0 1 0 -9.6 0M887.8 694.8a4.8 4.8 0 1 0 9.6 0a4.8 4.8 0 1 0 -9.6 0M889.2 694.2a4.8 4.8 0 1 0 9.6 0a4.8 4.8 0 1 0 -9.6 0M890.6 694.1a4.8 4.8 0 1 0 9.6 0a4.8 4.8 0 1 0 -9.6 0M892 693.1a4.8 4.8 0 1 0 9.6 0a4.8 4.8 0 1 0 -9.6 0M893.4 693.4a4.8 4.8 0 1 0 9.6 0a4.8 4.8 0 1 0 -9.6 0M894.9 692.6a4.8 4.8 0 1 0 9.6 0a4.8 4.8 0 1 0 -9.6 0M896.3 692.4a4.8 4.8 0 1 0 9.6 0a4.8 4.8 0 1 0 -9.6 0M897.7 692.5a4.8 4.8 0 1 0 9.6 0a4.8 4.8 0 1 0 -9.6 0M899.1 692.2a4.8 4.8 0 1 0 9.6 0a4.8 4.8 0 1 0 -9.6 0M900.6 691.7a4.8 4.8 0 1 0 9.6 0a4.8 4.8 0 1 0 -9.6 0M902 692.3a4.8 4.8 0 1 0 9.6 0a4.8 4.8 0 1 0 -9.6 0M903.4 692a4.8 4.8 0 1 0 9.6 0a4.8 4.8 0 1 0 -9.6 0M904.9 692.7a4.8 4.8 0 1 0 9.6 0a4.8 4.8 0 1 0 -9.6 0M906.3 692.8a4.8 4.8 0 1 0 9.6 0a4.8 4.8 0 1 0 -9.6 0M907.7 693a4.8 4.8 0 1 0 9.6 0a4.8 4.8 0 1 0 -9.6 0M909.1 693.1a4.8 4.8 0 1 0 9.6 0a4.8 4.8 0 1 0 -9.6 0M910.5 693.3a4.8 4.8 0 1 0 9.6 0a4.8 4.8 0 1 0 -9.6 0M911.9 693.8a4.8 4.8 0 1 0 9.6 0a4.8 4.8 0 1 0 -9.6 0M913.3 694.2a4.8 4.8 0 1 0 9.6 0a4.8 4.8 0 1 0 -9.6 0M914.7 695a4.8 4.8 0 1 0 9.6 0a4.8 4.8 0 1 0 -9.6 0M916.1 694.8a4.8 4.8 0 1 0 9.6 0a4.8 4.8 0 1 0 -9.6 0M917.5 696.3a4.8 4.8 0 1 0 9.6 0a4.8 4.8 0 1 0 -9.6 0M918.8 696.6a4.8 4.8 0 1 0 9.6 0a4.8 4.8 0 1 0 -9.6 0M920.1 697.7a4.8 4.8 0 1 0 9.6 0a4.8 4.8 0 1 0 -9.6 0M921.5 698.7a4.8 4.8 0 1 0 9.6 0a4.8 4.8 0 1 0 -9.6 0M922.8 700a4.8 4.8 0 1 0 9.6 0a4.8 4.8 0 1 0 -9.6 0M924.3 699.8a4.8 4.8 0 1 0 9.6 0a4.8 4.8 0 1 0 -9.6 0M925.7 699.9a4.8 4.8 0 1 0 9.6 0a4.8 4.8 0 1 0 -9.6 0M927.1 700.4a4.8 4.8 0 1 0 9.6 0a4.8 4.8 0 1 0 -9.6 0M928.6 700.1a4.8 4.8 0 1 0 9.6 0a4.8 4.8 0 1 0 -9.6 0M929.9 699.7a4.8 4.8 0 1 0 9.6 0a4.8 4.8 0 1 0 -9.6 0M931.3 699.3a4.8 4.8 0 1 0 9.6 0a4.8 4.8 0 1 0 -9.6 0M932.7 699a4.8 4.8 0 1 0 9.6 0a4.8 4.8 0 1 0 -9.6 0M934.2 699.2a4.8 4.8 0 1 0 9.6 0a4.8 4.8 0 1 0 -9.6 0M935.6 699.2a4.8 4.8 0 1 0 9.6 0a4.8 4.8 0 1 0 -9.6 0M937 699.1a4.8 4.8 0 1 0 9.6 0a4.8 4.8 0 1 0 -9.6 0M938.5 699.2a4.8 4.8 0 1 0 9.6 0a4.8 4.8 0 1 0 -9.6 0M939.9 699.2a4.8 4.8 0 1 0 9.6 0a4.8 4.8 0 1 0 -9.6 0M941.3 699.6a4.8 4.8 0 1 0 9.6 0a4.8 4.8 0 1 0 -9.6 0M942.7 698.9a4.8 4.8 0 1 0 9.6 0a4.8 4.8 0 1 0 -9.6 0M944.1 698.4a4.8 4.8 0 1 0 9.6 0a4.8 4.8 0 1 0 -9.6 0M945.4 697.4a4.8 4.8 0 1 0 9.6 0a4.8 4.8 0 1 0 -9.6 0M946.8 697.2a4.8 4.8 0 1 0 9.6 0a4.8 4.8 0 1 0 -9.6 0M948.3 697.6a4.8 4.8 0 1 0 9.6 0a4.8 4.8 0 1 0 -9.6 0M949.7 697.6a4.8 4.8 0 1 0 9.6 0a4.8 4.8 0 1 0 -9.6 0M951.1 697.4a4.8 4.8 0 1 0 9.6 0a4.8 4.8 0 1 0 -9.6 0M952.6 697.9a4.8 4.8 0 1 0 9.6 0a4.8 4.8 0 1 0 -9.6 0M954 698.4a4.8 4.8 0 1 0 9.6 0a4.8 4.8 0 1 0 -9.6 0M955.3 698.7a4.8 4.8 0 1 0 9.6 0a4.8 4.8 0 1 0 -9.6 0M956.6 700.2a4.8 4.8 0 1 0 9.6 0a4.8 4.8 0 1 0 -9.6 0M957.9 701.9a4.8 4.8 0 1 0 9.6 0a4.8 4.8 0 1 0 -9.6 0M959.2 703.5a4.8 4.8 0 1 0 9.6 0a4.8 4.8 0 1 0 -9.6 0M960.6 703.6a4.8 4.8 0 1 0 9.6 0a4.8 4.8 0 1 0 -9.6 0M962.1 703a4.8 4.8 0 1 0 9.6 0a4.8 4.8 0 1 0 -9.6 0M963.5 703a4.8 4.8 0 1 0 9.6 0a4.8 4.8 0 1 0 -9.6 0M965 703.1a4.8 4.8 0 1 0 9.6 0a4.8 4.8 0 1 0 -9.6 0M966.4 703.2a4.8 4.8 0 1 0 9.6 0a4.8 4.8 0 1 0 -9.6 0M967.8 703a4.8 4.8 0 1 0 9.6 0a4.8 4.8 0 1 0 -9.6 0M969.2 702.1a4.8 4.8 0 1 0 9.6 0a4.8 4.8 0 1 0 -9.6 0M970.6 701.7a4.8 4.8 0 1 0 9.6 0a4.8 4.8 0 1 0 -9.6 0M972 701.1a4.8 4.8 0 1 0 9.6 0a4.8 4.8 0 1 0 -9.6 0M973.4 701.3a4.8 4.8 0 1 0 9.6 0a4.8 4.8 0 1 0 -9.6 0M974.8 700.9a4.8 4.8 0 1 0 9.6 0a4.8 4.8 0 1 0 -9.6 0M976.2 700.3a4.8 4.8 0 1 0 9.6 0a4.8 4.8 0 1 0 -9.6 0M977.7 700.9a4.8 4.8 0 1 0 9.6 0a4.8 4.8 0 1 0 -9.6 0M979.1 700.1a4.8 4.8 0 1 0 9.6 0a4.8 4.8 0 1 0 -9.6 0M980.5 700.2a4.8 4.8 0 1 0 9.6 0a4.8 4.8 0 1 0 -9.6 0M982 700.9a4.8 4.8 0 1 0 9.6 0a4.8 4.8 0 1 0 -9.6 0M983.4 701.1a4.8 4.8 0 1 0 9.6 0a4.8 4.8 0 1 0 -9.6 0M984.8 701.4a4.8 4.8 0 1 0 9.6 0a4.8 4.8 0 1 0 -9.6 0M986.2 701.5a4.8 4.8 0 1 0 9.6 0a4.8 4.8 0 1 0 -9.6 0M987.6 701.7a4.8 4.8 0 1 0 9.6 0a4.8 4.8 0 1 0 -9.6 0M989 702.4a4.8 4.8 0 1 0 9.6 0a4.8 4.8 0 1 0 -9.6 0M990.4 701.8a4.8 4.8 0 1 0 9.6 0a4.8 4.8 0 1 0 -9.6 0M991.8 701.6a4.8 4.8 0 1 0 9.6 0a4.8 4.8 0 1 0 -9.6 0M993.3 701.5a4.8 4.8 0 1 0 9.6 0a4.8 4.8 0 1 0 -9.6 0M994.7 701a4.8 4.8 0 1 0 9.6 0a4.8 4.8 0 1 0 -9.6 0M996.1 701a4.8 4.8 0 1 0 9.6 0a4.8 4.8 0 1 0 -9.6 0M997.5 701.2a4.8 4.8 0 1 0 9.6 0a4.8 4.8 0 1 0 -9.6 0M998.9 701.4a4.8 4.8 0 1 0 9.6 0a4.8 4.8 0 1 0 -9.6 0M1000.3 701.6a4.8 4.8 0 1 0 9.6 0a4.8 4.8 0 1 0 -9.6 0M1001.8 702a4.8 4.8 0 1 0 9.6 0a4.8 4.8 0 1 0 -9.6 0M1003.2 702.2a4.8 4.8 0 1 0 9.6 0a4.8 4.8 0 1 0 -9.6 0M1004.6 702.2a4.8 4.8 0 1 0 9.6 0a4.8 4.8 0 1 0 -9.6 0M1006 702.9a4.8 4.8 0 1 0 9.6 0a4.8 4.8 0 1 0 -9.6 0M1007.4 703.1a4.8 4.8 0 1 0 9.6 0a4.8 4.8 0 1 0 -9.6 0M222.1 672.2a4.8 4.8 0 1 0 9.6 0a4.8 4.8 0 1 0 -9.6 0M244.9 671.5a4.8 4.8 0 1 0 9.6 0a4.8 4.8 0 1 0 -9.6 0M344.7 628.1a4.8 4.8 0 1 0 9.6 0a4.8 4.8 0 1 0 -9.6 0M352.4 630.3a4.8 4.8 0 1 0 9.6 0a4.8 4.8 0 1 0 -9.6 0M342.8 635.5a4.8 4.8 0 1 0 9.6 0a4.8 4.8 0 1 0 -9.6 0M347.2 633.3a4.8 4.8 0 1 0 9.6 0a4.8 4.8 0 1 0 -9.6 0M339.9 642.1a4.8 4.8 0 1 0 9.6 0a4.8 4.8 0 1 0 -9.6 0M336.2 648a4.8 4.8 0 1 0 9.6 0a4.8 4.8 0 1 0 -9.6 0M331.1 653.8a4.8 4.8 0 1 0 9.6 0a4.8 4.8 0 1 0 -9.6 0M348.7 639.1a4.8 4.8 0 1 0 9.6 0a4.8 4.8 0 1 0 -9.6 0M354.6 642.1a4.8 4.8 0 1 0 9.6 0a4.8 4.8 0 1 0 -9.6 0M358.3 648a4.8 4.8 0 1 0 9.6 0a4.8 4.8 0 1 0 -9.6 0M363.4 642.1a4.8 4.8 0 1 0 9.6 0a4.8 4.8 0 1 0 -9.6 0M366.3 648a4.8 4.8 0 1 0 9.6 0a4.8 4.8 0 1 0 -9.6 0M369.3 645a4.8 4.8 0 1 0 9.6 0a4.8 4.8 0 1 0 -9.6 0M382.5 636.9a4.8 4.8 0 1 0 9.6 0a4.8 4.8 0 1 0 -9.6 0M379.6 645.8a4.8 4.8 0 1 0 9.6 0a4.8 4.8 0 1 0 -9.6 0M375.2 650.9a4.8 4.8 0 1 0 9.6 0a4.8 4.8 0 1 0 -9.6 0M370 653.8a4.8 4.8 0 1 0 9.6 0a4.8 4.8 0 1 0 -9.6 0M361.9 652.4a4.8 4.8 0 1 0 9.6 0a4.8 4.8 0 1 0 -9.6 0M381.8 605.3a4.8 4.8 0 1 0 9.6 0a4.8 4.8 0 1 0 -9.6 0M388.4 602.4a4.8 4.8 0 1 0 9.6 0a4.8 4.8 0 1 0 -9.6 0M398.7 616.4a4.8 4.8 0 1 0 9.6 0a4.8 4.8 0 1 0 -9.6 0M391.7 628.1a4.8 4.8 0 1 0 9.6 0a4.8 4.8 0 1 0 -9.6 0M398.7 628.9a4.8 4.8 0 1 0 9.6 0a4.8 4.8 0 1 0 -9.6 0M397.2 634.7a4.8 4.8 0 1 0 9.6 0a4.8 4.8 0 1 0 -9.6 0M396.5 642.1a4.8 4.8 0 1 0 9.6 0a4.8 4.8 0 1 0 -9.6 0M395.7 651.3a4.8 4.8 0 1 0 9.6 0a4.8 4.8 0 1 0 -9.6 0M413.6 458.3a4.8 4.8 0 1 0 9.6 0a4.8 4.8 0 1 0 -9.6 0M414.7 493.4a4.8 4.8 0 1 0 9.6 0a4.8 4.8 0 1 0 -9.6 0M387.8 508.3a4.8 4.8 0 1 0 9.6 0a4.8 4.8 0 1 0 -9.6 0M405.6 511a4.8 4.8 0 1 0 9.6 0a4.8 4.8 0 1 0 -9.6 0M404.7 515.6a4.8 4.8 0 1 0 9.6 0a4.8 4.8 0 1 0 -9.6 0M384.7 527.4a4.8 4.8 0 1 0 9.6 0a4.8 4.8 0 1 0 -9.6 0M400.8 541.4a4.8 4.8 0 1 0 9.6 0a4.8 4.8 0 1 0 -9.6 0M418.9 544.5a4.8 4.8 0 1 0 9.6 0a4.8 4.8 0 1 0 -9.6 0M416.8 547.8a4.8 4.8 0 1 0 9.6 0a4.8 4.8 0 1 0 -9.6 0M419.7 558.2a4.8 4.8 0 1 0 9.6 0a4.8 4.8 0 1 0 -9.6 0M420.8 570.2a4.8 4.8 0 1 0 9.6 0a4.8 4.8 0 1 0 -9.6 0M389.6 574.2a4.8 4.8 0 1 0 9.6 0a4.8 4.8 0 1 0 -9.6 0M383.7 581.2a4.8 4.8 0 1 0 9.6 0a4.8 4.8 0 1 0 -9.6 0M417.9 583.4a4.8 4.8 0 1 0 9.6 0a4.8 4.8 0 1 0 -9.6 0M423 582.3a4.8 4.8 0 1 0 9.6 0a4.8 4.8 0 1 0 -9.6 0M403.6 587.5a4.8 4.8 0 1 0 9.6 0a4.8 4.8 0 1 0 -9.6 0M406.9 591.5a4.8 4.8 0 1 0 9.6 0a4.8 4.8 0 1 0 -9.6 0M390 594.8a4.8 4.8 0 1 0 9.6 0a4.8 4.8 0 1 0 -9.6 0M385.6 596.3a4.8 4.8 0 1 0 9.6 0a4.8 4.8 0 1 0 -9.6 0M425.6 595.2a4.8 4.8 0 1 0 9.6 0a4.8 4.8 0 1 0 -9.6 0M388.9 602.2a4.8 4.8 0 1 0 9.6 0a4.8 4.8 0 1 0 -9.6 0M381.5 605.1a4.8 4.8 0 1 0 9.6 0a4.8 4.8 0 1 0 -9.6 0M424.5 602.2a4.8 4.8 0 1 0 9.6 0a4.8 4.8 0 1 0 -9.6 0M423.6 607.5a4.8 4.8 0 1 0 9.6 0a4.8 4.8 0 1 0 -9.6 0M398.8 616.5a4.8 4.8 0 1 0 9.6 0a4.8 4.8 0 1 0 -9.6 0M402.8 621.3a4.8 4.8 0 1 0 9.6 0a4.8 4.8 0 1 0 -9.6 0M408.7 616.2a4.8 4.8 0 1 0 9.6 0a4.8 4.8 0 1 0 -9.6 0M412 619.1a4.8 4.8 0 1 0 9.6 0a4.8 4.8 0 1 0 -9.6 0M412.8 626.5a4.8 4.8 0 1 0 9.6 0a4.8 4.8 0 1 0 -9.6 0M380.4 625.3a4.8 4.8 0 1 0 9.6 0a4.8 4.8 0 1 0 -9.6 0M391.8 627.6a4.8 4.8 0 1 0 9.6 0a4.8 4.8 0 1 0 -9.6 0M399.5 629.4a4.8 4.8 0 1 0 9.6 0a4.8 4.8 0 1 0 -9.6 0M397.7 634.5a4.8 4.8 0 1 0 9.6 0a4.8 4.8 0 1 0 -9.6 0M376.8 633.1a4.8 4.8 0 1 0 9.6 0a4.8 4.8 0 1 0 -9.6 0M382.6 637.5a4.8 4.8 0 1 0 9.6 0a4.8 4.8 0 1 0 -9.6 0M371.6 638.2a4.8 4.8 0 1 0 9.6 0a4.8 4.8 0 1 0 -9.6 0M396.6 642.2a4.8 4.8 0 1 0 9.6 0a4.8 4.8 0 1 0 -9.6 0M410.6 645.2a4.8 4.8 0 1 0 9.6 0a4.8 4.8 0 1 0 -9.6 0M409.4 650.7a4.8 4.8 0 1 0 9.6 0a4.8 4.8 0 1 0 -9.6 0M395.5 651.1a4.8 4.8 0 1 0 9.6 0a4.8 4.8 0 1 0 -9.6 0M379.7 647a4.8 4.8 0 1 0 9.6 0a4.8 4.8 0 1 0 -9.6 0M374.5 644.1a4.8 4.8 0 1 0 9.6 0a4.8 4.8 0 1 0 -9.6 0M374.5 653.6a4.8 4.8 0 1 0 9.6 0a4.8 4.8 0 1 0 -9.6 0M369.4 647.8a4.8 4.8 0 1 0 9.6 0a4.8 4.8 0 1 0 -9.6 0M394.8 658a4.8 4.8 0 1 0 9.6 0a4.8 4.8 0 1 0 -9.6 0M426.7 637.1a4.8 4.8 0 1 0 9.6 0a4.8 4.8 0 1 0 -9.6 0M430.4 642.6a4.8 4.8 0 1 0 9.6 0a4.8 4.8 0 1 0 -9.6 0M435.5 644.1a4.8 4.8 0 1 0 9.6 0a4.8 4.8 0 1 0 -9.6 0M442.9 643.4a4.8 4.8 0 1 0 9.6 0a4.8 4.8 0 1 0 -9.6 0M429.7 650.7a4.8 4.8 0 1 0 9.6 0a4.8 4.8 0 1 0 -9.6 0M434.8 652.9a4.8 4.8 0 1 0 9.6 0a4.8 4.8 0 1 0 -9.6 0M440.7 651.4a4.8 4.8 0 1 0 9.6 0a4.8 4.8 0 1 0 -9.6 0M445.1 650a4.8 4.8 0 1 0 9.6 0a4.8 4.8 0 1 0 -9.6 0M377.5 641.1a4.8 4.8 0 1 0 9.6 0a4.8 4.8 0 1 0 -9.6 0M371.6 652.9a4.8 4.8 0 1 0 9.6 0a4.8 4.8 0 1 0 -9.6 0M394.8 659.6a4.8 4.8 0 1 0 9.6 0a4.8 4.8 0 1 0 -9.6 0M431.1 656.6a4.8 4.8 0 1 0 9.6 0a4.8 4.8 0 1 0 -9.6 0M437.7 654.4a4.8 4.8 0 1 0 9.6 0a4.8 4.8 0 1 0 -9.6 0M443.6 658.1a4.8 4.8 0 1 0 9.6 0a4.8 4.8 0 1 0 -9.6 0M513.8 612a4.8 4.8 0 1 0 9.6 0a4.8 4.8 0 1 0 -9.6 0M508.7 634.1a4.8 4.8 0 1 0 9.6 0a4.8 4.8 0 1 0 -9.6 0M515.3 648.8a4.8 4.8 0 1 0 9.6 0a4.8 4.8 0 1 0 -9.6 0M520.4 648a4.8 4.8 0 1 0 9.6 0a4.8 4.8 0 1 0 -9.6 0M472.7 662a4.8 4.8 0 1 0 9.6 0a4.8 4.8 0 1 0 -9.6 0M468.3 663.5a4.8 4.8 0 1 0 9.6 0a4.8 4.8 0 1 0 -9.6 0M511.6 473.5a4.8 4.8 0 1 0 9.6 0a4.8 4.8 0 1 0 -9.6 0M512.6 527.5a4.8 4.8 0 1 0 9.6 0a4.8 4.8 0 1 0 -9.6 0M509.7 555.3a4.8 4.8 0 1 0 9.6 0a4.8 4.8 0 1 0 -9.6 0M519.4 648.1a4.8 4.8 0 1 0 9.6 0a4.8 4.8 0 1 0 -9.6 0M530.5 673.1a4.8 4.8 0 1 0 9.6 0a4.8 4.8 0 1 0 -9.6 0M533.4 691.4a4.8 4.8 0 1 0 9.6 0a4.8 4.8 0 1 0 -9.6 0M544.4 695.1a4.8 4.8 0 1 0 9.6 0a4.8 4.8 0 1 0 -9.6 0M543 700.2a4.8 4.8 0 1 0 9.6 0a4.8 4.8 0 1 0 -9.6 0M565.7 696.6a4.8 4.8 0 1 0 9.6 0a4.8 4.8 0 1 0 -9.6 0M596.6 689.2a4.8 4.8 0 1 0 9.6 0a4.8 4.8 0 1 0 -9.6 0M624.5 689.2a4.8 4.8 0 1 0 9.6 0a4.8 4.8 0 1 0 -9.6 0" fill="#00f"/>
</g>
<rect x="68.5" y="89.5" width="945.0" height="614.0" fill="none" stroke="#000" stroke-width="1.1"/>
<path d="M68.5 703.5h-4.9M1013.5 703.5h4.9M68.5 641.5h-4.9M1013.5 641.5h4.9M68.5 580.5h-4.9M1013.5 580.5h4.9M68.5 519.5h-4.9M1013.5 519.5h4.9M68.5 457.5h-4.9M1013.5 457.5h4.9M68.5 396.5h-4.9M1013.5 396.5h4.9M68.5 334.5h-4.9M1013.5 334.5h4.9M68.5 273.5h-4.9M1013.5 273.5h4.9M68.5 211.5h-4.9M1013.5 211.5h4.9M68.5 150.5h-4.9M1013.5 150.5h4.9M68.5 89.5h-4.9M1013.5 89.5h4.9M68.5 703.5v4.9M147.5 703.5v4.9M226.5 703.5v4.9M305.5 703.5v4.9M385.5 703.5v4.9M464.5 703.5v4.9M543.5 703.5v4.9M622.5 703.5v4.9M701.5 703.5v4.9M781.5 703.5v4.9M860.5 703.5v4.9M939.5 703.5v4.9" stroke="#000" stroke-width="1.05" fill="none"/>
<g font-family="'DejaVu Sans', 'Liberation Sans', sans-serif" fill="#000">
<text x="58.2" y="710.5" font-size="17.3" text-anchor="end">0</text>
<text x="1023.0" y="710.5" font-size="17.3">0</text>
<text x="58.2" y="648.5" font-size="17.3" text-anchor="end">1</text>
<text x="1023.0" y="648.5" font-size="17.3">1</text>
<text x="58.2" y="587.5" font-size="17.3" text-anchor="end">2</text>
<text x="1023.0" y="587.5" font-size="17.3">2</text>
<text x="58.2" y="526.5" font-size="17.3" text-anchor="end">3</text>
<text x="1023.0" y="526.5" font-size="17.3">3</text>
<text x="58.2" y="464.5" font-size="17.3" text-anchor="end">4</text>
<text x="1023.0" y="464.5" font-size="17.3">4</text>
<text x="58.2" y="403.5" font-size="17.3" text-anchor="end">5</text>
<text x="1023.0" y="403.5" font-size="17.3">5</text>
<text x="58.2" y="341.5" font-size="17.3" text-anchor="end">6</text>
<text x="1023.0" y="341.5" font-size="17.3">6</text>
<text x="58.2" y="280.5" font-size="17.3" text-anchor="end">7</text>
<text x="1023.0" y="280.5" font-size="17.3">7</text>
<text x="58.2" y="218.5" font-size="17.3" text-anchor="end">8</text>
<text x="1023.0" y="218.5" font-size="17.3">8</text>
<text x="58.2" y="157.5" font-size="17.3" text-anchor="end">9</text>
<text x="1023.0" y="157.5" font-size="17.3">9</text>
<text x="58.2" y="96.5" font-size="17.3" text-anchor="end">10</text>
<text x="1023.0" y="96.5" font-size="17.3">10</text>
<text x="67.9" y="725.6" font-size="18.3" text-anchor="middle">06</text>
<text x="146.9" y="725.6" font-size="18.3" text-anchor="middle">08</text>
<text x="225.9" y="725.6" font-size="18.3" text-anchor="middle">10</text>
<text x="304.9" y="725.6" font-size="18.3" text-anchor="middle">12</text>
<text x="384.9" y="725.6" font-size="18.3" text-anchor="middle">14</text>
<text x="463.9" y="725.6" font-size="18.3" text-anchor="middle">16</text>
<text x="542.9" y="725.6" font-size="18.3" text-anchor="middle">18</text>
<text x="621.9" y="725.6" font-size="18.3" text-anchor="middle">20</text>
<text x="700.9" y="725.6" font-size="18.3" text-anchor="middle">22</text>
<text x="780.9" y="725.6" font-size="18.3" text-anchor="middle">Feb-08</text>
<text x="859.9" y="725.6" font-size="18.3" text-anchor="middle">02</text>
<text x="938.9" y="725.6" font-size="18.3" text-anchor="middle">04</text>
<text x="540.2" y="751.4" font-size="21.1" text-anchor="middle">Time (UTC)</text>
<text transform="translate(24.8 397) rotate(-90)" font-size="20.7" text-anchor="middle">Cloud Base (km)</text>
<text transform="translate(1066.8 396) rotate(-90)" font-size="20.8" text-anchor="middle">Integrated Moisture (mm liquid | cm vapor)</text>
<text x="535.7" y="36" font-size="33.47" text-anchor="middle">Stony Brook, NY (STON) Derived MWR Products</text>
<text x="540.6" y="81.3" font-size="27.94" text-anchor="middle">06 UTC 02/07/20 - 06 UTC 02/08/20</text>
<rect x="766.7" y="98.4" width="237.1" height="120.3" rx="3.5" fill="rgba(255,255,255,0.8)" stroke="rgba(204,204,204,0.8)" stroke-width="1.4"/>
<circle cx="794.5" cy="116.5" r="4.8" fill="#000"/>
<circle cx="794.5" cy="145.3" r="4.8" fill="#f00"/>
<circle cx="794.5" cy="173.7" r="4.8" fill="#00f"/>
<line x1="773.3" x2="813.8" y1="199.9" y2="199.9" stroke="rgba(0,128,0,0.5)" stroke-width="2.1"/>
<text x="829.0" y="120.8" font-size="19.44">Cloud Base</text>
<text x="829.0" y="149.5" font-size="19.44">Integrated Vapor</text>
<text x="829.0" y="178.2" font-size="19.44">Integrated Liquid</text>
<text x="829.0" y="206.9" font-size="19.44">Rain Flag</text>
</g>
<g font-family="'Liberation Sans', 'DejaVu Sans', sans-serif" font-weight="bold">
<path d="M1015.4 730.5 L1027.8 730.1 L1028.7 734.2 L1028.1 738.8 L1029.1 741.5 L1029.7 746.1 L1028.8 752.5 L1028.6 761.7 L1027.9 765.2 L1031.4 764.7 L1035.1 763.6 L1038.8 762.1 L1038.4 763.0 L1035.1 764.6 L1029.6 766.9 L1024.1 769.6 L1023.2 768.8 L1026.5 766.3 L1025.0 764.7 L1023.9 763.6 L1019.0 761.0 L1016.9 757.3 L1016.4 755.5 L987.5 755.9 L985.9 754.9 L986.4 753.5 L991.8 749.5 L992.9 747.6 L991.0 745.4 L991.9 743.9 L998.4 743.4 L1003.9 743.9 L1007.5 743.0 L1010.3 741.5 L1010.9 739.0 L1009.2 737.5 L1011.7 735.7 L1013.5 732.5Z" fill="#eea90c"/>
<text x="1008.2" y="754.9" font-size="15.4" fill="#fff" stroke="#fff" stroke-width="0.4" textLength="17.5" lengthAdjust="spacingAndGlyphs">NYS</text>
<text x="1030.6" y="754.9" font-size="15.4" fill="#4f2a70" stroke="#4f2a70" stroke-width="0.45" textLength="42.8" lengthAdjust="spacingAndGlyphs">Mesonet</text>
<text x="1031.0" y="759.8" font-size="3" fill="#4f2a70" textLength="42.5" lengthAdjust="spacingAndGlyphs">UNIVERSITY AT ALBANY</text>
</g>
</svg></body></html>
